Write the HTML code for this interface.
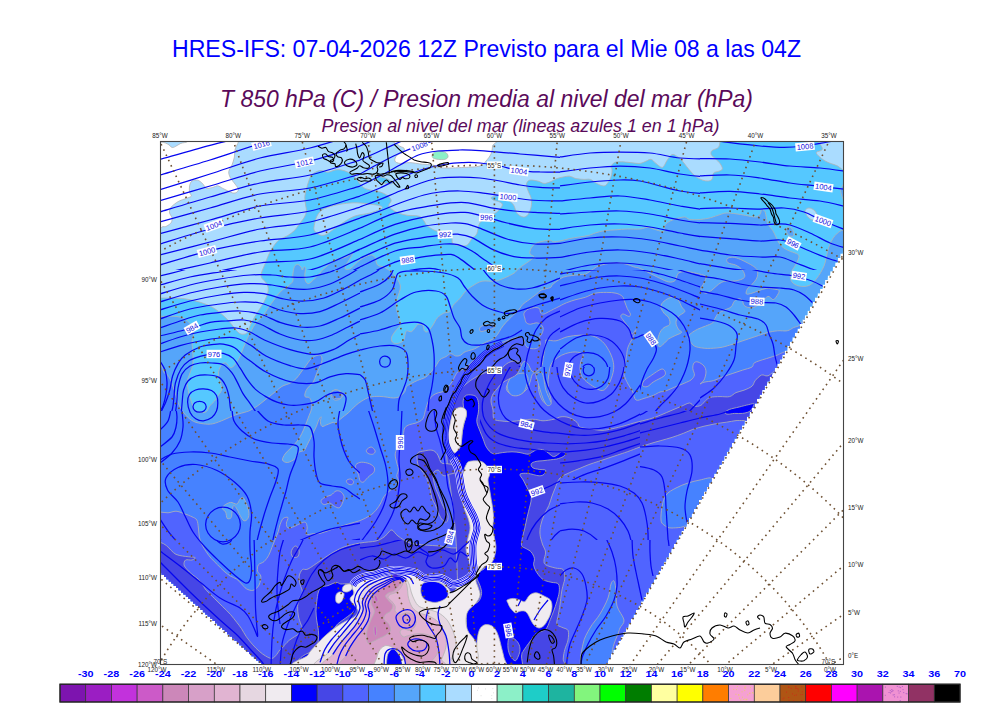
<!DOCTYPE html>
<html><head><meta charset="utf-8"><title>HRES-IFS T850</title>
<style>html,body{margin:0;padding:0;background:#fff;}body{width:1000px;height:707px;overflow:hidden;font-family:"Liberation Sans",sans-serif;}svg{display:block;position:absolute;left:0;top:0;}text{font-family:"Liberation Sans",sans-serif;}.t1{font-size:24.4px;fill:#0000ff;}.t2{font-size:24.6px;fill:#5a0a5a;font-style:italic;}.t3{font-size:18.2px;fill:#5a0a5a;font-style:italic;}.cl{font-size:9.4px;font-weight:bold;fill:#0000ff;text-anchor:middle;}.ax{font-size:6.3px;fill:#222;}.lb{font-size:7.5px;fill:#1010e0;text-anchor:middle;}</style></head><body>
<svg width="1000" height="707" viewBox="0 0 1000 707">
<rect x="0" y="0" width="1000" height="707" fill="#ffffff"/>
<defs><clipPath id="fr"><rect x="160.5" y="141.5" width="683.0" height="523.0"/></clipPath>
<clipPath id="dat"><polygon points="160.0,141.0 844.0,141.0 844.0,247.0 845.2,247.0 845.2,249.2 842.8,249.2 842.8,251.4 842.7,251.4 842.7,253.6 840.3,253.6 840.3,255.8 840.2,255.8 840.2,258.0 837.8,258.0 837.8,260.2 837.6,260.2 837.6,262.4 835.2,262.4 835.2,264.6 835.1,264.6 835.1,266.8 832.7,266.8 832.7,269.0 832.6,269.0 832.6,271.2 830.2,271.2 830.2,273.4 830.1,273.4 830.1,275.6 827.7,275.6 827.7,277.8 827.5,277.8 827.5,280.0 825.1,280.0 825.1,282.2 825.0,282.2 825.0,284.4 822.6,284.4 822.6,286.6 822.5,286.6 822.5,288.8 820.1,288.8 820.1,291.0 820.0,291.0 820.0,293.2 817.6,293.2 817.6,295.4 817.4,295.4 817.4,297.6 815.0,297.6 815.0,299.8 814.9,299.8 814.9,302.0 812.5,302.0 812.5,304.2 812.4,304.2 812.4,306.4 810.0,306.4 810.0,308.6 809.9,308.6 809.9,310.8 807.5,310.8 807.5,313.0 807.4,313.0 807.4,315.2 805.0,315.2 805.0,317.4 804.8,317.4 804.8,319.6 802.4,319.6 802.4,321.8 802.3,321.8 802.3,324.0 799.9,324.0 799.9,326.2 799.8,326.2 799.8,328.4 797.4,328.4 797.4,330.6 797.3,330.6 797.3,332.8 794.9,332.8 794.9,335.0 794.7,335.0 794.7,337.2 792.3,337.2 792.3,339.4 792.2,339.4 792.2,341.6 789.8,341.6 789.8,343.8 789.7,343.8 789.7,346.0 787.3,346.0 787.3,348.2 787.2,348.2 787.2,350.4 784.8,350.4 784.8,352.6 784.6,352.6 784.6,354.8 782.2,354.8 782.2,357.0 782.1,357.0 782.1,359.2 779.7,359.2 779.7,361.4 779.6,361.4 779.6,363.6 777.2,363.6 777.2,365.8 777.1,365.8 777.1,368.0 774.7,368.0 774.7,370.2 774.6,370.2 774.6,372.4 772.2,372.4 772.2,374.6 772.0,374.6 772.0,376.8 769.6,376.8 769.6,379.0 769.5,379.0 769.5,381.2 767.1,381.2 767.1,383.4 767.0,383.4 767.0,385.6 764.6,385.6 764.6,387.8 764.5,387.8 764.5,390.0 762.1,390.0 762.1,392.2 761.9,392.2 761.9,394.4 759.5,394.4 759.5,396.6 759.4,396.6 759.4,398.8 757.0,398.8 757.0,401.0 756.9,401.0 756.9,403.2 754.5,403.2 754.5,405.4 754.4,405.4 754.4,407.6 752.0,407.6 752.0,409.8 751.9,409.8 751.9,412.0 749.5,412.0 749.5,414.2 749.3,414.2 749.3,416.4 746.9,416.4 746.9,418.6 746.8,418.6 746.8,420.8 744.4,420.8 744.4,423.0 744.3,423.0 744.3,425.2 741.9,425.2 741.9,427.4 741.8,427.4 741.8,429.6 739.4,429.6 739.4,431.8 739.2,431.8 739.2,434.0 736.8,434.0 736.8,436.2 736.7,436.2 736.7,438.4 734.3,438.4 734.3,440.6 734.2,440.6 734.2,442.8 731.8,442.8 731.8,445.0 731.7,445.0 731.7,447.2 729.3,447.2 729.3,449.4 729.1,449.4 729.1,451.6 726.7,451.6 726.7,453.8 726.6,453.8 726.6,456.0 724.2,456.0 724.2,458.2 724.1,458.2 724.1,460.4 721.7,460.4 721.7,462.6 721.6,462.6 721.6,464.8 719.2,464.8 719.2,467.0 719.1,467.0 719.1,469.2 716.7,469.2 716.7,471.4 716.5,471.4 716.5,473.6 714.1,473.6 714.1,475.8 714.0,475.8 714.0,478.0 711.6,478.0 711.6,480.2 711.5,480.2 711.5,482.4 709.1,482.4 709.1,484.6 709.0,484.6 709.0,486.8 706.6,486.8 706.6,489.0 706.4,489.0 706.4,491.2 704.0,491.2 704.0,493.4 703.9,493.4 703.9,495.6 701.5,495.6 701.5,497.8 701.4,497.8 701.4,500.0 699.0,500.0 699.0,502.2 698.9,502.2 698.9,504.4 696.5,504.4 696.5,506.6 696.3,506.6 696.3,508.8 693.9,508.8 693.9,511.0 693.8,511.0 693.8,513.2 691.4,513.2 691.4,515.4 691.3,515.4 691.3,517.6 688.9,517.6 688.9,519.8 688.8,519.8 688.8,522.0 686.4,522.0 686.4,524.2 686.3,524.2 686.3,526.4 683.9,526.4 683.9,528.6 683.7,528.6 683.7,530.8 681.3,530.8 681.3,533.0 681.2,533.0 681.2,535.2 678.8,535.2 678.8,537.4 678.7,537.4 678.7,539.6 676.3,539.6 676.3,541.8 676.2,541.8 676.2,544.0 673.8,544.0 673.8,546.2 673.6,546.2 673.6,548.4 671.2,548.4 671.2,550.6 671.1,550.6 671.1,552.8 668.7,552.8 668.7,555.0 668.6,555.0 668.6,557.2 666.2,557.2 666.2,559.4 666.1,559.4 666.1,561.6 663.7,561.6 663.7,563.8 663.5,563.8 663.5,566.0 661.1,566.0 661.1,568.2 661.0,568.2 661.0,570.4 658.6,570.4 658.6,572.6 658.5,572.6 658.5,574.8 656.1,574.8 656.1,577.0 656.0,577.0 656.0,579.2 653.6,579.2 653.6,581.4 653.5,581.4 653.5,583.6 651.1,583.6 651.1,585.8 650.9,585.8 650.9,588.0 648.5,588.0 648.5,590.2 648.4,590.2 648.4,592.4 646.0,592.4 646.0,594.6 645.9,594.6 645.9,596.8 643.5,596.8 643.5,599.0 643.4,599.0 643.4,601.2 641.0,601.2 641.0,603.4 640.8,603.4 640.8,605.6 638.4,605.6 638.4,607.8 638.3,607.8 638.3,610.0 635.9,610.0 635.9,612.2 635.8,612.2 635.8,614.4 633.4,614.4 633.4,616.6 633.3,616.6 633.3,618.8 630.9,618.8 630.9,621.0 630.8,621.0 630.8,623.2 628.4,623.2 628.4,625.4 628.2,625.4 628.2,627.6 625.8,627.6 625.8,629.8 625.7,629.8 625.7,632.0 623.3,632.0 623.3,634.2 623.2,634.2 623.2,636.4 620.8,636.4 620.8,638.6 620.7,638.6 620.7,640.8 618.3,640.8 618.3,643.0 618.1,643.0 618.1,645.2 615.7,645.2 615.7,647.4 615.6,647.4 615.6,649.6 613.2,649.6 613.2,651.8 613.1,651.8 613.1,654.0 610.7,654.0 610.7,656.2 610.6,656.2 610.6,658.4 608.2,658.4 608.2,660.6 608.0,660.6 608.0,662.8 605.6,662.8 605.6,665.0 605.5,665.0 605.5,667.2 603.1,667.2 603.1,669.4 260.0,667.0 261.2,665.0 261.2,662.8 258.8,662.8 258.8,660.6 256.3,660.6 256.3,658.4 253.9,658.4 253.9,656.2 251.5,656.2 251.5,654.0 249.1,654.0 249.1,651.8 246.6,651.8 246.6,649.6 244.2,649.6 244.2,647.4 241.8,647.4 241.8,645.2 239.4,645.2 239.4,643.0 236.9,643.0 236.9,640.8 234.5,640.8 234.5,638.6 232.0,638.6 232.0,636.4 229.6,636.4 229.6,634.2 227.2,634.2 227.2,632.0 224.8,632.0 224.8,629.8 222.3,629.8 222.3,627.6 219.9,627.6 219.9,625.4 217.4,625.4 217.4,623.2 215.0,623.2 215.0,621.0 212.6,621.0 212.6,618.8 210.2,618.8 210.2,616.6 207.7,616.6 207.7,614.4 205.3,614.4 205.3,612.2 202.9,612.2 202.9,610.0 200.5,610.0 200.5,607.8 198.0,607.8 198.0,605.6 195.6,605.6 195.6,603.4 193.1,603.4 193.1,601.2 190.7,601.2 190.7,599.0 188.3,599.0 188.3,596.8 185.9,596.8 185.9,594.6 183.4,594.6 183.4,592.4 181.0,592.4 181.0,590.2 178.5,590.2 178.5,588.0 176.1,588.0 176.1,585.8 173.7,585.8 173.7,583.6 171.3,583.6 171.3,581.4 168.8,581.4 168.8,579.2 166.4,579.2 166.4,577.0 164.0,577.0 164.0,574.8 161.6,574.8 161.6,572.6 160.0,574.5"/></clipPath></defs>
<g clip-path="url(#fr)">
<g clip-path="url(#dat)" stroke-linejoin="round">
<path d="M150.0 130.0 L860.0 130.0 L860.0 680.0 L150.0 680.0Z" fill="#55c8ff"/>
<path d="M150.0 298.0C151.7 325.2 154.0 297.8 160.0 298.0C166.0 298.2 177.7 297.7 186.0 299.0C194.3 300.3 203.3 302.8 210.0 306.0C216.7 309.2 221.7 314.0 226.0 318.0C230.3 322.0 233.5 327.3 236.0 330.0C238.5 332.7 239.2 333.5 241.0 334.0C242.8 334.5 245.5 334.3 247.0 333.0C248.5 331.7 248.8 328.5 250.0 326.0C251.2 323.5 252.5 320.7 254.0 318.0C255.5 315.3 257.3 312.7 259.0 310.0C260.7 307.3 262.5 305.0 264.0 302.0C265.5 299.0 267.5 295.0 268.0 292.0C268.5 289.0 268.2 286.7 267.0 284.0C265.8 281.3 261.3 279.3 261.0 276.0C260.7 272.7 263.5 268.0 265.0 264.0C266.5 260.0 268.2 255.5 270.0 252.0C271.8 248.5 274.3 245.1 276.0 243.0C277.7 240.9 278.0 240.7 280.0 239.4C282.0 238.1 285.6 236.9 288.0 235.4C290.4 233.9 292.5 232.5 294.4 230.6C296.3 228.7 297.6 226.3 299.2 224.2C300.8 222.1 302.8 219.9 304.0 217.8C305.2 215.7 306.1 213.5 306.4 211.4C306.7 209.3 305.9 207.4 305.6 205.0C305.3 202.6 304.7 199.7 304.8 197.0C304.9 194.3 305.7 191.7 306.4 189.0C307.1 186.3 307.9 183.4 308.8 181.0C309.7 178.6 310.1 176.3 312.0 174.6C313.9 172.9 317.3 171.0 320.0 170.6C322.7 170.2 325.3 172.3 328.0 172.2C330.7 172.1 333.3 170.1 336.0 169.8C338.7 169.5 341.3 169.8 344.0 170.6C346.7 171.4 349.9 173.1 352.0 174.6C354.1 176.1 354.9 177.3 356.8 179.4C358.7 181.5 360.5 185.5 363.2 187.4C365.9 189.3 369.9 189.8 372.8 190.6C375.7 191.4 378.4 191.4 380.8 192.2C383.2 193.0 385.5 194.1 387.2 195.4C388.9 196.7 390.9 198.6 391.2 200.2C391.5 201.8 388.9 203.7 388.8 205.0C388.7 206.3 388.8 206.9 390.4 208.2C392.0 209.5 395.5 211.8 398.4 213.0C401.3 214.2 404.5 214.9 408.0 215.4C411.5 215.9 416.5 215.3 419.2 216.2C421.9 217.1 422.7 219.4 424.0 221.0C425.3 222.6 425.3 224.2 427.2 225.8C429.1 227.4 432.8 229.5 435.2 230.6C437.6 231.7 438.9 231.1 441.6 232.2C444.3 233.3 449.3 235.1 451.2 237.0C453.1 238.9 451.2 241.9 452.8 243.4C454.4 244.9 458.4 245.5 460.8 245.8C463.2 246.1 465.3 246.2 467.2 245.0C469.1 243.8 470.4 240.5 472.0 238.6C473.6 236.7 475.5 236.5 476.8 233.8C478.1 231.1 477.9 225.5 480.0 222.6C482.1 219.7 486.7 218.1 489.6 216.2C492.5 214.3 495.5 213.3 497.6 211.4C499.7 209.5 502.1 206.6 502.4 205.0C502.7 203.4 500.7 202.6 499.2 201.8C497.7 201.0 494.9 200.9 493.6 200.2C492.3 199.5 491.1 198.5 491.2 197.8C491.3 197.1 492.8 196.6 494.4 196.2C496.0 195.8 498.7 194.9 500.8 195.4C502.9 195.9 505.1 197.8 507.2 199.4C509.3 201.0 512.0 202.7 513.6 205.0C515.2 207.3 515.2 211.0 516.8 213.0C518.4 215.0 521.3 216.7 523.2 217.0C525.1 217.3 526.7 216.3 528.0 214.6C529.3 212.9 530.7 209.3 531.2 206.6C531.7 203.9 531.7 201.3 531.2 198.6C530.7 195.9 528.8 193.0 528.0 190.6C527.2 188.2 526.1 185.9 526.4 184.2C526.7 182.5 527.7 180.7 529.6 180.2C531.5 179.7 535.2 180.5 537.6 181.0C540.0 181.5 541.9 183.3 544.0 183.4C546.1 183.5 548.3 182.6 550.4 181.8C552.5 181.0 554.7 179.4 556.8 178.6C558.9 177.8 561.1 177.4 563.2 177.0C565.3 176.6 567.5 175.9 569.6 176.2C571.7 176.5 573.6 178.1 576.0 178.6C578.4 179.1 581.6 179.3 584.0 179.4C586.4 179.5 588.5 178.9 590.4 179.4C592.3 179.9 593.6 181.7 595.2 182.6C596.8 183.5 598.4 184.5 600.0 185.0C601.6 185.5 603.5 186.2 604.8 185.8C606.1 185.4 606.9 184.2 608.0 182.6C609.1 181.0 610.5 178.3 611.2 176.2C611.9 174.1 612.0 171.4 612.0 169.8C612.0 168.2 610.8 167.8 611.2 166.6C611.6 165.4 612.8 163.4 614.4 162.6C616.0 161.8 618.1 161.8 620.8 161.8C623.5 161.8 627.2 162.3 630.4 162.6C633.6 162.9 637.3 163.7 640.0 163.4C642.7 163.1 644.5 161.7 646.4 161.0C648.3 160.3 649.6 159.0 651.2 159.4C652.8 159.8 654.1 162.1 656.0 163.4C657.9 164.7 660.5 167.9 662.4 167.4C664.3 166.9 665.6 162.3 667.2 160.2C668.8 158.1 670.4 155.3 672.0 154.6C673.6 153.9 675.2 155.3 676.8 156.2C678.4 157.1 679.7 158.2 681.6 160.2C683.5 162.2 685.9 165.7 688.0 168.2C690.1 170.7 692.3 173.5 694.4 175.4C696.5 177.3 698.7 178.5 700.8 179.4C702.9 180.3 705.3 181.0 707.2 181.0C709.1 181.0 710.9 180.7 712.0 179.4C713.1 178.1 712.5 174.3 713.6 173.0C714.7 171.7 716.9 172.1 718.4 171.4C719.9 170.7 722.1 170.3 722.4 169.0C722.7 167.7 721.2 165.1 720.0 163.4C718.8 161.7 716.7 160.1 715.2 158.6C713.7 157.1 711.7 155.9 711.2 154.6C710.7 153.3 710.8 151.8 712.0 150.6C713.2 149.4 717.1 148.9 718.4 147.4C719.7 145.9 719.6 143.9 720.0 141.8C720.4 139.7 815.8 135.7 720.8 134.6C625.8 133.5 245.1 107.8 150.0 135.0C54.9 162.2 148.3 270.8 150.0 298.0Z" fill="#aadcff" stroke="#b4b4b4" stroke-width="0.8"/>
<path d="M314.0 227.0C314.7 223.0 316.0 214.0 322.0 210.0C328.0 206.0 341.0 203.8 350.0 203.0C359.0 202.2 370.7 204.2 376.0 205.0C381.3 205.8 383.0 206.7 382.0 208.0C381.0 209.3 374.5 211.7 370.0 213.0C365.5 214.3 359.3 214.5 355.0 216.0C350.7 217.5 347.5 219.8 344.0 222.0C340.5 224.2 337.2 226.8 334.0 229.0C330.8 231.2 327.7 234.2 325.0 235.0C322.3 235.8 319.8 235.3 318.0 234.0C316.2 232.7 313.3 231.0 314.0 227.0Z" fill="#aadcff" stroke="#b4b4b4" stroke-width="0.8"/>
<path d="M817.6 135.0C813.0 137.3 822.6 145.9 822.4 148.8C822.2 151.7 816.8 151.0 816.4 152.4C816.0 153.8 818.2 155.6 820.0 157.2C821.8 158.8 824.4 160.6 827.2 162.0C830.0 163.4 833.0 164.1 836.8 165.6C840.6 167.1 847.8 176.1 850.0 171.0C852.2 165.9 855.4 141.0 850.0 135.0C844.6 129.0 822.2 132.7 817.6 135.0Z" fill="#aadcff" stroke="#b4b4b4" stroke-width="0.8"/>
<path d="M805.0 211.0C805.2 209.5 807.3 208.0 809.0 208.0C810.7 208.0 813.7 209.5 815.0 211.0C816.3 212.5 817.3 215.5 817.0 217.0C816.7 218.5 814.5 220.0 813.0 220.0C811.5 220.0 809.3 218.5 808.0 217.0C806.7 215.5 804.8 212.5 805.0 211.0Z" fill="#aadcff" stroke="#b4b4b4" stroke-width="0.8"/>
<path d="M152.0 136.2C166.4 121.5 224.0 135.3 238.4 136.2C252.8 137.1 238.9 139.7 238.4 141.8C237.9 143.9 235.9 146.5 235.2 149.0C234.5 151.5 234.9 154.3 234.4 157.0C233.9 159.7 232.9 162.6 232.0 165.0C231.1 167.4 229.1 169.3 228.8 171.4C228.5 173.5 229.3 175.7 230.4 177.8C231.5 179.9 233.9 182.3 235.2 184.2C236.5 186.1 238.1 187.7 238.4 189.0C238.7 190.3 237.7 191.5 236.8 192.2C235.9 192.9 234.4 193.3 232.8 193.0C231.2 192.7 228.9 191.4 227.2 190.6C225.5 189.8 224.0 189.0 222.4 188.2C220.8 187.4 219.2 185.9 217.6 185.8C216.0 185.7 214.7 187.0 212.8 187.4C210.9 187.8 208.1 188.9 206.4 188.2C204.7 187.5 203.9 184.7 202.4 183.4C200.9 182.1 199.3 180.6 197.6 180.2C195.9 179.8 193.3 180.1 192.0 181.0C190.7 181.9 190.0 183.9 189.6 185.8C189.2 187.7 189.3 190.5 189.6 192.2C189.9 193.9 191.9 195.1 191.2 196.2C190.5 197.3 187.6 197.8 185.6 198.6C183.6 199.4 181.1 200.1 179.2 201.0C177.3 201.9 175.9 203.0 174.4 204.2C172.9 205.4 171.2 206.7 170.4 208.2C169.6 209.7 169.3 211.4 169.6 213.0C169.9 214.6 171.7 216.2 172.0 217.8C172.3 219.4 172.0 221.3 171.2 222.6C170.4 223.9 168.5 225.1 167.2 225.8C165.9 226.5 165.7 226.9 163.2 226.6C160.7 226.3 153.9 239.3 152.0 224.2C150.1 209.1 137.6 150.9 152.0 136.2Z" fill="#ffffff" stroke="#b4b4b4" stroke-width="0.8"/>
<path d="M160.0 137.8C164.5 137.1 182.7 137.1 187.2 137.8C191.7 138.5 188.3 140.9 187.2 141.8C186.1 142.7 182.8 142.6 180.8 143.4C178.8 144.2 176.7 145.9 175.2 146.6C173.7 147.3 173.2 147.8 172.0 147.4C170.8 147.0 169.5 145.1 168.0 144.2C166.5 143.3 164.5 142.7 163.2 142.3C161.9 141.9 160.5 142.5 160.0 141.8C159.5 141.1 155.5 138.5 160.0 137.8Z" fill="#aadcff" stroke="#b4b4b4" stroke-width="0.8"/>
<path d="M395.0 136.0C410.6 134.5 475.8 134.3 492.0 136.0C508.2 137.7 492.7 143.0 492.5 146.0C492.3 149.0 492.1 151.5 491.0 154.0C489.9 156.5 487.8 159.0 486.0 161.0C484.2 163.0 483.7 164.9 480.0 166.0C476.3 167.1 470.4 167.1 464.0 167.4C457.6 167.7 446.8 168.3 441.6 167.9C436.4 167.5 436.0 165.6 432.8 165.0C429.6 164.4 426.3 164.6 422.4 164.2C418.5 163.8 413.3 162.7 409.6 162.6C405.9 162.5 402.5 163.7 400.0 163.4C397.5 163.1 395.4 162.3 394.9 161.0C394.3 159.7 395.4 156.9 396.8 155.4C398.2 153.9 402.0 153.4 403.2 152.2C404.4 151.0 404.8 149.4 404.0 148.2C403.2 147.0 399.9 147.0 398.4 145.0C396.9 143.0 379.4 137.5 395.0 136.0Z" fill="#ffffff" stroke="#b4b4b4" stroke-width="0.8"/>
<path d="M432.0 155.4C432.1 154.4 433.1 152.9 434.4 152.2C435.7 151.5 438.0 150.8 440.0 150.9C442.0 151.1 445.1 152.0 446.4 153.0C447.7 154.0 448.3 155.9 448.0 157.0C447.7 158.1 446.4 159.0 444.8 159.4C443.2 159.8 440.3 159.6 438.4 159.4C436.5 159.2 434.7 158.9 433.6 158.3C432.5 157.6 431.9 156.4 432.0 155.4Z" fill="#8cf0c8" stroke="#b4b4b4" stroke-width="0.8"/>
<path d="M150.0 316.4C151.7 255.8 154.9 316.3 160.0 316.4C165.1 316.5 175.5 315.6 180.8 317.2C186.1 318.8 189.9 323.2 192.0 326.0C194.1 328.8 193.6 331.3 193.6 334.0C193.6 336.7 192.1 339.1 192.0 342.0C191.9 344.9 192.7 347.9 192.8 351.6C192.9 355.3 193.3 360.7 192.8 364.4C192.3 368.1 190.5 371.1 189.6 374.0C188.7 376.9 187.3 378.8 187.2 382.0C187.1 385.2 188.1 390.0 188.8 393.2C189.5 396.4 190.3 398.5 191.2 401.2C192.1 403.9 192.9 407.3 194.4 409.2C195.9 411.1 198.0 412.0 200.0 412.4C202.0 412.8 204.8 412.7 206.4 411.6C208.0 410.5 208.3 407.7 209.6 406.0C210.9 404.3 213.1 402.8 214.4 401.2C215.7 399.6 216.4 398.3 217.6 396.4C218.8 394.5 221.1 392.1 221.6 390.0C222.1 387.9 221.3 386.3 220.8 383.6C220.3 380.9 218.4 376.9 218.4 374.0C218.4 371.1 219.6 367.9 220.8 366.0C222.0 364.1 224.0 362.5 225.6 362.8C227.2 363.1 228.8 367.3 230.4 367.6C232.0 367.9 233.6 366.3 235.2 364.4C236.8 362.5 238.7 359.1 240.0 356.4C241.3 353.7 242.0 351.3 243.2 348.4C244.4 345.5 245.9 341.7 247.2 338.8C248.5 335.9 249.7 333.5 251.2 330.8C252.7 328.1 254.1 325.2 256.0 322.8C257.9 320.4 260.3 319.0 262.4 316.4C264.5 313.8 266.9 309.7 268.8 307.0C270.7 304.3 272.0 302.6 273.6 300.4C275.2 298.2 276.8 295.9 278.4 294.0C280.0 292.1 281.6 290.5 283.2 289.2C284.8 287.9 286.4 287.3 288.0 286.0C289.6 284.7 292.0 283.1 292.8 281.2C293.6 279.3 292.5 277.2 292.8 274.8C293.1 272.4 293.6 268.5 294.4 266.8C295.2 265.1 296.5 264.4 297.6 264.4C298.7 264.4 300.0 265.9 300.8 266.8C301.6 267.7 301.9 270.0 302.4 270.0C302.9 270.0 303.5 267.1 304.0 266.8C304.5 266.5 305.5 267.1 305.6 268.4C305.7 269.7 304.8 272.7 304.8 274.8C304.8 276.9 304.9 279.7 305.6 281.2C306.3 282.7 307.5 283.9 308.8 283.6C310.1 283.3 311.7 281.3 313.6 279.6C315.5 277.9 318.5 274.8 320.0 273.2C321.5 271.6 320.0 272.2 322.5 270.0C325.0 267.8 331.2 262.1 335.0 260.0C338.8 257.9 342.1 258.5 345.0 257.5C347.9 256.5 352.5 252.1 352.5 253.8C352.5 255.4 345.4 265.0 345.0 267.5C344.6 270.0 347.5 270.0 350.0 268.8C352.5 267.5 356.7 262.3 360.0 260.0C363.3 257.7 367.5 255.4 370.0 255.0C372.5 254.6 373.8 255.8 375.0 257.5C376.2 259.2 375.8 263.3 377.5 265.0C379.2 266.7 382.2 265.9 385.0 267.5C387.8 269.1 391.4 271.7 394.0 274.8C396.6 277.9 399.9 282.0 400.4 286.0C400.9 290.0 397.9 295.1 397.2 298.8C396.5 302.5 396.1 305.5 396.4 308.4C396.7 311.3 398.1 313.7 398.8 316.4C399.5 319.1 400.9 322.0 400.4 324.4C399.9 326.8 397.1 328.7 395.6 330.8C394.1 332.9 392.1 335.3 391.6 337.2C391.1 339.1 391.5 340.9 392.4 342.0C393.3 343.1 395.3 343.9 397.2 343.6C399.1 343.3 402.3 342.0 403.6 340.4C404.9 338.8 404.7 335.6 405.2 334.0C405.7 332.4 405.7 331.2 406.8 330.8C407.9 330.4 410.0 332.4 411.6 331.6C413.2 330.8 415.3 327.2 416.4 326.0C417.5 324.8 416.9 324.5 418.0 324.4C419.1 324.3 421.7 324.1 422.8 325.2C423.9 326.3 423.6 329.7 424.4 330.8C425.2 331.9 426.3 332.4 427.6 331.6C428.9 330.8 430.8 328.3 432.4 326.0C434.0 323.7 435.3 320.1 437.2 318.0C439.1 315.9 441.5 314.3 443.6 313.2C445.7 312.1 448.4 312.9 450.0 311.6C451.6 310.3 451.6 307.3 453.2 305.2C454.8 303.1 457.5 301.2 459.6 298.8C461.7 296.4 463.9 292.9 466.0 290.8C468.1 288.7 469.7 287.6 472.4 286.0C475.1 284.4 478.3 282.0 482.0 281.2C485.7 280.4 491.1 281.7 494.8 281.2C498.5 280.7 501.2 279.3 504.4 278.0C507.6 276.7 511.9 274.5 514.0 273.2C516.1 271.9 515.9 271.2 517.2 270.0C518.5 268.8 520.2 267.3 522.0 266.0C523.8 264.7 526.0 263.5 528.0 262.0C530.0 260.5 533.7 258.3 534.0 257.0C534.3 255.7 530.5 255.5 530.0 254.0C529.5 252.5 530.2 250.0 531.2 248.2C532.2 246.4 533.9 244.6 536.0 243.4C538.1 242.2 541.6 241.5 544.0 241.0C546.4 240.5 548.8 240.1 550.4 240.2C552.0 240.3 552.0 241.7 553.6 241.8C555.2 241.9 557.3 241.5 560.0 241.0C562.7 240.5 566.4 239.3 569.6 238.6C572.8 237.9 576.0 237.5 579.2 237.0C582.4 236.5 586.1 236.1 588.8 235.4C591.5 234.7 592.5 233.8 595.2 233.0C597.9 232.2 601.3 231.1 604.8 230.6C608.3 230.1 612.3 230.1 616.0 229.8C619.7 229.5 623.2 229.1 627.2 229.0C631.2 228.9 636.5 229.3 640.0 229.0C643.5 228.7 645.3 227.3 648.0 227.4C650.7 227.5 653.3 229.1 656.0 229.8C658.7 230.5 662.5 232.1 664.0 231.4C665.5 230.7 664.0 227.4 664.8 225.8C665.6 224.2 666.8 223.0 668.8 221.8C670.8 220.6 674.1 219.4 676.8 218.6C679.5 217.8 682.7 216.9 684.8 217.0C686.9 217.1 686.9 219.0 689.6 219.4C692.3 219.8 697.3 219.7 700.8 219.4C704.3 219.1 707.2 218.6 710.4 217.8C713.6 217.0 717.3 215.4 720.0 214.6C722.7 213.8 723.7 213.1 726.4 213.0C729.1 212.9 732.8 213.4 736.0 213.8C739.2 214.2 742.4 214.9 745.6 215.4C748.8 215.9 752.8 217.1 755.2 217.0C757.6 216.9 758.9 215.8 760.0 214.6C761.1 213.4 760.8 210.3 761.6 209.8C762.4 209.3 764.0 210.1 764.8 211.4C765.6 212.7 765.9 215.7 766.4 217.8C766.9 219.9 766.9 222.1 768.0 224.2C769.1 226.3 771.5 228.5 772.8 230.6C774.1 232.7 774.9 234.9 776.0 237.0C777.1 239.1 777.9 241.5 779.2 243.4C780.5 245.3 782.1 246.9 784.0 248.2C785.9 249.5 788.6 250.6 790.4 251.4C792.2 252.2 793.6 252.2 795.0 253.0C796.4 253.8 798.8 254.2 799.0 256.0C799.2 257.8 797.4 261.0 796.0 264.0C794.6 267.0 791.2 271.0 790.5 274.0C789.8 277.0 790.6 280.0 792.0 282.0C793.4 284.0 796.2 285.4 799.0 286.0C801.8 286.6 806.0 286.8 809.0 285.5C812.0 284.2 814.5 281.2 817.0 278.0C819.5 274.8 822.3 270.0 824.0 266.0C825.7 262.0 826.1 257.5 827.0 254.0C827.9 250.5 828.6 247.6 829.6 245.0C830.6 242.4 831.5 240.6 832.8 238.6C834.1 236.6 835.9 234.4 837.6 233.0C839.3 231.6 840.6 230.8 843.0 230.0C845.4 229.2 850.5 153.0 852.0 228.0C853.5 303.0 969.0 604.7 852.0 680.0C735.0 755.3 267.0 740.6 150.0 680.0C33.0 619.4 148.3 377.0 150.0 316.4Z" fill="#55a5fa" stroke="#b4b4b4" stroke-width="0.8"/>
<path d="M786.4 228.2C787.1 227.5 789.2 226.7 790.4 227.4C791.6 228.1 793.2 230.7 793.6 232.2C794.0 233.7 793.6 235.7 792.8 236.2C792.0 236.7 789.9 236.2 788.8 235.4C787.7 234.6 786.8 232.6 786.4 231.4C786.0 230.2 785.7 228.9 786.4 228.2Z" fill="#55a5fa" stroke="#b4b4b4" stroke-width="0.8"/>
<path d="M845.0 184.0C844.3 181.8 841.6 187.2 841.0 189.0C840.4 190.8 840.9 192.8 841.6 195.0C842.3 197.2 844.4 203.8 845.0 202.0C845.6 200.2 845.7 186.2 845.0 184.0Z" fill="#55a5fa" stroke="#b4b4b4" stroke-width="0.8"/>
<path d="M150.0 373.0C152.5 321.9 161.5 372.5 164.8 373.4C168.1 374.3 168.3 376.1 169.6 378.2C170.9 380.3 171.7 383.3 172.8 386.2C173.9 389.1 174.9 392.6 176.0 395.8C177.1 399.0 177.6 402.2 179.2 405.4C180.8 408.6 183.2 412.3 185.6 415.0C188.0 417.7 190.7 419.9 193.6 421.4C196.5 422.9 200.0 423.4 203.2 423.8C206.4 424.2 209.3 424.5 212.8 423.8C216.3 423.1 220.3 421.3 224.0 419.8C227.7 418.3 231.5 416.3 235.2 415.0C238.9 413.7 243.9 412.6 246.4 411.8C248.9 411.0 248.1 411.4 250.0 410.4C251.9 409.4 255.3 407.5 258.0 405.6C260.7 403.7 263.3 401.3 266.0 399.2C268.7 397.1 271.3 394.9 274.0 392.8C276.7 390.7 279.3 388.0 282.0 386.4C284.7 384.8 287.6 384.5 290.0 383.2C292.4 381.9 294.5 380.3 296.4 378.4C298.3 376.5 299.6 374.1 301.2 372.0C302.8 369.9 304.4 367.7 306.0 365.6C307.6 363.5 309.2 360.8 310.8 359.2C312.4 357.6 314.0 356.7 315.6 356.0C317.2 355.3 319.3 354.7 320.4 355.2C321.5 355.7 322.0 357.5 322.0 359.2C322.0 360.9 321.2 363.5 320.4 365.6C319.6 367.7 318.1 369.9 317.2 372.0C316.3 374.1 315.6 376.5 314.8 378.4C314.0 380.3 313.6 381.6 312.4 383.2C311.2 384.8 308.8 386.4 307.6 388.0C306.4 389.6 305.6 391.3 305.2 392.8C304.8 394.3 304.5 396.0 305.2 396.8C305.9 397.6 308.1 396.7 309.2 397.6C310.3 398.5 311.2 400.5 311.6 402.4C312.0 404.3 312.0 406.7 311.6 408.8C311.2 410.9 310.0 413.1 309.2 415.2C308.4 417.3 307.7 419.2 306.8 421.6C305.9 424.0 304.8 426.9 303.6 429.6C302.4 432.3 301.1 435.2 299.6 437.6C298.1 440.0 296.4 442.1 294.8 444.0C293.2 445.9 291.6 447.1 290.0 448.8C288.4 450.5 286.2 452.1 285.0 454.0C283.8 455.9 282.1 458.6 282.5 460.0C282.9 461.4 285.4 462.7 287.5 462.5C289.6 462.3 293.1 460.4 295.0 458.8C296.9 457.1 297.4 453.8 298.8 452.5C300.1 451.2 301.9 451.4 302.8 451.0C303.7 450.6 303.6 451.6 304.4 450.4C305.2 449.2 306.5 446.1 307.6 444.0C308.7 441.9 309.7 439.7 310.8 437.6C311.9 435.5 313.1 433.1 314.0 431.2C314.9 429.3 315.6 428.3 316.4 426.4C317.2 424.5 318.0 421.6 318.8 420.0C319.6 418.4 320.9 416.5 321.2 416.8C321.5 417.1 320.3 420.0 320.4 421.6C320.5 423.2 320.9 425.9 322.0 426.4C323.1 426.9 324.9 425.5 326.8 424.8C328.7 424.1 331.7 422.7 333.2 422.4C334.7 422.1 334.7 423.6 336.0 423.0C337.3 422.4 338.7 420.6 340.8 418.8C342.9 417.0 346.4 414.5 348.8 412.4C351.2 410.3 353.1 407.9 355.2 406.0C357.3 404.1 359.2 402.7 361.6 401.2C364.0 399.7 366.7 398.0 369.6 397.2C372.5 396.4 376.3 396.4 379.2 396.4C382.1 396.4 384.8 396.9 387.2 397.2C389.6 397.5 391.5 398.1 393.6 398.0C395.7 397.9 398.1 397.5 400.0 396.4C401.9 395.3 403.7 393.2 404.8 391.6C405.9 390.0 405.3 388.1 406.4 386.8C407.5 385.5 409.3 384.7 411.2 383.6C413.1 382.5 415.2 381.5 417.6 380.4C420.0 379.3 423.2 378.8 425.6 377.2C428.0 375.6 430.1 372.9 432.0 370.8C433.9 368.7 435.5 366.3 436.8 364.4C438.1 362.5 438.5 360.9 440.0 359.6C441.5 358.3 444.2 357.6 446.0 356.6C447.8 355.6 449.2 353.7 450.8 353.6C452.4 353.5 454.0 355.7 455.6 356.0C457.2 356.3 459.0 356.0 460.4 355.4C461.8 354.8 462.6 353.2 464.0 352.4C465.4 351.6 467.0 351.2 468.8 350.6C470.6 350.0 472.8 349.7 474.8 348.8C476.8 347.9 478.8 346.4 480.8 345.2C482.8 344.0 484.8 342.6 486.8 341.6C488.8 340.6 491.0 340.4 492.8 339.2C494.6 338.0 496.2 336.2 497.6 334.4C499.0 332.6 499.8 330.4 501.2 328.4C502.6 326.4 504.4 324.2 506.0 322.4C507.6 320.6 509.4 319.0 510.8 317.6C512.2 316.2 513.0 315.4 514.4 314.0C515.8 312.6 517.8 310.8 519.2 309.2C520.6 307.6 521.4 305.8 522.8 304.4C524.2 303.0 526.0 302.0 527.6 300.8C529.2 299.6 530.8 298.4 532.4 297.2C534.0 296.0 535.7 294.8 537.2 293.6C538.7 292.4 539.3 291.0 541.5 290.0C543.7 289.0 548.6 288.4 550.4 287.6C552.1 286.8 550.9 286.3 552.0 285.2C553.1 284.1 554.9 282.5 556.8 281.2C558.7 279.9 560.8 278.1 563.2 277.2C565.6 276.3 568.5 276.0 571.2 275.6C573.9 275.2 576.8 275.1 579.2 274.8C581.6 274.5 583.5 274.8 585.6 274.0C587.7 273.2 589.9 271.3 592.0 270.0C594.1 268.7 595.7 267.1 598.4 266.0C601.1 264.9 604.8 264.1 608.0 263.6C611.2 263.1 614.4 262.7 617.6 262.8C620.8 262.9 624.5 263.7 627.2 264.4C629.9 265.1 631.5 266.1 633.6 266.8C635.7 267.5 637.3 267.3 640.0 268.4C642.7 269.5 646.4 271.6 649.6 273.2C652.8 274.8 656.0 276.5 659.2 278.0C662.4 279.5 666.1 281.6 668.8 282.0C671.5 282.4 673.6 281.9 675.2 280.4C676.8 278.9 676.5 274.7 678.4 273.2C680.3 271.7 683.5 271.6 686.4 271.6C689.3 271.6 692.8 272.4 696.0 273.2C699.2 274.0 704.3 274.8 705.6 276.4C706.9 278.0 704.8 280.7 704.0 282.8C703.2 284.9 700.5 287.5 700.8 289.2C701.1 290.9 703.7 293.1 705.6 293.2C707.5 293.3 709.9 291.5 712.0 290.0C714.1 288.5 716.3 285.9 718.4 284.4C720.5 282.9 722.4 281.7 724.8 281.2C727.2 280.7 730.1 281.5 732.8 281.2C735.5 280.9 738.8 280.4 740.8 279.6C742.8 278.8 744.5 278.0 744.8 276.4C745.1 274.8 743.9 271.9 742.4 270.0C740.9 268.1 738.4 266.4 736.0 265.2C733.6 264.0 729.5 263.9 728.0 262.8C726.5 261.7 726.4 259.7 727.2 258.8C728.0 257.9 730.5 257.1 732.8 257.2C735.1 257.3 738.1 258.5 740.8 259.6C743.5 260.7 746.4 262.3 748.8 263.6C751.2 264.9 753.7 266.3 755.2 267.6C756.7 268.9 757.3 269.9 757.6 271.6C757.9 273.3 757.7 275.9 756.8 278.0C755.9 280.1 753.6 282.5 752.0 284.4C750.4 286.3 748.1 287.6 747.2 289.2C746.3 290.8 745.6 293.3 746.4 294.0C747.2 294.7 750.0 293.7 752.0 293.2C754.0 292.7 756.0 291.6 758.4 290.8C760.8 290.0 763.7 288.7 766.4 288.4C769.1 288.1 772.3 288.8 774.4 289.2C776.5 289.6 778.9 289.5 779.2 290.8C779.5 292.1 777.1 295.7 776.0 297.2C774.9 298.7 774.1 299.7 772.8 299.6C771.5 299.5 769.9 296.0 768.0 296.4C766.1 296.8 763.7 300.3 761.6 302.0C759.5 303.7 757.3 305.9 755.2 306.8C753.1 307.7 750.7 307.9 748.8 307.6C746.9 307.3 745.1 306.4 744.0 305.2C742.9 304.0 743.2 301.5 742.4 300.4C741.6 299.3 740.5 298.7 739.2 298.8C737.9 298.9 735.7 299.9 734.4 301.2C733.1 302.5 732.8 305.3 731.2 306.8C729.6 308.3 726.9 308.9 724.8 310.0C722.7 311.1 720.0 311.9 718.4 313.2C716.8 314.5 716.1 316.4 715.2 318.0C714.3 319.6 714.4 321.5 712.8 322.8C711.2 324.1 708.1 324.9 705.6 326.0C703.1 327.1 700.0 328.0 697.6 329.2C695.2 330.4 692.8 331.9 691.2 333.2C689.6 334.5 688.0 335.6 688.0 337.2C688.0 338.8 689.9 341.2 691.2 342.8C692.5 344.4 693.3 345.9 696.0 346.8C698.7 347.7 703.2 348.3 707.2 348.4C711.2 348.5 716.3 348.1 720.0 347.6C723.7 347.1 726.4 346.1 729.6 345.2C732.8 344.3 736.0 343.1 739.2 342.0C742.4 340.9 745.6 339.9 748.8 338.8C752.0 337.7 755.2 336.7 758.4 335.6C761.6 334.5 764.8 333.2 768.0 332.4C771.2 331.6 774.4 331.1 777.6 330.8C780.8 330.5 784.5 331.3 787.2 330.8C789.9 330.3 791.5 328.5 793.6 327.6C795.7 326.7 797.3 326.8 800.0 325.2C802.7 323.6 800.9 317.2 809.6 318.0C818.3 318.8 844.9 269.7 852.0 330.0C859.1 390.3 969.0 621.7 852.0 680.0C735.0 738.3 267.0 731.2 150.0 680.0C33.0 628.8 147.5 424.1 150.0 373.0Z" fill="#4682ff" stroke="#b4b4b4" stroke-width="0.8"/>
<path d="M660.8 306.8C660.8 304.8 662.1 302.8 664.0 301.2C665.9 299.6 669.6 297.3 672.0 297.2C674.4 297.1 676.8 298.8 678.4 300.4C680.0 302.0 680.5 304.9 681.6 306.8C682.7 308.7 685.3 310.0 684.8 311.6C684.3 313.2 679.9 314.5 678.4 316.4C676.9 318.3 676.0 320.7 676.0 322.8C676.0 324.9 677.5 327.6 678.4 329.2C679.3 330.8 682.1 331.3 681.6 332.4C681.1 333.5 677.3 334.5 675.2 335.6C673.1 336.7 670.7 337.5 668.8 338.8C666.9 340.1 665.6 342.3 664.0 343.6C662.4 344.9 660.3 347.2 659.2 346.8C658.1 346.4 657.5 343.6 657.6 341.2C657.7 338.8 658.9 334.7 660.0 332.4C661.1 330.1 662.4 328.9 664.0 327.6C665.6 326.3 668.8 326.0 669.6 324.4C670.4 322.8 669.7 319.9 668.8 318.0C667.9 316.1 665.3 315.1 664.0 313.2C662.7 311.3 660.8 308.8 660.8 306.8Z" fill="#55a5fa" stroke="#b4b4b4" stroke-width="0.8"/>
<path d="M330.8 392.8C331.3 391.7 333.2 390.2 334.8 389.9C336.4 389.7 339.1 390.3 340.4 391.2C341.7 392.1 342.9 393.9 342.8 395.2C342.7 396.5 340.9 398.4 339.6 399.2C338.3 400.0 336.1 400.4 334.8 400.0C333.5 399.6 332.3 398.0 331.6 396.8C330.9 395.6 330.3 393.9 330.8 392.8Z" fill="#4682ff" stroke="#b4b4b4" stroke-width="0.8"/>
<path d="M479.6 328.4C479.8 327.5 480.6 326.6 482.0 326.0C483.4 325.4 486.0 325.1 488.0 324.8C490.0 324.5 492.8 324.0 494.0 324.2C495.2 324.4 495.4 325.3 495.2 326.0C495.0 326.7 494.2 327.7 492.8 328.4C491.4 329.1 488.8 329.7 486.8 330.2C484.8 330.7 482.0 331.7 480.8 331.4C479.6 331.1 479.4 329.3 479.6 328.4Z" fill="#4682ff" stroke="#b4b4b4" stroke-width="0.8"/>
<path d="M331.2 392.4C331.7 391.3 334.4 390.0 336.0 390.0C337.6 390.0 339.9 391.2 340.8 392.4C341.7 393.6 342.3 396.1 341.6 397.2C340.9 398.3 338.3 398.9 336.8 398.8C335.3 398.7 333.7 397.5 332.8 396.4C331.9 395.3 330.7 393.5 331.2 392.4Z" fill="#4682ff" stroke="#b4b4b4" stroke-width="0.8"/>
<path d="M150.0 512.0C151.7 484.0 157.0 511.9 160.0 512.0C163.0 512.1 165.3 512.9 168.0 512.8C170.7 512.7 173.3 511.1 176.0 511.2C178.7 511.3 181.3 512.7 184.0 513.6C186.7 514.5 189.9 515.7 192.0 516.8C194.1 517.9 195.7 518.1 196.8 520.0C197.9 521.9 198.0 525.3 198.4 528.0C198.8 530.7 198.7 533.3 199.2 536.0C199.7 538.7 200.4 541.3 201.6 544.0C202.8 546.7 204.8 549.6 206.4 552.0C208.0 554.4 209.3 556.3 211.2 558.4C213.1 560.5 215.5 562.7 217.6 564.8C219.7 566.9 221.9 569.3 224.0 571.2C226.1 573.1 228.3 574.7 230.4 576.0C232.5 577.3 234.9 577.9 236.8 579.2C238.7 580.5 240.0 582.4 241.6 584.0C243.2 585.6 244.5 587.7 246.4 588.8C248.3 589.9 250.9 590.7 252.8 590.4C254.7 590.1 256.4 588.5 257.6 587.2C258.8 585.9 259.5 584.3 260.0 582.4C260.5 580.5 261.2 577.9 260.8 576.0C260.4 574.1 258.0 573.1 257.6 571.2C257.2 569.3 257.3 566.4 258.4 564.8C259.5 563.2 262.3 563.2 264.0 561.6C265.7 560.0 267.5 557.6 268.8 555.2C270.1 552.8 270.9 549.9 272.0 547.2C273.1 544.5 274.1 541.9 275.2 539.2C276.3 536.5 277.6 533.6 278.4 531.2C279.2 528.8 279.2 526.9 280.0 524.8C280.8 522.7 281.9 519.6 283.2 518.4C284.5 517.2 287.5 516.8 288.0 517.6C288.5 518.4 286.4 521.5 286.4 523.2C286.4 524.9 286.7 527.5 288.0 528.0C289.3 528.5 292.3 527.2 294.4 526.4C296.5 525.6 298.9 523.9 300.8 523.2C302.7 522.5 304.5 521.6 305.6 522.4C306.7 523.2 307.1 526.0 307.2 528.0C307.3 530.0 305.3 533.5 306.4 534.4C307.5 535.3 311.3 533.8 313.6 533.6C315.9 533.4 317.3 534.0 320.0 533.4C322.7 532.8 326.4 531.3 329.6 530.2C332.8 529.1 336.0 528.1 339.2 527.0C342.4 525.9 345.3 524.9 348.8 523.8C352.3 522.7 356.5 521.9 360.0 520.6C363.5 519.3 366.9 517.5 369.6 515.8C372.3 514.1 374.1 512.3 376.0 510.2C377.9 508.1 379.5 505.3 380.8 503.0C382.1 500.7 382.4 498.7 384.0 496.6C385.6 494.5 388.3 491.8 390.4 490.2C392.5 488.6 395.5 488.6 396.8 487.0C398.1 485.4 398.4 482.5 398.4 480.6C398.4 478.7 396.8 477.7 396.8 475.8C396.8 473.9 398.4 471.5 398.4 469.4C398.4 467.3 397.3 465.4 396.8 463.0C396.3 460.6 395.2 457.4 395.2 455.0C395.2 452.6 396.0 450.7 396.8 448.6C397.6 446.5 398.9 444.6 400.0 442.2C401.1 439.8 402.4 436.6 403.2 434.2C404.0 431.8 403.7 429.4 404.8 427.8C405.9 426.2 407.7 425.4 409.6 424.6C411.5 423.8 413.8 423.9 416.0 423.0C418.2 422.1 421.2 421.1 422.8 418.9C424.4 416.7 424.7 412.6 425.6 409.6C426.5 406.7 427.2 403.5 428.4 401.2C429.6 398.9 431.0 397.0 432.6 395.6C434.2 394.2 436.3 393.5 438.2 392.8C440.1 392.1 442.2 392.3 443.8 391.4C445.4 390.5 446.6 388.8 448.0 387.2C449.4 385.6 451.0 383.5 452.2 381.6C453.4 379.7 454.1 377.6 455.0 376.0C455.9 374.4 456.6 372.9 457.8 371.8C459.0 370.8 460.4 370.6 462.0 369.7C463.6 368.8 465.7 367.7 467.6 366.2C469.5 364.7 471.3 362.2 473.2 360.6C475.1 359.0 476.7 357.8 478.8 356.4C480.9 355.0 483.7 353.6 485.8 352.2C487.9 350.8 489.5 349.3 491.4 348.0C493.3 346.7 495.1 345.4 497.0 344.5C498.9 343.6 500.5 343.2 502.6 342.4C504.7 341.6 507.3 340.4 509.6 339.6C511.9 338.8 514.5 338.0 516.6 337.5C518.7 337.0 520.9 336.2 522.2 336.8C523.5 337.4 523.6 339.4 524.3 341.0C525.0 342.6 525.1 345.3 526.4 346.6C527.7 347.9 530.1 348.5 532.0 348.7C533.9 348.9 536.2 348.8 537.6 348.0C539.0 347.2 540.2 345.4 540.4 343.8C540.6 342.2 538.8 339.8 539.0 338.2C539.2 336.6 541.1 335.6 541.8 334.0C542.5 332.4 543.4 330.0 543.2 328.4C543.0 326.8 541.6 325.1 540.4 324.2C539.2 323.3 537.8 322.8 536.2 322.8C534.6 322.8 532.2 324.2 530.6 324.2C529.0 324.2 527.4 323.8 526.4 322.8C525.4 321.8 525.2 319.6 524.8 318.0C524.4 316.4 523.5 314.7 524.0 313.2C524.5 311.7 526.3 310.1 528.0 309.2C529.7 308.3 532.5 307.7 534.4 307.6C536.3 307.5 538.1 307.5 539.2 308.4C540.3 309.3 540.0 312.3 540.8 313.2C541.6 314.1 542.4 314.4 544.0 314.0C545.6 313.6 548.3 311.9 550.4 310.8C552.5 309.7 554.1 308.9 556.8 307.6C559.5 306.3 563.2 304.1 566.4 302.8C569.6 301.5 572.8 300.5 576.0 299.6C579.2 298.7 582.4 298.3 585.6 297.2C588.8 296.1 591.7 294.0 595.2 293.2C598.7 292.4 602.9 292.4 606.4 292.4C609.9 292.4 613.3 292.5 616.0 293.2C618.7 293.9 620.9 294.9 622.4 296.4C623.9 297.9 624.0 300.0 624.8 302.0C625.6 304.0 626.3 306.4 627.2 308.4C628.1 310.4 630.1 312.7 630.4 314.0C630.7 315.3 630.0 316.4 628.8 316.4C627.6 316.4 624.5 314.0 623.2 314.0C621.9 314.0 620.7 315.2 620.8 316.4C620.9 317.6 622.7 319.3 624.0 321.2C625.3 323.1 627.5 325.5 628.8 327.6C630.1 329.7 630.8 333.7 632.0 334.0C633.2 334.3 635.9 329.0 636.0 329.6C636.1 330.2 634.1 334.7 632.8 337.6C631.5 340.5 629.1 344.0 628.0 347.2C626.9 350.4 626.9 353.6 626.4 356.8C625.9 360.0 625.2 363.5 624.8 366.4C624.4 369.3 623.5 371.5 624.0 374.4C624.5 377.3 626.5 381.1 628.0 384.0C629.5 386.9 631.5 389.3 632.8 392.0C634.1 394.7 634.1 398.9 636.0 400.0C637.9 401.1 641.1 399.2 644.0 398.4C646.9 397.6 650.9 396.3 653.6 395.2C656.3 394.1 658.0 392.7 660.0 392.0C662.0 391.3 662.8 392.0 665.6 391.0C668.4 390.0 673.6 387.5 676.8 386.2C680.0 384.9 682.4 384.1 684.8 383.0C687.2 381.9 689.6 381.1 691.2 379.8C692.8 378.5 694.1 376.9 694.4 375.0C694.7 373.1 692.9 370.6 692.8 368.6C692.7 366.6 693.1 364.1 694.0 363.0C694.9 361.9 696.3 361.5 698.0 362.0C699.7 362.5 702.7 364.3 704.0 366.0C705.3 367.7 706.0 369.7 706.0 372.0C706.0 374.3 705.0 378.0 704.0 380.0C703.0 382.0 700.0 383.6 700.0 384.0C700.0 384.4 701.7 382.8 704.0 382.2C706.3 381.6 710.4 381.5 713.6 380.6C716.8 379.7 720.0 377.8 723.2 376.6C726.4 375.4 729.6 374.5 732.8 373.4C736.0 372.3 739.2 371.3 742.4 370.2C745.6 369.1 749.9 368.3 752.0 367.0C754.1 365.7 752.0 364.1 755.0 362.5C758.0 360.9 766.2 358.8 770.0 357.5C773.8 356.2 774.2 356.2 777.5 355.0C780.8 353.8 777.6 354.2 790.0 350.0C802.4 345.8 841.7 275.0 852.0 330.0C862.3 385.0 969.0 621.7 852.0 680.0C735.0 738.3 267.0 708.0 150.0 680.0C33.0 652.0 148.3 540.0 150.0 512.0Z" fill="#5064ff" stroke="#b4b4b4" stroke-width="0.8"/>
<path d="M546.4 340.0C548.1 339.7 552.5 341.3 556.0 340.8C559.5 340.3 563.2 337.7 567.2 336.8C571.2 335.9 575.7 335.3 580.0 335.2C584.3 335.1 589.1 334.9 592.8 336.0C596.5 337.1 599.7 339.2 602.4 341.6C605.1 344.0 607.1 347.3 608.8 350.4C610.5 353.5 612.0 356.8 612.8 360.0C613.6 363.2 614.0 366.1 613.6 369.6C613.2 373.1 611.7 377.6 610.4 380.8C609.1 384.0 607.2 387.2 605.6 388.8C604.0 390.4 602.7 390.7 600.8 390.4C598.9 390.1 596.8 388.7 594.4 387.2C592.0 385.7 588.5 383.5 586.4 381.6C584.3 379.7 582.7 378.3 581.6 376.0C580.5 373.7 580.1 370.4 580.0 368.0C579.9 365.6 580.3 363.9 580.8 361.6C581.3 359.3 584.1 356.0 583.2 354.4C582.3 352.8 578.1 352.1 575.2 352.0C572.3 351.9 568.5 352.7 565.6 353.6C562.7 354.5 560.0 355.9 557.6 357.6C555.2 359.3 552.7 361.2 551.2 364.0C549.7 366.8 549.3 371.1 548.8 374.4C548.3 377.7 547.9 380.8 548.0 384.0C548.1 387.2 549.1 390.7 549.6 393.6C550.1 396.5 551.5 399.7 551.2 401.6C550.9 403.5 549.3 404.8 548.0 404.8C546.7 404.8 544.5 403.2 543.2 401.6C541.9 400.0 540.8 397.6 540.0 395.2C539.2 392.8 538.4 389.9 538.4 387.2C538.4 384.5 540.1 381.5 540.0 379.2C539.9 376.9 538.8 374.5 537.6 373.6C536.4 372.7 534.0 372.4 532.8 373.6C531.6 374.8 531.3 378.3 530.4 380.8C529.5 383.3 528.8 386.7 527.2 388.8C525.6 390.9 522.9 392.5 520.8 393.6C518.7 394.7 516.5 395.5 514.4 395.2C512.3 394.9 509.3 393.3 508.0 392.0C506.7 390.7 506.1 389.1 506.4 387.2C506.7 385.3 508.3 382.9 509.6 380.8C510.9 378.7 512.5 376.8 514.4 374.4C516.3 372.0 519.2 368.5 520.8 366.4C522.4 364.3 522.8 362.0 524.0 361.6C525.2 361.2 526.7 362.4 528.0 364.0C529.3 365.6 530.5 370.0 532.0 371.2C533.5 372.4 535.2 372.0 536.8 371.2C538.4 370.4 540.5 368.5 541.6 366.4C542.7 364.3 542.7 361.3 543.2 358.4C543.7 355.5 544.4 351.5 544.8 348.8C545.2 346.1 545.3 343.9 545.6 342.4C545.9 340.9 544.7 340.3 546.4 340.0Z" fill="#4682ff" stroke="#b4b4b4" stroke-width="0.8"/>
<path d="M642.4 385.6C641.9 384.6 642.7 382.4 644.0 380.8C645.3 379.2 647.4 378.0 650.4 376.0C653.4 374.0 659.6 369.2 662.0 369.0C664.4 368.8 666.4 372.9 665.0 375.0C663.6 377.1 656.6 379.9 653.6 381.8C650.6 383.7 649.1 386.0 647.2 386.6C645.3 387.2 642.9 386.6 642.4 385.6Z" fill="#5064ff" stroke="#b4b4b4" stroke-width="0.8"/>
<path d="M507.2 386.2C507.2 383.5 508.8 380.2 510.4 378.2C512.0 376.2 514.4 375.0 516.8 374.2C519.2 373.4 522.9 372.7 524.8 373.4C526.7 374.1 527.7 376.1 528.0 378.2C528.3 380.3 527.2 383.8 526.4 386.2C525.6 388.6 524.8 391.0 523.2 392.6C521.6 394.2 518.9 395.5 516.8 395.8C514.7 396.1 512.0 395.8 510.4 394.2C508.8 392.6 507.2 388.9 507.2 386.2Z" fill="#4682ff" stroke="#b4b4b4" stroke-width="0.8"/>
<path d="M536.0 374.2C536.7 372.7 540.3 371.7 541.6 372.6C542.9 373.5 543.3 377.0 544.0 379.8C544.7 382.6 544.8 386.5 545.6 389.4C546.4 392.3 547.9 395.0 548.8 397.4C549.7 399.8 551.5 402.5 551.2 403.8C550.9 405.1 548.5 406.2 547.2 405.4C545.9 404.6 544.4 401.7 543.2 399.0C542.0 396.3 540.9 392.3 540.0 389.4C539.1 386.5 538.3 383.9 537.6 381.4C536.9 378.9 535.3 375.7 536.0 374.2Z" fill="#4682ff" stroke="#b4b4b4" stroke-width="0.8"/>
<path d="M356.0 464.6C356.9 463.4 359.3 462.3 361.6 462.2C363.9 462.1 367.5 462.9 369.6 463.8C371.7 464.7 373.7 466.3 374.4 467.8C375.1 469.3 374.4 471.3 373.6 472.6C372.8 473.9 370.8 474.7 369.6 475.8C368.4 476.9 367.5 477.9 366.4 479.0C365.3 480.1 364.3 481.9 363.2 482.2C362.1 482.5 360.8 481.9 360.0 480.6C359.2 479.3 359.1 476.1 358.4 474.2C357.7 472.3 356.4 471.0 356.0 469.4C355.6 467.8 355.1 465.8 356.0 464.6Z" fill="#5064ff" stroke="#b4b4b4" stroke-width="0.8"/>
<path d="M366.4 450.2C366.9 449.1 369.7 446.9 371.2 447.0C372.7 447.1 374.9 449.8 375.2 451.0C375.5 452.2 374.0 453.8 372.8 454.2C371.6 454.6 369.1 454.1 368.0 453.4C366.9 452.7 365.9 451.3 366.4 450.2Z" fill="#5064ff" stroke="#b4b4b4" stroke-width="0.8"/>
<path d="M321.6 499.8C322.4 498.7 324.8 497.4 326.4 496.6C328.0 495.8 329.6 495.9 331.2 495.0C332.8 494.1 334.4 491.5 336.0 491.0C337.6 490.5 339.5 490.9 340.8 491.8C342.1 492.7 343.7 494.7 344.0 496.6C344.3 498.5 343.2 501.1 342.4 503.0C341.6 504.9 340.5 507.3 339.2 507.8C337.9 508.3 336.0 507.0 334.4 506.2C332.8 505.4 331.2 503.3 329.6 503.0C328.0 502.7 326.1 504.6 324.8 504.6C323.5 504.6 322.1 503.8 321.6 503.0C321.1 502.2 320.8 500.9 321.6 499.8Z" fill="#5064ff" stroke="#b4b4b4" stroke-width="0.8"/>
<path d="M346.4 480.6C346.8 479.8 349.2 478.9 350.4 479.0C351.6 479.1 353.3 480.5 353.6 481.4C353.9 482.3 352.9 484.2 352.0 484.6C351.1 485.0 348.9 484.5 348.0 483.8C347.1 483.1 346.0 481.4 346.4 480.6Z" fill="#5064ff" stroke="#b4b4b4" stroke-width="0.8"/>
<path d="M224.0 505.6C225.3 504.5 228.3 502.7 230.4 502.4C232.5 502.1 235.2 504.5 236.8 504.0C238.4 503.5 238.9 500.3 240.0 499.2C241.1 498.1 242.1 496.8 243.2 497.6C244.3 498.4 245.5 501.6 246.4 504.0C247.3 506.4 248.5 509.6 248.8 512.0C249.1 514.4 248.8 516.9 248.0 518.4C247.2 519.9 245.3 521.3 244.0 520.8C242.7 520.3 241.2 517.2 240.0 515.2C238.8 513.2 237.9 510.4 236.8 508.8C235.7 507.2 234.4 505.1 233.6 505.6C232.8 506.1 232.4 510.0 232.0 512.0C231.6 514.0 232.0 516.5 231.2 517.6C230.4 518.7 228.1 519.3 227.2 518.4C226.3 517.5 226.4 513.6 225.6 512.0C224.8 510.4 222.7 509.9 222.4 508.8C222.1 507.7 222.7 506.7 224.0 505.6Z" fill="#55a5fa" stroke="#b4b4b4" stroke-width="0.8"/>
<path d="M582.0 668.0C578.2 664.0 581.7 650.7 583.0 644.0C584.3 637.3 587.2 633.0 590.0 628.0C592.8 623.0 597.0 619.0 600.0 614.0C603.0 609.0 606.2 603.0 608.0 598.0C609.8 593.0 610.0 586.8 611.0 584.0C612.0 581.2 613.2 580.0 614.0 581.0C614.8 582.0 615.5 585.8 616.0 590.0C616.5 594.2 615.7 601.0 617.0 606.0C618.3 611.0 623.5 616.3 624.0 620.0C624.5 623.7 621.0 625.7 620.0 628.0C619.0 630.3 619.0 631.3 618.0 634.0C617.0 636.7 616.0 638.3 614.0 644.0C612.0 649.7 611.3 664.0 606.0 668.0C600.7 672.0 585.8 672.0 582.0 668.0Z" fill="#4682ff" stroke="#b4b4b4" stroke-width="0.8"/>
<path d="M150.0 542.4C151.7 519.5 157.3 541.9 160.0 542.4C162.7 542.9 164.5 544.3 166.4 545.6C168.3 546.9 169.6 548.9 171.2 550.4C172.8 551.9 174.1 553.5 176.0 554.4C177.9 555.3 180.3 555.6 182.4 556.0C184.5 556.4 186.7 556.5 188.8 556.8C190.9 557.1 194.7 557.1 195.2 557.6C195.7 558.1 193.6 559.6 192.0 560.0C190.4 560.4 186.9 559.2 185.6 560.0C184.3 560.8 183.7 563.2 184.0 564.8C184.3 566.4 185.9 568.0 187.2 569.6C188.5 571.2 190.1 572.8 192.0 574.4C193.9 576.0 196.5 577.3 198.4 579.2C200.3 581.1 201.9 583.7 203.2 585.6C204.5 587.5 204.5 588.3 206.4 590.4C208.3 592.5 211.7 595.7 214.4 598.4C217.1 601.1 219.7 603.7 222.4 606.4C225.1 609.1 228.0 611.7 230.4 614.4C232.8 617.1 234.9 620.0 236.8 622.4C238.7 624.8 240.0 626.4 241.6 628.8C243.2 631.2 244.5 634.1 246.4 636.8C248.3 639.5 250.7 642.4 252.8 644.8C254.9 647.2 257.1 649.3 259.2 651.2C261.3 653.1 263.5 654.8 265.6 656.0C267.7 657.2 270.1 658.7 272.0 658.4C273.9 658.1 275.5 655.9 276.8 654.4C278.1 652.9 278.9 650.8 280.0 649.6C281.1 648.4 282.4 648.0 283.2 647.2C284.0 646.4 283.7 646.0 284.8 644.8C285.9 643.6 288.0 641.3 289.6 640.0C291.2 638.7 292.8 637.9 294.4 636.8C296.0 635.7 297.9 634.9 299.2 633.6C300.5 632.3 302.1 630.4 302.4 628.8C302.7 627.2 301.5 626.1 300.8 624.0C300.1 621.9 298.9 618.9 298.4 616.0C297.9 613.1 297.5 609.3 297.6 606.4C297.7 603.5 298.4 600.8 299.2 598.4C300.0 596.0 302.3 594.4 302.4 592.0C302.5 589.6 300.5 586.7 300.0 584.0C299.5 581.3 298.8 578.4 299.2 576.0C299.6 573.6 300.9 570.8 302.4 569.6C303.9 568.4 305.1 570.4 308.0 569.0C310.9 567.6 316.0 563.7 320.0 561.0C324.0 558.3 328.0 555.3 332.0 553.0C336.0 550.7 339.3 548.7 344.0 547.0C348.7 545.3 354.7 544.0 360.0 543.0C365.3 542.0 372.0 542.0 376.0 541.0C380.0 540.0 382.0 538.3 384.0 537.0C386.0 535.7 386.7 534.2 388.0 533.0C389.3 531.8 390.3 529.5 392.0 530.0C393.7 530.5 395.0 533.8 398.0 536.0C401.0 538.2 405.5 541.5 410.0 543.0C414.5 544.5 420.0 544.5 425.0 545.0C430.0 545.5 435.0 545.5 440.0 546.0C445.0 546.5 450.8 548.2 455.0 548.0C459.2 547.8 462.5 546.3 465.0 545.0C467.5 543.7 469.2 517.5 470.0 540.0C470.8 562.5 523.3 656.7 470.0 680.0C416.7 703.3 203.3 702.9 150.0 680.0C96.7 657.1 148.3 565.3 150.0 542.4Z" fill="#4646e6" stroke="#b4b4b4" stroke-width="0.8"/>
<path d="M291.2 552.0C291.4 550.2 293.3 547.2 294.4 546.4C295.5 545.6 296.8 546.3 297.6 547.2C298.4 548.1 299.2 550.4 299.2 552.0C299.2 553.6 298.6 556.0 297.6 556.8C296.6 557.6 294.1 557.8 293.0 557.0C291.9 556.2 291.0 553.8 291.2 552.0Z" fill="#4646e6" stroke="#b4b4b4" stroke-width="0.8"/>
<path d="M452.0 400.0C453.7 395.3 455.7 394.7 458.0 392.0C460.3 389.3 463.0 386.5 466.0 384.0C469.0 381.5 472.3 379.0 476.0 377.0C479.7 375.0 484.3 372.7 488.0 372.0C491.7 371.3 495.3 374.0 498.0 373.0C500.7 372.0 502.0 367.8 504.0 366.0C506.0 364.2 507.8 362.8 510.0 362.0C512.2 361.2 515.2 360.7 517.0 361.0C518.8 361.3 520.5 362.7 521.0 364.0C521.5 365.3 520.8 367.2 520.0 369.0C519.2 370.8 517.8 373.3 516.0 375.0C514.2 376.7 511.3 377.7 509.0 379.0C506.7 380.3 504.0 381.3 502.0 383.0C500.0 384.7 498.5 387.2 497.0 389.0C495.5 390.8 494.0 392.0 493.0 394.0C492.0 396.0 491.0 398.3 491.0 401.0C491.0 403.7 492.5 407.0 493.0 410.0C493.5 413.0 492.5 417.2 494.0 419.0C495.5 420.8 499.0 420.6 502.0 421.0C505.0 421.4 507.0 421.7 512.0 421.4C517.0 421.1 526.8 419.3 532.0 419.2C537.2 419.1 539.3 420.8 543.0 420.8C546.7 420.8 551.0 419.9 554.0 419.2C557.0 418.5 558.5 417.1 561.0 416.8C563.5 416.5 566.3 416.7 569.0 417.6C571.7 418.5 575.2 420.8 577.0 422.4C578.8 424.0 577.8 426.1 580.0 427.2C582.2 428.3 586.3 428.3 590.0 428.8C593.7 429.3 598.3 430.4 602.0 430.4C605.7 430.4 608.2 429.6 612.0 428.8C615.8 428.0 621.0 426.7 625.0 425.6C629.0 424.5 631.9 423.5 636.0 422.4C640.1 421.3 645.5 420.2 649.6 419.0C653.7 417.8 657.1 416.5 660.8 415.0C664.5 413.5 668.5 411.7 672.0 410.2C675.5 408.7 678.7 407.4 681.6 406.2C684.5 405.0 687.5 403.0 689.6 403.0C691.7 403.0 692.5 405.8 694.4 406.2C696.3 406.6 698.9 406.3 700.8 405.4C702.7 404.5 704.0 401.9 705.6 400.6C707.2 399.3 708.0 398.1 710.4 397.4C712.8 396.7 716.8 396.7 720.0 396.6C723.2 396.5 726.9 397.3 729.6 396.6C732.3 395.9 733.6 393.7 736.0 392.6C738.4 391.5 741.3 391.3 744.0 390.2C746.7 389.1 750.1 387.8 752.0 386.2C753.9 384.6 753.6 382.5 755.2 380.6C756.8 378.7 759.5 375.8 761.6 375.0C763.7 374.2 764.9 376.6 768.0 375.8C771.1 375.0 781.3 362.5 780.0 370.0C778.7 377.5 766.0 412.2 760.0 420.6C754.0 429.0 748.0 420.6 744.0 420.6C740.0 420.6 738.9 420.3 736.0 420.6C733.1 420.9 729.9 421.7 726.4 422.2C722.9 422.7 718.9 423.1 715.2 423.8C711.5 424.5 707.7 425.3 704.0 426.2C700.3 427.1 696.3 428.2 692.8 429.4C689.3 430.6 686.7 432.1 683.2 433.4C679.7 434.7 675.7 436.2 672.0 437.4C668.3 438.6 664.5 439.5 660.8 440.6C657.1 441.7 653.1 442.7 649.6 443.8C646.1 444.9 643.7 445.7 640.0 447.0C636.3 448.3 630.9 450.5 627.2 451.8C623.5 453.1 620.8 453.9 617.6 455.0C614.4 456.1 611.2 457.1 608.0 458.2C604.8 459.3 601.6 460.3 598.4 461.4C595.2 462.5 592.0 463.4 588.8 464.6C585.6 465.8 582.4 467.3 579.2 468.6C576.0 469.9 572.8 471.0 569.6 472.6C566.4 474.2 562.4 475.4 560.0 478.0C557.6 480.6 556.5 485.0 555.2 488.0C553.9 491.0 553.1 493.1 552.0 496.0C550.9 498.9 550.1 502.4 548.8 505.6C547.5 508.8 545.3 512.0 544.0 515.2C542.7 518.4 541.5 521.6 540.8 524.8C540.1 528.0 539.7 531.2 540.0 534.4C540.3 537.6 541.5 541.1 542.4 544.0C543.3 546.9 545.3 549.3 545.6 552.0C545.9 554.7 544.0 557.9 544.0 560.0C544.0 562.1 543.7 563.5 545.6 564.8C547.5 566.1 552.3 567.2 555.2 568.0C558.1 568.8 561.6 567.9 563.2 569.6C564.8 571.3 564.8 575.4 564.8 578.0C564.8 580.6 563.7 582.7 563.2 585.0C562.7 587.3 562.1 588.7 561.6 592.0C561.1 595.3 560.5 601.1 560.0 604.8C559.5 608.5 558.9 611.2 558.4 614.4C557.9 617.6 556.3 621.9 556.8 624.0C557.3 626.1 559.7 626.1 561.6 627.2C563.5 628.3 566.9 628.3 568.0 630.4C569.1 632.5 568.5 636.8 568.0 640.0C567.5 643.2 565.6 646.4 564.8 649.6C564.0 652.8 563.6 654.1 563.2 659.2C562.8 664.3 579.6 676.5 562.4 680.0C545.2 683.5 477.4 693.3 460.0 680.0C442.6 666.7 458.7 623.3 458.0 600.0C457.3 576.7 457.0 556.7 456.0 540.0C455.0 523.3 453.3 511.7 452.0 500.0C450.7 488.3 449.0 480.0 448.0 470.0C447.0 460.0 446.0 448.3 446.0 440.0C446.0 431.7 447.0 426.7 448.0 420.0C449.0 413.3 450.3 404.7 452.0 400.0Z" fill="#4646e6" stroke="#b4b4b4" stroke-width="0.8"/>
<path d="M417.6 453.4C418.7 451.4 421.6 451.5 424.0 451.0C426.4 450.5 429.9 449.8 432.0 450.2C434.1 450.6 435.6 452.1 436.8 453.4C438.0 454.7 438.4 456.6 439.2 458.2C440.0 459.8 440.1 462.1 441.6 463.0C443.1 463.9 445.6 463.4 448.0 463.8C450.4 464.2 454.1 464.5 456.0 465.4C457.9 466.3 459.2 468.2 459.2 469.4C459.2 470.6 457.6 471.8 456.0 472.6C454.4 473.4 451.5 473.7 449.6 474.2C447.7 474.7 446.1 475.8 444.8 475.8C443.5 475.8 442.7 475.2 441.6 474.2C440.5 473.2 439.4 470.0 438.0 470.0C436.6 470.0 433.5 471.2 433.0 474.0C432.5 476.8 434.3 483.5 435.2 487.0C436.1 490.5 437.3 492.3 438.4 495.0C439.5 497.7 440.5 500.6 441.6 503.0C442.7 505.4 443.7 507.3 444.8 509.4C445.9 511.5 447.7 513.7 448.0 515.8C448.3 517.9 447.5 521.7 446.4 522.2C445.3 522.7 442.9 520.6 441.6 519.0C440.3 517.4 439.5 515.0 438.4 512.6C437.3 510.2 436.3 507.0 435.2 504.6C434.1 502.2 432.8 500.6 432.0 498.2C431.2 495.8 430.9 492.6 430.4 490.2C429.9 487.8 429.6 486.2 428.8 483.8C428.0 481.4 426.9 478.2 425.6 475.8C424.3 473.4 422.1 471.5 420.8 469.4C419.5 467.3 418.1 465.7 417.6 463.0C417.1 460.3 416.5 455.4 417.6 453.4Z" fill="#4646e6" stroke="#b4b4b4" stroke-width="0.8"/>
<path d="M466.4 395.2C468.4 394.4 473.2 394.8 475.2 396.0C477.2 397.2 477.9 399.7 478.4 402.4C478.9 405.1 478.7 408.8 478.4 412.0C478.1 415.2 476.5 418.4 476.8 421.6C477.1 424.8 478.9 428.3 480.0 431.2C481.1 434.1 482.1 436.5 483.2 439.2C484.3 441.9 484.8 444.8 486.4 447.2C488.0 449.6 490.1 452.7 492.8 453.6C495.5 454.5 499.2 452.9 502.4 452.6C505.6 452.3 509.1 451.8 512.0 451.8C514.9 451.8 517.3 452.2 520.0 452.6C522.7 453.0 525.9 454.3 528.0 454.2C530.1 454.1 531.2 452.6 532.8 451.8C534.4 451.0 535.7 449.7 537.6 449.4C539.5 449.1 542.1 449.5 544.0 450.2C545.9 450.9 547.2 452.3 548.8 453.4C550.4 454.5 552.0 456.5 553.6 456.6C555.2 456.7 557.1 455.0 558.4 454.2C559.7 453.4 560.4 451.9 561.6 451.8C562.8 451.7 565.3 452.6 565.6 453.4C565.9 454.2 564.7 455.7 563.2 456.6C561.7 457.5 558.9 458.5 556.8 459.0C554.7 459.5 552.5 459.5 550.4 459.8C548.3 460.1 546.4 460.3 544.0 460.6C541.6 460.9 538.1 460.9 536.0 461.4C533.9 461.9 531.7 462.7 531.2 463.8C530.7 464.9 531.5 466.9 532.8 467.8C534.1 468.7 537.1 469.0 539.2 469.4C541.3 469.8 544.8 469.4 545.6 470.2C546.4 471.0 545.1 473.3 544.0 474.2C542.9 475.1 541.9 475.9 539.2 475.8C536.5 475.7 531.2 473.7 528.0 473.4C524.8 473.1 520.8 473.1 520.0 474.2C519.2 475.3 522.1 478.0 523.2 480.0C524.3 482.0 525.3 484.3 526.4 486.4C527.5 488.5 528.8 490.7 529.6 492.8C530.4 494.9 531.2 496.8 531.2 499.2C531.2 501.6 530.3 504.3 529.6 507.2C528.9 510.1 528.0 513.3 527.2 516.8C526.4 520.3 525.6 524.5 524.8 528.0C524.0 531.5 522.9 534.7 522.4 537.6C521.9 540.5 520.9 543.7 521.6 545.6C522.3 547.5 524.8 547.7 526.4 548.8C528.0 549.9 529.9 550.4 531.2 552.0C532.5 553.6 534.0 556.3 534.4 558.4C534.8 560.5 533.3 562.7 533.6 564.8C533.9 566.9 534.8 569.1 536.0 571.2C537.2 573.3 539.2 576.0 540.8 577.6C542.4 579.2 543.7 580.0 545.6 580.8C547.5 581.6 549.9 581.9 552.0 582.4C554.1 582.9 557.2 582.4 558.4 584.0C559.6 585.6 559.5 589.1 559.2 592.0C558.9 594.9 557.7 598.4 556.8 601.6C555.9 604.8 554.7 608.3 553.6 611.2C552.5 614.1 551.5 616.5 550.4 619.2C549.3 621.9 548.3 625.3 547.2 627.2C546.1 629.1 545.9 629.3 544.0 630.4C542.1 631.5 538.1 632.0 536.0 633.6C533.9 635.2 532.8 637.9 531.2 640.0C529.6 642.1 527.7 644.5 526.4 646.4C525.1 648.3 524.0 649.6 523.2 651.2C522.4 652.8 522.1 651.2 521.6 656.0C521.1 660.8 526.8 676.0 520.0 680.0C513.2 684.0 487.9 684.0 481.0 680.0C474.1 676.0 479.6 661.6 478.4 656.0C477.2 650.4 475.3 649.1 473.6 646.4C471.9 643.7 469.3 642.4 468.0 640.0C466.7 637.6 465.9 634.7 465.6 632.0C465.3 629.3 466.3 627.2 466.4 624.0C466.5 620.8 465.7 615.7 466.4 612.8C467.1 609.9 468.4 608.3 470.4 606.4C472.4 604.5 476.5 603.7 478.4 601.6C480.3 599.5 481.3 596.3 481.6 593.6C481.9 590.9 480.8 588.3 480.0 585.6C479.2 582.9 477.1 580.0 476.8 577.6C476.5 575.2 477.1 573.1 478.4 571.2C479.7 569.3 484.5 571.6 484.8 566.4C485.1 561.2 481.5 549.4 480.0 540.0C478.5 530.6 477.7 518.3 476.0 510.0C474.3 501.7 472.0 495.7 470.0 490.0C468.0 484.3 465.5 479.4 464.0 476.0C462.5 472.6 462.1 471.7 460.8 469.6C459.5 467.5 457.3 465.3 456.0 463.2C454.7 461.1 453.1 458.5 452.8 456.8C452.5 455.1 453.6 453.9 454.4 452.8C455.2 451.7 456.5 451.6 457.6 450.4C458.7 449.2 460.1 447.5 460.8 445.6C461.5 443.7 461.3 441.6 461.6 439.2C461.9 436.8 462.0 433.9 462.4 431.2C462.8 428.5 463.3 425.9 464.0 423.2C464.7 420.5 466.1 417.5 466.4 415.2C466.7 412.9 466.0 410.7 465.6 409.6C465.2 408.5 464.4 410.3 464.0 408.8C463.6 407.3 462.8 403.1 463.2 400.8C463.6 398.5 464.4 396.0 466.4 395.2Z" fill="#0000ff" stroke="#b4b4b4" stroke-width="0.8"/>
<path d="M318.4 592.0C319.2 589.6 320.0 588.3 321.6 587.2C323.2 586.1 325.6 586.4 328.0 585.6C330.4 584.8 333.9 582.7 336.0 582.4C338.1 582.1 338.7 583.7 340.8 584.0C342.9 584.3 346.7 583.2 348.8 584.0C350.9 584.8 352.8 586.1 353.6 588.8C354.4 591.5 353.1 597.1 353.6 600.0C354.1 602.9 356.8 604.5 356.8 606.4C356.8 608.3 354.7 609.9 353.6 611.2C352.5 612.5 352.0 613.1 350.4 614.4C348.8 615.7 346.1 617.6 344.0 619.2C341.9 620.8 339.5 622.1 337.6 624.0C335.7 625.9 334.4 628.3 332.8 630.4C331.2 632.5 329.6 634.4 328.0 636.8C326.4 639.2 324.8 642.4 323.2 644.8C321.6 647.2 320.3 649.3 318.4 651.2C316.5 653.1 314.1 654.4 312.0 656.0C309.9 657.6 307.2 658.8 305.6 660.8C304.0 662.8 304.3 666.8 302.4 668.0C300.5 669.2 294.5 669.5 294.0 668.0C293.5 666.5 297.3 661.5 299.2 659.2C301.1 656.9 303.5 655.7 305.6 654.4C307.7 653.1 310.1 652.5 312.0 651.2C313.9 649.9 315.7 648.3 316.8 646.4C317.9 644.5 318.1 642.7 318.4 640.0C318.7 637.3 318.7 633.6 318.4 630.4C318.1 627.2 317.2 624.0 316.8 620.8C316.4 617.6 316.0 614.4 316.0 611.2C316.0 608.0 316.4 604.8 316.8 601.6C317.2 598.4 317.6 594.4 318.4 592.0Z" fill="#0000ff" stroke="#b4b4b4" stroke-width="0.8"/>
<path d="M724.8 412.6C725.1 411.8 727.2 410.3 729.6 409.4C732.0 408.5 736.0 407.8 739.2 407.0C742.4 406.2 746.3 405.1 748.8 404.6C751.3 404.1 753.5 403.1 754.0 403.8C754.5 404.5 752.9 407.3 752.0 408.6C751.1 409.9 750.4 411.0 748.8 411.8C747.2 412.6 744.8 413.1 742.4 413.4C740.0 413.7 736.8 413.3 734.4 413.4C732.0 413.5 729.6 414.3 728.0 414.2C726.4 414.1 724.5 413.4 724.8 412.6Z" fill="#0000ff" stroke="#b4b4b4" stroke-width="0.8"/>
<path d="M304.0 668.0C275.2 665.8 306.0 658.8 308.0 655.0C310.0 651.2 313.0 648.3 316.0 645.0C319.0 641.7 322.7 638.0 326.0 635.0C329.3 632.0 332.7 629.3 336.0 627.0C339.3 624.7 343.0 622.7 346.0 621.0C349.0 619.3 352.0 618.7 354.0 617.0C356.0 615.3 358.0 613.0 358.0 611.0C358.0 609.0 355.3 607.0 354.0 605.0C352.7 603.0 350.0 601.0 350.0 599.0C350.0 597.0 353.7 595.0 354.0 593.0C354.3 591.0 351.7 589.0 352.0 587.0C352.3 585.0 354.0 582.7 356.0 581.0C358.0 579.3 361.0 578.0 364.0 577.0C367.0 576.0 370.7 575.8 374.0 575.0C377.3 574.2 380.7 572.8 384.0 572.0C387.3 571.2 390.3 570.2 394.0 570.0C397.7 569.8 402.3 570.5 406.0 571.0C409.7 571.5 413.0 571.7 416.0 573.0C419.0 574.3 421.7 577.5 424.0 579.0C426.3 580.5 427.3 581.5 430.0 582.0C432.7 582.5 437.0 581.0 440.0 582.0C443.0 583.0 446.0 586.2 448.0 588.0C450.0 589.8 450.3 593.2 452.0 593.0C453.7 592.8 455.7 588.7 458.0 587.0C460.3 585.3 463.7 584.7 466.0 583.0C468.3 581.3 470.3 579.0 472.0 577.0C473.7 575.0 475.7 573.3 476.0 571.0C476.3 568.7 474.0 566.0 474.0 563.0C474.0 560.0 475.3 556.3 476.0 553.0C476.7 549.7 477.0 545.2 478.0 543.0C479.0 540.8 480.0 539.3 482.0 540.0C484.0 540.7 489.0 543.8 490.0 547.0C491.0 550.2 489.3 555.3 488.0 559.0C486.7 562.7 484.0 565.7 482.0 569.0C480.0 572.3 476.7 576.0 476.0 579.0C475.3 582.0 477.3 584.3 478.0 587.0C478.7 589.7 480.3 592.3 480.0 595.0C479.7 597.7 478.0 600.3 476.0 603.0C474.0 605.7 469.7 608.0 468.0 611.0C466.3 614.0 466.0 617.7 466.0 621.0C466.0 624.3 466.7 628.0 468.0 631.0C469.3 634.0 472.3 636.3 474.0 639.0C475.7 641.7 477.0 644.3 478.0 647.0C479.0 649.7 479.5 651.5 480.0 655.0C480.5 658.5 510.3 665.8 481.0 668.0C451.7 670.2 332.8 670.2 304.0 668.0Z" fill="#f0ebf0" stroke="#b4b4b4" stroke-width="0.8"/>
<path d="M454.4 409.6C455.7 408.8 458.9 407.2 460.8 407.2C462.7 407.2 464.7 408.3 465.6 409.6C466.5 410.9 466.7 412.9 466.4 415.2C466.1 417.5 464.7 420.5 464.0 423.2C463.3 425.9 462.8 428.5 462.4 431.2C462.0 433.9 461.9 436.8 461.6 439.2C461.3 441.6 461.5 443.7 460.8 445.6C460.1 447.5 458.7 449.2 457.6 450.4C456.5 451.6 455.5 453.1 454.4 452.8C453.3 452.5 452.1 450.5 451.2 448.8C450.3 447.1 449.3 444.8 448.8 442.4C448.3 440.0 447.9 437.1 448.0 434.4C448.1 431.7 449.1 429.1 449.6 426.4C450.1 423.7 450.7 420.8 451.2 418.4C451.7 416.0 452.3 413.5 452.8 412.0C453.3 410.5 453.1 410.4 454.4 409.6Z" fill="#f0ebf0" stroke="#b4b4b4" stroke-width="0.8"/>
<path d="M468.8 461.6C470.6 460.9 474.4 460.7 476.8 460.8C479.2 460.9 481.3 461.2 483.2 462.4C485.1 463.6 486.9 466.0 488.0 468.0C489.1 470.0 489.6 472.4 489.6 474.4C489.6 476.4 488.0 477.5 488.0 480.0C488.0 482.5 489.1 486.4 489.6 489.6C490.1 492.8 490.7 496.0 491.2 499.2C491.7 502.4 492.4 505.6 492.8 508.8C493.2 512.0 493.6 515.2 493.6 518.4C493.6 521.6 492.7 524.8 492.8 528.0C492.9 531.2 493.9 534.4 494.4 537.6C494.9 540.8 496.0 544.0 496.0 547.2C496.0 550.4 495.2 554.1 494.4 556.8C493.6 559.5 492.8 561.6 491.2 563.2C489.6 564.8 486.9 565.1 484.8 566.4C482.7 567.7 480.5 571.3 478.4 571.2C476.3 571.1 473.7 568.2 472.0 566.0C470.3 563.8 469.0 561.0 468.0 558.0C467.0 555.0 466.0 551.3 466.0 548.0C466.0 544.7 467.3 541.3 468.0 538.0C468.7 534.7 470.0 531.3 470.0 528.0C470.0 524.7 469.0 521.3 468.0 518.0C467.0 514.7 465.0 511.3 464.0 508.0C463.0 504.7 462.5 501.3 462.0 498.0C461.5 494.7 461.0 491.0 461.0 488.0C461.0 485.0 461.5 483.0 462.0 480.0C462.5 477.0 463.3 472.5 464.0 470.0C464.7 467.5 465.2 466.4 466.0 465.0C466.8 463.6 467.0 462.3 468.8 461.6Z" fill="#f0ebf0" stroke="#b4b4b4" stroke-width="0.8"/>
<path d="M507.2 600.0C508.1 599.2 511.5 598.4 513.6 598.4C515.7 598.4 518.1 599.5 520.0 600.0C521.9 600.5 523.2 602.4 524.8 601.6C526.4 600.8 527.7 596.7 529.6 595.2C531.5 593.7 533.6 592.7 536.0 592.8C538.4 592.9 541.6 594.8 544.0 596.0C546.4 597.2 549.1 598.3 550.4 600.0C551.7 601.7 552.0 604.0 552.0 606.4C552.0 608.8 551.2 612.0 550.4 614.4C549.6 616.8 548.3 618.9 547.2 620.8C546.1 622.7 545.3 624.4 544.0 625.6C542.7 626.8 540.8 628.0 539.2 628.0C537.6 628.0 535.7 626.8 534.4 625.6C533.1 624.4 532.3 622.7 531.2 620.8C530.1 618.9 529.1 616.0 528.0 614.4C526.9 612.8 526.1 611.7 524.8 611.2C523.5 610.7 521.6 610.9 520.0 611.2C518.4 611.5 516.8 613.3 515.2 612.8C513.6 612.3 511.6 609.6 510.4 608.0C509.2 606.4 508.5 604.5 508.0 603.2C507.5 601.9 506.3 600.8 507.2 600.0Z" fill="#f0ebf0" stroke="#b4b4b4" stroke-width="0.8"/>
<path d="M480.0 668.8C475.5 666.7 478.9 659.7 478.4 656.0C477.9 652.3 476.9 649.6 476.8 646.4C476.7 643.2 477.1 639.7 477.6 636.8C478.1 633.9 478.8 630.8 480.0 628.8C481.2 626.8 482.9 625.3 484.8 624.8C486.7 624.3 489.3 624.7 491.2 625.6C493.1 626.5 494.7 628.3 496.0 630.4C497.3 632.5 498.3 635.5 499.2 638.4C500.1 641.3 500.8 644.8 501.6 648.0C502.4 651.2 503.3 654.1 504.0 657.6C504.7 661.1 509.6 666.9 505.6 668.8C501.6 670.7 484.5 670.9 480.0 668.8Z" fill="#f0ebf0" stroke="#b4b4b4" stroke-width="0.8"/>
<path d="M508.8 638.4C509.7 636.8 512.0 637.6 513.6 638.4C515.2 639.2 517.3 641.3 518.4 643.2C519.5 645.1 520.0 647.5 520.0 649.6C520.0 651.7 519.2 654.1 518.4 656.0C517.6 657.9 516.5 660.8 515.2 660.8C513.9 660.8 511.6 658.1 510.4 656.0C509.2 653.9 508.3 650.9 508.0 648.0C507.7 645.1 507.9 640.0 508.8 638.4Z" fill="#4646e6" stroke="#b4b4b4" stroke-width="0.8"/>
<path d="M336.0 595.2C336.5 593.6 337.9 592.3 339.2 592.0C340.5 591.7 343.5 592.3 344.0 593.6C344.5 594.9 343.2 598.4 342.4 600.0C341.6 601.6 340.3 602.9 339.2 603.2C338.1 603.5 336.5 602.9 336.0 601.6C335.5 600.3 335.5 596.8 336.0 595.2Z" fill="#f0ebf0" stroke="#b4b4b4" stroke-width="0.8"/>
<path d="M344.0 585.6C345.3 584.5 349.1 583.5 350.4 584.0C351.7 584.5 352.5 587.5 352.0 588.8C351.5 590.1 348.8 591.7 347.2 592.0C345.6 592.3 342.9 591.5 342.4 590.4C341.9 589.3 342.7 586.7 344.0 585.6Z" fill="#f0ebf0" stroke="#b4b4b4" stroke-width="0.8"/>
<path d="M321.6 668.8C301.7 666.1 325.9 657.1 328.0 652.8C330.1 648.5 332.0 646.4 334.4 643.2C336.8 640.0 339.7 636.8 342.4 633.6C345.1 630.4 348.0 626.9 350.4 624.0C352.8 621.1 355.2 618.7 356.8 616.0C358.4 613.3 359.7 610.7 360.0 608.0C360.3 605.3 358.1 602.7 358.4 600.0C358.7 597.3 360.0 594.4 361.6 592.0C363.2 589.6 365.3 587.5 368.0 585.6C370.7 583.7 374.1 582.3 377.6 580.8C381.1 579.3 385.1 577.6 388.8 576.8C392.5 576.0 397.1 575.6 400.0 576.0C402.9 576.4 404.8 577.6 406.4 579.2C408.0 580.8 408.8 583.5 409.6 585.6C410.4 587.7 410.4 589.6 411.2 592.0C412.0 594.4 413.1 597.6 414.4 600.0C415.7 602.4 416.8 604.8 419.2 606.4C421.6 608.0 425.6 608.5 428.8 609.6C432.0 610.7 435.5 611.2 438.4 612.8C441.3 614.4 444.3 616.8 446.4 619.2C448.5 621.6 449.9 624.5 451.2 627.2C452.5 629.9 453.6 632.5 454.4 635.2C455.2 637.9 456.0 640.5 456.0 643.2C456.0 645.9 455.2 648.5 454.4 651.2C453.6 653.9 452.4 656.3 451.2 659.2C450.0 662.1 468.8 667.2 447.2 668.8C425.6 670.4 341.5 671.5 321.6 668.8Z" fill="#e6d7e1" stroke="#b4b4b4" stroke-width="0.8"/>
<path d="M328.0 668.8C310.5 666.4 330.9 658.4 332.8 654.4C334.7 650.4 336.8 648.0 339.2 644.8C341.6 641.6 344.5 638.4 347.2 635.2C349.9 632.0 353.1 628.5 355.2 625.6C357.3 622.7 358.7 620.3 360.0 617.6C361.3 614.9 362.8 612.3 363.2 609.6C363.6 606.9 361.9 604.3 362.4 601.6C362.9 598.9 364.7 596.0 366.4 593.6C368.1 591.2 370.1 589.1 372.8 587.2C375.5 585.3 379.2 583.9 382.4 582.4C385.6 580.9 389.1 579.2 392.0 578.4C394.9 577.6 397.9 577.2 400.0 577.6C402.1 578.0 403.6 579.2 404.8 580.8C406.0 582.4 406.7 584.8 407.2 587.2C407.7 589.6 407.6 592.8 408.0 595.2C408.4 597.6 408.8 599.5 409.6 601.6C410.4 603.7 411.2 606.1 412.8 608.0C414.4 609.9 416.5 611.5 419.2 612.8C421.9 614.1 425.9 614.7 428.8 616.0C431.7 617.3 434.7 618.9 436.8 620.8C438.9 622.7 440.3 624.8 441.6 627.2C442.9 629.6 444.0 632.5 444.8 635.2C445.6 637.9 446.4 640.5 446.4 643.2C446.4 645.9 445.6 648.5 444.8 651.2C444.0 653.9 442.8 656.3 441.6 659.2C440.4 662.1 456.5 667.2 437.6 668.8C418.7 670.4 345.5 671.2 328.0 668.8Z" fill="#e1b4d2" stroke="#b4b4b4" stroke-width="0.8"/>
<path d="M344.0 668.8C330.4 666.7 344.5 659.7 345.6 656.0C346.7 652.3 348.5 649.6 350.4 646.4C352.3 643.2 354.7 639.7 356.8 636.8C358.9 633.9 361.3 631.5 363.2 628.8C365.1 626.1 366.9 623.5 368.0 620.8C369.1 618.1 369.6 615.5 369.6 612.8C369.6 610.1 367.7 607.5 368.0 604.8C368.3 602.1 369.6 599.2 371.2 596.8C372.8 594.4 375.2 592.3 377.6 590.4C380.0 588.5 382.9 587.2 385.6 585.6C388.3 584.0 391.2 581.9 393.6 580.8C396.0 579.7 398.4 578.9 400.0 579.2C401.6 579.5 403.2 580.8 403.2 582.4C403.2 584.0 401.3 587.1 400.0 588.8C398.7 590.5 396.8 591.9 395.2 592.8C393.6 593.7 391.6 593.6 390.4 594.4C389.2 595.2 387.7 596.4 388.0 597.6C388.3 598.8 390.8 600.1 392.0 601.6C393.2 603.1 394.7 604.8 395.2 606.4C395.7 608.0 394.4 609.9 395.2 611.2C396.0 612.5 398.1 614.1 400.0 614.4C401.9 614.7 404.3 612.8 406.4 612.8C408.5 612.8 411.2 613.1 412.8 614.4C414.4 615.7 415.7 618.7 416.0 620.8C416.3 622.9 415.5 625.6 414.4 627.2C413.3 628.8 411.5 630.1 409.6 630.4C407.7 630.7 404.8 628.5 403.2 628.8C401.6 629.1 400.0 630.7 400.0 632.0C400.0 633.3 401.6 636.3 403.2 636.8C404.8 637.3 406.9 635.7 409.6 635.2C412.3 634.7 416.0 633.6 419.2 633.6C422.4 633.6 426.1 634.1 428.8 635.2C431.5 636.3 433.6 638.1 435.2 640.0C436.8 641.9 438.1 644.0 438.4 646.4C438.7 648.8 437.9 652.0 436.8 654.4C435.7 656.8 433.6 658.4 432.0 660.8C430.4 663.2 441.9 667.5 427.2 668.8C412.5 670.1 357.6 670.9 344.0 668.8Z" fill="#d7a0c8" stroke="#b4b4b4" stroke-width="0.8"/>
<path d="M368.0 643.2C366.9 642.1 366.4 637.9 366.4 635.2C366.4 632.5 367.2 629.9 368.0 627.2C368.8 624.5 370.1 621.9 371.2 619.2C372.3 616.5 374.4 613.9 374.4 611.2C374.4 608.5 371.5 605.9 371.2 603.2C370.9 600.5 371.5 597.6 372.8 595.2C374.1 592.8 376.8 590.7 379.2 588.8C381.6 586.9 384.8 585.5 387.2 584.0C389.6 582.5 391.6 580.9 393.6 580.0C395.6 579.1 397.9 578.1 399.2 578.4C400.5 578.7 401.7 580.3 401.6 581.6C401.5 582.9 399.7 584.8 398.4 586.4C397.1 588.0 395.2 590.1 393.6 591.2C392.0 592.3 390.1 592.0 388.8 592.8C387.5 593.6 385.6 594.7 385.6 596.0C385.6 597.3 387.6 599.2 388.8 600.8C390.0 602.4 392.5 603.9 392.8 605.6C393.1 607.3 391.6 609.7 390.4 611.2C389.2 612.7 386.7 613.1 385.6 614.4C384.5 615.7 383.5 617.6 384.0 619.2C384.5 620.8 387.7 622.1 388.8 624.0C389.9 625.9 390.9 628.5 390.4 630.4C389.9 632.3 387.5 633.9 385.6 635.2C383.7 636.5 381.3 637.3 379.2 638.4C377.1 639.5 374.7 640.8 372.8 641.6C370.9 642.4 369.1 644.3 368.0 643.2Z" fill="#cc87b9" stroke="#b4b4b4" stroke-width="0.8"/>
<path d="M374.1 596.0C374.2 595.1 375.4 595.0 376.0 595.5C376.6 596.1 377.7 598.1 377.9 599.2C378.1 600.3 377.7 601.7 377.3 601.9C376.9 602.2 375.9 601.8 375.4 600.8C374.8 599.8 374.0 596.9 374.1 596.0Z" fill="#cc5ac8" stroke="#b4b4b4" stroke-width="0.8"/>
<path d="M374.1 627.2C374.3 625.9 375.3 625.7 375.7 626.4C376.1 627.1 376.6 629.7 376.6 631.2C376.7 632.7 376.4 635.0 376.0 635.5C375.6 636.1 374.7 635.8 374.4 634.4C374.1 633.0 373.9 628.5 374.1 627.2Z" fill="#cc5ac8" stroke="#b4b4b4" stroke-width="0.8"/>
<path d="M392.8 575.2C393.3 574.7 395.2 573.9 396.0 574.1C396.8 574.2 397.7 575.4 397.6 576.0C397.5 576.6 395.9 577.7 395.2 577.9C394.5 578.1 393.7 577.7 393.3 577.3C392.9 576.8 392.3 575.7 392.8 575.2Z" fill="#cc5ac8" stroke="#b4b4b4" stroke-width="0.8"/>
<path d="M376.0 668.8C371.2 666.9 376.1 660.8 376.8 657.6C377.5 654.4 378.5 651.6 380.0 649.6C381.5 647.6 383.6 646.0 385.6 645.6C387.6 645.2 389.9 646.1 392.0 647.2C394.1 648.3 396.5 650.1 398.4 652.0C400.3 653.9 402.0 655.6 403.2 658.4C404.4 661.2 410.1 667.1 405.6 668.8C401.1 670.5 380.8 670.7 376.0 668.8Z" fill="#f0ebf0" stroke="#b4b4b4" stroke-width="0.8"/>
<path d="M661.0 520.0C660.7 517.0 661.2 511.2 662.0 507.0C662.8 502.8 663.7 498.2 666.0 495.0C668.3 491.8 672.3 490.0 676.0 488.0C679.7 486.0 684.0 484.3 688.0 483.0C692.0 481.7 696.0 480.7 700.0 480.0C704.0 479.3 711.2 476.2 712.0 479.0C712.8 481.8 708.7 489.7 705.0 497.0C701.3 504.3 695.5 517.8 690.0 523.0C684.5 528.2 676.3 527.7 672.0 528.0C667.7 528.3 665.8 526.3 664.0 525.0C662.2 523.7 661.3 523.0 661.0 520.0Z" fill="#4682ff" stroke="#b4b4b4" stroke-width="0.8"/>
<path d="M375.9 176.8C376.8 176.3 381.0 177.0 383.0 177.4C385.1 177.8 386.6 178.5 388.2 179.4C389.8 180.2 392.3 181.9 392.8 182.6C393.2 183.4 392.0 183.8 390.8 183.9C389.6 184.0 387.4 183.5 385.6 183.3C383.9 183.0 381.8 183.2 380.4 182.6C379.0 182.1 377.9 181.0 377.2 180.0C376.4 179.0 374.9 177.2 375.9 176.8Z" fill="#55c8ff" stroke="#b4b4b4" stroke-width="0.8"/>
<path d="M422.4 584.0C421.1 585.5 420.8 588.3 420.8 590.4C420.8 592.5 421.3 595.1 422.4 596.8C423.5 598.5 425.1 599.9 427.2 600.8C429.3 601.7 432.5 602.5 435.2 602.4C437.9 602.3 441.1 601.2 443.2 600.0C445.3 598.8 447.5 597.1 448.0 595.2C448.5 593.3 447.5 590.7 446.4 588.8C445.3 586.9 443.5 585.2 441.6 584.0C439.7 582.8 437.3 582.0 435.2 581.6C433.1 581.2 430.9 581.2 428.8 581.6C426.7 582.0 423.7 582.5 422.4 584.0Z" fill="#0000ff" stroke="#b4b4b4" stroke-width="0.8"/>
<path d="M388.0 668.0C385.7 666.3 386.8 660.7 387.0 658.0C387.2 655.3 388.0 653.5 389.0 652.0C390.0 650.5 391.7 649.0 393.0 649.0C394.3 649.0 395.8 650.5 397.0 652.0C398.2 653.5 399.3 655.3 400.0 658.0C400.7 660.7 403.0 666.3 401.0 668.0C399.0 669.7 390.3 669.7 388.0 668.0Z" fill="#0000ff" stroke="#b4b4b4" stroke-width="0.8"/>
</g>
<g clip-path="url(#dat)" fill="none" stroke="#0505f0" stroke-width="1.25">
<path d="M193.0 406.8C193.0 405.5 193.9 403.7 195.0 402.8C196.1 401.9 198.1 401.4 199.6 401.4C201.1 401.4 203.1 401.9 204.2 402.8C205.3 403.7 206.2 405.5 206.2 406.8C206.2 408.1 205.3 409.9 204.2 410.8C203.1 411.7 201.1 412.2 199.6 412.2C198.1 412.2 196.1 411.7 195.0 410.8C193.9 409.9 193.0 408.1 193.0 406.8Z"/>
<path d="M187.6 402.0C187.5 399.0 188.2 396.5 189.5 394.5C190.8 392.5 193.2 390.9 195.5 390.0C197.8 389.1 200.8 388.7 203.5 388.8C206.2 388.9 209.3 389.4 211.5 390.5C213.7 391.6 215.4 393.4 216.5 395.5C217.6 397.6 217.8 400.4 217.8 403.0C217.8 405.6 217.5 408.6 216.5 411.0C215.5 413.4 214.0 415.9 211.8 417.5C209.6 419.1 206.1 420.6 203.4 420.8C200.7 421.0 197.9 420.1 195.7 418.7C193.5 417.3 191.4 415.2 190.1 412.4C188.8 409.6 187.7 405.0 187.6 402.0Z"/>
<path d="M328.0 652.8C329.1 651.2 332.0 646.4 334.4 643.2C336.8 640.0 339.7 636.8 342.4 633.6C345.1 630.4 348.0 626.9 350.4 624.0C352.8 621.1 355.2 618.7 356.8 616.0C358.4 613.3 359.7 610.7 360.0 608.0C360.3 605.3 358.1 602.7 358.4 600.0C358.7 597.3 360.0 594.4 361.6 592.0C363.2 589.6 365.3 587.5 368.0 585.6C370.7 583.7 374.1 582.3 377.6 580.8C381.1 579.3 385.1 577.6 388.8 576.8C392.5 576.0 397.1 575.6 400.0 576.0C402.9 576.4 405.3 578.7 406.4 579.2"/>
<path d="M332.8 654.4C333.9 652.8 336.8 648.0 339.2 644.8C341.6 641.6 344.5 638.4 347.2 635.2C349.9 632.0 353.1 628.5 355.2 625.6C357.3 622.7 358.7 620.3 360.0 617.6C361.3 614.9 362.8 612.3 363.2 609.6C363.6 606.9 361.9 604.3 362.4 601.6C362.9 598.9 364.7 596.0 366.4 593.6C368.1 591.2 370.1 589.1 372.8 587.2C375.5 585.3 379.2 583.9 382.4 582.4C385.6 580.9 389.1 579.2 392.0 578.4C394.9 577.6 397.9 577.2 400.0 577.6C402.1 578.0 404.0 580.3 404.8 580.8"/>
<path d="M345.6 656.0C346.4 654.4 348.5 649.6 350.4 646.4C352.3 643.2 354.7 639.7 356.8 636.8C358.9 633.9 361.3 631.5 363.2 628.8C365.1 626.1 366.9 623.5 368.0 620.8C369.1 618.1 369.6 615.5 369.6 612.8C369.6 610.1 367.7 607.5 368.0 604.8C368.3 602.1 369.6 599.2 371.2 596.8C372.8 594.4 375.2 592.3 377.6 590.4C380.0 588.5 382.9 587.2 385.6 585.6C388.3 584.0 391.2 581.9 393.6 580.8C396.0 579.7 398.4 578.9 400.0 579.2C401.6 579.5 402.7 581.9 403.2 582.4"/>
<path d="M320.0 662.4C320.8 660.3 322.9 653.3 324.8 649.6C326.7 645.9 328.8 643.1 331.2 640.0C333.6 636.9 336.5 634.1 339.2 631.2C341.9 628.3 344.9 625.2 347.2 622.4C349.5 619.6 351.3 616.9 352.8 614.4C354.3 611.9 355.7 609.6 356.0 607.2C356.3 604.8 354.1 602.7 354.4 600.0C354.7 597.3 355.9 593.9 357.6 591.2C359.3 588.5 362.0 586.0 364.8 584.0C367.6 582.0 370.7 580.7 374.4 579.2C378.1 577.7 382.9 576.1 387.2 575.2C391.5 574.3 396.3 573.7 400.0 574.1C403.7 574.5 407.3 575.9 409.6 577.6C411.9 579.3 412.9 582.9 413.6 584.0"/>
<path d="M336.0 668.8C336.5 666.7 337.9 659.7 339.2 656.0C340.5 652.3 342.0 649.6 344.0 646.4C346.0 643.2 348.8 639.9 351.2 636.8C353.6 633.7 356.3 630.9 358.4 628.0C360.5 625.1 362.7 622.0 364.0 619.2C365.3 616.4 366.2 613.9 366.4 611.2C366.6 608.5 364.7 605.9 365.1 603.2C365.5 600.5 367.1 597.6 368.8 595.2C370.5 592.8 372.7 590.7 375.2 588.8C377.7 586.9 381.1 585.5 384.0 584.0C386.9 582.5 390.1 580.5 392.8 579.5C395.5 578.6 398.1 578.1 400.0 578.4C401.9 578.7 403.3 581.1 404.0 581.6"/>
<path d="M166.0 478.0C167.8 474.2 173.0 469.8 178.0 467.5C183.0 465.2 189.5 464.0 196.0 464.5C202.5 465.0 210.5 467.5 217.0 470.5C223.5 473.5 230.0 478.2 235.0 482.5C240.0 486.8 244.2 490.8 247.0 496.0C249.8 501.2 251.0 508.0 251.5 514.0C252.0 520.0 250.2 526.0 250.0 532.0C249.8 538.0 249.8 544.0 250.0 550.0C250.2 556.0 251.5 563.0 251.5 568.0C251.5 573.0 251.0 577.5 250.0 580.0C249.0 582.5 248.0 583.8 245.5 583.0C243.0 582.2 239.2 579.0 235.0 575.5C230.8 572.0 225.0 566.8 220.0 562.0C215.0 557.2 209.5 552.0 205.0 547.0C200.5 542.0 196.2 537.0 193.0 532.0C189.8 527.0 188.0 522.0 185.5 517.0C183.0 512.0 181.0 506.5 178.0 502.0C175.0 497.5 169.5 494.0 167.5 490.0C165.5 486.0 164.2 481.8 166.0 478.0Z"/>
<path d="M205.6 524.5C205.6 521.7 206.5 518.5 208.0 516.0C209.5 513.5 212.0 511.0 214.5 509.5C217.0 508.0 220.2 507.1 223.0 507.1C225.8 507.1 229.0 508.0 231.5 509.5C234.0 511.0 236.5 513.5 238.0 516.0C239.5 518.5 240.4 521.7 240.4 524.5C240.4 527.3 239.5 530.5 238.0 533.0C236.5 535.5 234.0 538.0 231.5 539.5C229.0 541.0 225.8 541.9 223.0 541.9C220.2 541.9 217.0 541.0 214.5 539.5C212.0 538.0 209.5 535.5 208.0 533.0C206.5 530.5 205.6 527.3 205.6 524.5Z"/>
<clipPath id="ct0"><rect x="160.0" y="141.0" width="200.0" height="129.0"/></clipPath>
<g clip-path="url(#ct0)">
<path d="M160.0 159.4C168.3 157.1 193.3 149.8 210.0 145.4C226.7 141.0 251.7 135.1 260.0 133.0"/>
<path d="M160.0 175.0C168.3 172.5 193.3 165.2 210.0 160.0C226.7 154.8 243.3 148.7 260.0 144.0C276.7 139.3 301.7 134.0 310.0 132.0"/>
<path d="M160.0 189.6C168.3 187.0 193.3 179.3 210.0 174.0C226.7 168.7 243.3 162.3 260.0 158.0C276.7 153.7 293.3 152.2 310.0 148.0C326.7 143.8 351.7 135.5 360.0 133.0"/>
<path d="M160.0 200.6C168.3 198.2 193.3 190.9 210.0 186.0C226.7 181.1 243.3 175.2 260.0 171.0C276.7 166.8 293.3 165.2 310.0 161.0C326.7 156.8 351.7 148.5 360.0 146.0"/>
<path d="M160.0 212.0C168.3 209.5 193.3 201.8 210.0 197.0C226.7 192.2 243.3 186.7 260.0 183.0C276.7 179.3 293.3 178.8 310.0 175.0C326.7 171.2 351.7 162.5 360.0 160.0"/>
<path d="M160.0 222.0C168.3 219.7 193.3 212.7 210.0 208.0C226.7 203.3 243.3 197.3 260.0 194.0C276.7 190.7 293.3 191.3 310.0 188.0C326.7 184.7 351.7 176.3 360.0 174.0"/>
<path d="M160.0 233.6C168.3 231.3 193.3 224.6 210.0 220.0C226.7 215.4 243.3 209.3 260.0 206.0C276.7 202.7 293.3 203.3 310.0 200.0C326.7 196.7 351.7 188.3 360.0 186.0"/>
<path d="M160.0 244.0C168.3 241.5 193.3 233.3 210.0 229.0C226.7 224.7 243.3 221.0 260.0 218.0C276.7 215.0 293.3 214.7 310.0 211.0C326.7 207.3 351.7 198.5 360.0 196.0"/>
<path d="M160.0 255.0C168.3 252.8 193.3 246.3 210.0 242.0C226.7 237.7 243.3 232.3 260.0 229.0C276.7 225.7 293.3 225.7 310.0 222.0C326.7 218.3 351.7 209.5 360.0 207.0"/>
<path d="M160.0 265.0C168.3 262.6 193.3 254.6 210.0 250.6C226.7 246.6 243.3 243.6 260.0 241.0C276.7 238.4 293.3 238.8 310.0 235.0C326.7 231.2 351.7 220.8 360.0 218.0"/>
<path d="M160.0 274.0C168.3 272.2 193.3 266.7 210.0 263.0C226.7 259.3 243.3 254.7 260.0 252.0C276.7 249.3 293.3 251.0 310.0 247.0C326.7 243.0 351.7 231.3 360.0 228.2"/>
<path d="M160.0 282.0C168.3 280.5 193.3 276.2 210.0 273.0C226.7 269.8 243.3 265.3 260.0 263.0C276.7 260.7 293.3 262.9 310.0 259.0C326.7 255.1 351.7 242.7 360.0 239.4"/>
<path d="M160.0 291.0C168.3 289.5 193.3 285.2 210.0 282.0C226.7 278.8 243.3 274.0 260.0 272.0C276.7 270.0 293.3 273.8 310.0 270.0C326.7 266.2 351.7 252.7 360.0 249.2"/>
<path d="M160.0 299.0C168.3 297.7 193.3 294.0 210.0 291.0C226.7 288.0 243.3 282.8 260.0 281.0C276.7 279.2 293.3 283.8 310.0 280.0C326.7 276.2 351.7 261.8 360.0 258.2"/>
<path d="M210.0 301.0C218.3 299.3 243.3 292.8 260.0 291.0C276.7 289.2 293.3 294.0 310.0 290.0C326.7 286.0 351.7 270.8 360.0 267.0"/>
<path d="M260.0 301.0C268.3 300.8 293.3 303.8 310.0 300.0C326.7 296.2 351.7 281.7 360.0 278.0"/>
</g>
<clipPath id="ct1"><rect x="160.0" y="270.0" width="200.0" height="141.0"/></clipPath>
<g clip-path="url(#ct1)">
<path d="M160.0 276.0C163.3 275.2 175.0 272.3 180.0 271.0C185.0 269.7 188.3 268.5 190.0 268.0"/>
<path d="M160.0 285.0C165.0 283.7 180.0 279.2 190.0 277.0C200.0 274.8 211.7 273.3 220.0 272.0C228.3 270.7 236.7 269.5 240.0 269.0"/>
<path d="M160.0 294.0C165.0 292.5 180.0 287.5 190.0 285.0C200.0 282.5 210.0 280.7 220.0 279.0C230.0 277.3 241.3 275.7 250.0 275.0C258.7 274.3 265.3 274.7 272.0 275.0C278.7 275.3 283.7 276.7 290.0 277.0C296.3 277.3 303.3 277.8 310.0 277.0C316.7 276.2 325.7 273.3 330.0 272.0C334.3 270.7 335.0 269.5 336.0 269.0"/>
<path d="M160.0 302.0C165.0 300.5 180.0 295.5 190.0 293.0C200.0 290.5 210.0 288.6 220.0 287.0C230.0 285.4 241.3 283.9 250.0 283.6C258.7 283.3 265.3 284.2 272.0 285.0C278.7 285.8 283.7 287.7 290.0 288.4C296.3 289.1 303.3 289.7 310.0 289.0C316.7 288.3 323.3 286.5 330.0 284.0C336.7 281.5 345.3 276.5 350.0 274.0C354.7 271.5 356.7 269.8 358.0 269.0"/>
<path d="M160.0 310.0C165.0 308.5 180.0 303.5 190.0 301.0C200.0 298.5 211.0 296.4 220.0 295.0C229.0 293.6 236.7 292.6 244.0 292.4C251.3 292.2 257.3 292.5 264.0 293.6C270.7 294.7 277.3 297.8 284.0 299.0C290.7 300.2 297.3 301.2 304.0 301.0C310.7 300.8 317.3 300.0 324.0 298.0C330.7 296.0 338.0 292.0 344.0 289.0C350.0 286.0 357.3 281.5 360.0 280.0"/>
<path d="M160.0 319.0C165.0 317.3 180.0 311.5 190.0 309.0C200.0 306.5 211.7 305.2 220.0 304.0C228.3 302.8 233.3 302.2 240.0 302.0C246.7 301.8 253.3 301.7 260.0 303.0C266.7 304.3 273.3 308.2 280.0 310.0C286.7 311.8 293.3 313.3 300.0 313.6C306.7 313.9 313.3 313.4 320.0 311.6C326.7 309.8 333.3 306.1 340.0 303.0C346.7 299.9 356.7 294.7 360.0 293.0"/>
<path d="M160.0 328.0C163.3 326.8 173.3 323.2 180.0 321.0C186.7 318.8 193.3 316.4 200.0 315.0C206.7 313.6 213.3 313.1 220.0 312.4C226.7 311.7 233.3 310.7 240.0 311.0C246.7 311.3 253.3 312.1 260.0 314.0C266.7 315.9 273.3 320.2 280.0 322.4C286.7 324.6 293.3 326.4 300.0 327.0C306.7 327.6 313.3 327.5 320.0 326.0C326.7 324.5 333.3 321.0 340.0 318.0C346.7 315.0 356.7 309.7 360.0 308.0"/>
<path d="M160.0 336.0C165.3 334.7 183.7 330.3 192.0 328.0C200.3 325.7 204.3 323.6 210.0 322.4C215.7 321.2 220.3 321.4 226.0 321.0C231.7 320.6 238.3 319.5 244.0 320.0C249.7 320.5 254.0 321.7 260.0 324.0C266.0 326.3 273.3 331.3 280.0 334.0C286.7 336.7 294.0 339.0 300.0 340.0C306.0 341.0 310.7 340.8 316.0 340.0C321.3 339.2 326.7 337.2 332.0 335.0C337.3 332.8 343.3 329.3 348.0 327.0C352.7 324.7 358.0 322.0 360.0 321.0"/>
<path d="M160.0 344.0C163.3 342.8 173.3 339.0 180.0 337.0C186.7 335.0 193.3 333.3 200.0 332.0C206.7 330.7 214.0 329.7 220.0 329.0C226.0 328.3 231.0 327.5 236.0 328.0C241.0 328.5 245.3 330.0 250.0 332.0C254.7 334.0 257.7 337.1 264.4 340.0C271.1 342.9 281.7 347.2 290.0 349.6C298.3 352.0 306.8 354.4 314.0 354.4C321.2 354.4 327.3 352.0 333.2 349.6C339.1 347.2 344.7 342.5 349.2 340.0C353.7 337.5 358.2 335.3 360.0 334.4"/>
<path d="M160.0 352.0C163.3 350.9 173.3 347.4 180.0 345.6C186.7 343.8 193.3 342.3 200.0 341.0C206.7 339.7 214.0 338.5 220.0 338.0C226.0 337.5 231.0 336.9 236.0 338.0C241.0 339.1 245.0 341.8 250.0 344.8C255.0 347.8 259.3 352.5 266.0 356.0C272.7 359.5 283.3 363.5 290.0 365.6C296.7 367.7 300.7 369.1 306.0 368.8C311.3 368.5 315.3 366.4 322.0 364.0C328.7 361.6 339.3 356.8 346.0 354.4C352.7 352.0 359.3 350.4 362.0 349.6"/>
<path d="M160.0 413.8C160.9 411.9 164.0 406.6 165.6 402.6C167.2 398.6 168.6 394.4 169.8 390.0C171.0 385.6 171.2 380.4 172.6 376.0C174.0 371.6 176.1 366.9 178.2 363.4C180.3 359.9 181.6 357.7 185.2 355.0C188.8 352.3 195.2 348.8 200.0 347.0C204.8 345.2 210.1 344.9 214.0 344.4C217.9 343.9 219.8 343.6 223.2 344.2C226.6 344.8 231.3 345.9 234.6 347.8C237.9 349.7 240.4 353.4 243.0 355.6C245.6 357.8 246.2 358.1 250.0 360.8C253.8 363.5 259.3 368.5 266.0 372.0C272.7 375.5 282.0 379.7 290.0 381.6C298.0 383.5 307.3 384.0 314.0 383.2C320.7 382.4 324.7 378.4 330.0 376.8C335.3 375.2 341.0 374.0 346.0 373.6C351.0 373.2 357.7 374.4 360.0 374.6"/>
<path d="M170.0 416.0C170.4 414.7 171.9 411.4 172.6 408.2C173.3 405.0 173.5 401.2 174.0 397.0C174.5 392.8 174.2 387.7 175.4 383.0C176.6 378.3 178.7 372.7 181.0 369.0C183.3 365.3 186.2 362.7 189.4 360.6C192.6 358.5 195.9 357.6 200.0 356.4C204.1 355.2 210.1 354.1 214.0 353.6C217.9 353.1 220.0 352.6 223.2 353.4C226.4 354.2 230.4 355.9 233.2 358.4C236.0 360.9 237.8 364.7 240.2 368.2C242.6 371.7 244.8 376.0 247.4 379.6C250.0 383.2 252.7 386.8 255.8 389.6C258.9 392.4 262.3 394.5 265.8 396.6C269.3 398.7 273.2 400.8 277.0 402.2C280.8 403.6 284.6 404.5 288.4 405.0C292.2 405.5 295.2 405.5 299.6 405.0C304.0 404.5 310.7 403.7 315.0 402.2C319.3 400.7 322.2 397.6 325.2 396.0C328.2 394.4 330.5 393.3 333.2 392.8C335.9 392.3 339.1 392.0 341.2 392.8C343.3 393.6 345.5 395.2 346.0 397.6C346.5 400.0 345.5 403.5 344.4 407.2C343.3 410.9 340.4 417.9 339.6 420.0"/>
<path d="M175.0 416.0C175.3 413.7 176.3 406.7 176.8 402.0C177.3 397.3 177.1 392.7 178.0 388.0C178.9 383.3 180.0 377.7 182.0 374.0C184.0 370.3 187.0 367.8 190.0 366.0C193.0 364.2 196.3 363.5 200.0 363.0C203.7 362.5 208.1 362.7 212.0 363.0C215.9 363.3 219.9 363.2 223.2 364.8C226.5 366.4 229.4 369.7 231.8 372.6C234.2 375.5 235.5 378.9 237.4 382.4C239.3 385.9 240.9 390.1 243.0 393.6C245.1 397.1 247.8 400.2 250.2 403.6C252.6 407.0 256.0 412.3 257.2 414.0"/>
<path d="M181.0 416.0C181.2 413.7 181.8 406.3 182.2 402.0C182.6 397.7 182.6 393.5 183.6 390.0C184.6 386.5 185.9 383.3 188.0 381.0C190.1 378.7 192.7 377.0 196.0 376.0C199.3 375.0 204.2 374.8 208.0 375.0C211.8 375.2 216.1 375.7 219.0 377.4C221.9 379.1 223.7 382.0 225.4 385.2C227.1 388.4 228.2 392.8 229.0 396.6C229.8 400.4 229.8 404.5 230.4 408.0C231.0 411.5 232.1 416.2 232.4 417.8"/>
<path d="M160.0 361.0C160.8 362.5 163.8 366.5 165.0 370.0C166.2 373.5 166.8 378.0 167.0 382.0C167.2 386.0 166.7 390.0 166.0 394.0C165.3 398.0 164.0 403.2 163.0 406.0C162.0 408.8 160.5 410.2 160.0 411.0"/>
</g>
<clipPath id="ct2"><rect x="360.0" y="141.0" width="200.0" height="129.0"/></clipPath>
<g clip-path="url(#ct2)">
<path d="M360.0 146.0 L376.0 139.0"/>
<path d="M360.0 160.0C363.3 158.5 372.3 154.5 380.0 151.0C387.7 147.5 401.7 141.0 406.0 139.0"/>
<path d="M360.0 174.0C363.3 172.2 373.3 166.5 380.0 163.0C386.7 159.5 393.3 155.9 400.0 153.0C406.7 150.1 414.0 147.6 420.0 145.4C426.0 143.2 433.3 140.9 436.0 140.0"/>
<path d="M360.0 186.0C363.3 184.3 373.3 179.5 380.0 176.0C386.7 172.5 393.6 168.5 400.0 165.0C406.4 161.5 412.1 157.3 418.4 155.0C424.7 152.7 431.2 151.8 438.0 151.0C444.8 150.2 452.0 150.1 459.0 150.0C466.0 149.9 469.8 149.9 480.0 150.6C490.2 151.3 506.7 152.9 520.0 154.0C533.3 155.1 553.3 156.8 560.0 157.4"/>
<path d="M360.0 196.0C363.3 194.7 373.3 191.0 380.0 188.0C386.7 185.0 392.7 181.2 400.0 178.0C407.3 174.8 416.3 171.3 424.0 169.0C431.7 166.7 439.9 165.1 446.4 164.0C452.9 162.9 457.6 162.8 463.2 162.6C468.8 162.4 473.9 162.4 480.0 163.0C486.1 163.6 493.5 164.7 500.0 166.0C506.5 167.3 512.3 169.6 519.0 170.6C525.7 171.6 533.2 171.8 540.0 172.0C546.8 172.2 556.7 172.0 560.0 172.0"/>
<path d="M360.0 207.0C363.3 205.7 373.3 202.1 380.0 199.4C386.7 196.7 392.7 193.9 400.0 191.0C407.3 188.1 417.3 184.2 424.0 182.0C430.7 179.8 434.0 178.8 440.0 178.0C446.0 177.2 453.3 177.0 460.0 177.0C466.7 177.0 473.3 177.3 480.0 178.0C486.7 178.7 493.3 179.8 500.0 181.0C506.7 182.2 513.3 183.9 520.0 185.0C526.7 186.1 533.3 186.9 540.0 187.4C546.7 187.9 556.7 187.9 560.0 188.0"/>
<path d="M360.0 218.0C363.3 216.8 373.3 213.5 380.0 211.0C386.7 208.5 392.7 205.7 400.0 203.0C407.3 200.3 417.3 196.8 424.0 195.0C430.7 193.2 434.0 192.7 440.0 192.0C446.0 191.3 453.3 190.9 460.0 191.0C466.7 191.1 472.1 191.7 480.0 192.6C487.9 193.5 499.3 195.4 507.6 196.6C515.9 197.8 521.3 199.3 530.0 200.0C538.7 200.7 555.0 200.8 560.0 201.0"/>
<path d="M360.0 228.2C365.8 225.7 382.2 217.1 395.0 213.2C407.8 209.3 425.3 206.6 437.0 204.8C448.7 203.0 455.7 202.0 465.0 202.6C474.3 203.2 484.8 206.8 493.0 208.2C501.2 209.6 507.0 210.3 514.0 211.0C521.0 211.7 527.3 212.0 535.0 212.4C542.7 212.8 555.8 213.2 560.0 213.4"/>
<path d="M360.0 239.4C365.8 236.9 382.2 228.5 395.0 224.4C407.8 220.3 425.3 216.6 437.0 214.6C448.7 212.6 456.7 211.9 465.0 212.4C473.3 212.9 479.6 215.6 486.6 217.4C493.6 219.2 498.9 221.1 507.0 223.0C515.1 224.9 526.2 227.5 535.0 228.6C543.8 229.7 555.8 229.3 560.0 229.4"/>
<path d="M360.0 249.2C365.8 246.7 384.5 238.0 395.0 234.2C405.5 230.4 413.7 228.3 423.0 226.4C432.3 224.5 444.0 223.5 451.0 223.0C458.0 222.5 460.3 222.8 465.0 223.6C469.7 224.4 472.0 225.2 479.0 227.8C486.0 230.4 497.7 236.3 507.0 239.0C516.3 241.7 526.2 243.3 535.0 244.0C543.8 244.7 555.8 243.5 560.0 243.4"/>
<path d="M360.0 258.2C365.8 255.7 384.5 246.6 395.0 243.2C405.5 239.8 414.7 239.0 423.0 237.6C431.3 236.2 439.2 235.4 445.0 234.8C450.8 234.2 453.5 233.7 458.0 234.2C462.5 234.7 466.2 235.0 472.0 237.6C477.8 240.2 486.0 246.4 493.0 249.6C500.0 252.8 507.0 255.2 514.0 256.6C521.0 258.0 527.3 257.9 535.0 258.0C542.7 258.1 555.8 257.5 560.0 257.4"/>
<path d="M360.0 267.0C365.8 264.3 384.5 254.4 395.0 251.0C405.5 247.6 414.8 248.0 423.0 246.8C431.2 245.6 438.2 244.4 444.0 244.0C449.8 243.6 453.3 243.4 458.0 244.6C462.7 245.8 467.3 248.3 472.0 251.0C476.7 253.7 481.3 257.8 486.0 260.8C490.7 263.8 495.3 267.3 500.0 269.2C504.7 271.1 508.2 271.4 514.0 272.0C519.8 272.6 527.3 272.6 535.0 272.6C542.7 272.6 555.8 272.1 560.0 272.0"/>
<path d="M360.0 278.0C365.8 275.4 387.1 265.3 395.0 262.2C402.9 259.1 401.8 260.7 407.6 259.6C413.4 258.5 422.8 256.7 430.0 255.8C437.2 254.9 445.9 253.8 451.0 254.4C456.1 255.0 457.3 257.2 460.8 259.4C464.3 261.6 467.8 264.5 472.0 267.8C476.2 271.1 481.3 276.0 486.0 279.0C490.7 282.0 497.7 284.8 500.0 286.0"/>
<path d="M372.0 285.0C375.8 283.3 388.8 277.2 395.0 274.8C401.2 272.4 403.2 271.7 409.0 270.6C414.8 269.5 424.2 268.3 430.0 268.4C435.8 268.5 440.0 270.1 444.0 271.2C448.0 272.3 451.0 272.8 453.8 274.8C456.6 276.8 459.6 281.6 460.8 283.0"/>
</g>
<clipPath id="ct3"><rect x="360.0" y="270.0" width="120.0" height="141.0"/></clipPath>
<g clip-path="url(#ct3)">
<path d="M360.0 280.0C362.7 278.7 372.7 274.0 376.0 272.0C379.3 270.0 379.3 268.7 380.0 268.0"/>
<path d="M360.0 292.0C363.3 290.7 375.0 286.7 380.0 284.0C385.0 281.3 387.7 278.7 390.0 276.0C392.3 273.3 393.3 269.3 394.0 268.0"/>
<path d="M360.0 307.0C363.3 305.8 374.7 302.8 380.0 300.0C385.3 297.2 389.3 293.7 392.0 290.0C394.7 286.3 394.7 280.9 396.0 278.0C397.3 275.1 396.0 273.6 400.0 272.4C404.0 271.2 412.7 270.9 420.0 271.0C427.3 271.1 437.7 271.8 444.0 273.0C450.3 274.2 454.7 275.8 458.0 278.0C461.3 280.2 461.7 283.0 464.0 286.0C466.3 289.0 468.7 292.7 472.0 296.0C475.3 299.3 479.3 303.3 484.0 306.0C488.7 308.7 495.3 310.8 500.0 312.0C504.7 313.2 505.3 314.3 512.0 313.0C518.7 311.7 532.0 306.5 540.0 304.0C548.0 301.5 556.7 299.0 560.0 298.0"/>
<path d="M360.0 320.0C363.3 318.8 373.3 316.3 380.0 313.0C386.7 309.7 394.0 303.5 400.0 300.0C406.0 296.5 410.0 293.5 416.0 292.0C422.0 290.5 431.0 290.3 436.0 291.0C441.0 291.7 443.7 293.5 446.0 296.0C448.3 298.5 448.7 302.3 450.0 306.0C451.3 309.7 452.3 314.3 454.0 318.0C455.7 321.7 458.7 324.7 460.0 328.0C461.3 331.3 460.7 335.3 462.0 338.0C463.3 340.7 465.0 342.8 468.0 344.0C471.0 345.2 475.3 345.5 480.0 345.0C484.7 344.5 490.7 342.5 496.0 341.0C501.3 339.5 507.7 337.8 512.0 336.0C516.3 334.2 520.3 331.0 522.0 330.0"/>
<path d="M360.0 334.0C363.3 333.3 373.3 331.7 380.0 330.0C386.7 328.3 393.7 325.3 400.0 324.0C406.3 322.7 413.3 321.7 418.0 322.4C422.7 323.1 425.7 325.1 428.0 328.0C430.3 330.9 431.0 335.7 432.0 340.0C433.0 344.3 433.7 349.0 434.0 354.0C434.3 359.0 434.3 364.7 434.0 370.0C433.7 375.3 432.8 381.0 432.0 386.0C431.2 391.0 429.7 395.5 429.0 400.0C428.3 404.5 428.2 410.8 428.0 413.0"/>
<path d="M360.0 350.0C363.3 349.3 374.0 346.7 380.0 346.0C386.0 345.3 391.7 345.0 396.0 346.0C400.3 347.0 404.0 349.0 406.0 352.0C408.0 355.0 407.8 359.7 408.0 364.0C408.2 368.3 407.8 373.7 407.0 378.0C406.2 382.3 404.3 386.3 403.0 390.0C401.7 393.7 399.8 396.2 399.0 400.0C398.2 403.8 398.2 410.8 398.0 413.0"/>
<path d="M379.6 361.6C379.6 360.3 380.3 358.5 381.2 357.6C382.1 356.7 383.7 356.1 385.0 356.2C386.3 356.3 388.3 357.1 389.2 358.0C390.1 358.9 390.5 360.3 390.4 361.6C390.3 362.9 389.7 364.7 388.8 365.6C387.9 366.5 386.3 367.0 385.0 367.0C383.7 367.0 381.9 366.5 381.0 365.6C380.1 364.7 379.6 362.9 379.6 361.6Z"/>
<path d="M360.0 374.6C360.9 375.5 363.8 377.0 365.2 380.0C366.6 383.0 367.3 388.3 368.4 392.8C369.5 397.3 370.7 403.3 371.6 407.2C372.5 411.1 373.6 414.5 374.0 416.0"/>
<path d="M560.0 311.0C557.7 312.2 550.0 314.8 546.0 318.0C542.0 321.2 538.7 325.3 536.0 330.0C533.3 334.7 531.7 340.7 530.0 346.0C528.3 351.3 526.8 356.7 526.0 362.0C525.2 367.3 524.7 372.7 525.0 378.0C525.3 383.3 526.2 389.0 528.0 394.0C529.8 399.0 534.0 404.8 536.0 408.0C538.0 411.2 539.3 412.2 540.0 413.0"/>
<path d="M560.0 328.0C558.3 329.3 552.7 332.3 550.0 336.0C547.3 339.7 545.5 345.0 544.0 350.0C542.5 355.0 541.3 360.7 541.0 366.0C540.7 371.3 541.2 377.0 542.0 382.0C542.8 387.0 544.0 391.7 546.0 396.0C548.0 400.3 551.7 405.2 554.0 408.0C556.3 410.8 559.0 412.2 560.0 413.0"/>
<path d="M560.0 350.0C559.0 351.7 555.3 356.0 554.0 360.0C552.7 364.0 552.0 369.3 552.0 374.0C552.0 378.7 552.7 384.0 554.0 388.0C555.3 392.0 559.0 396.3 560.0 398.0"/>
<path d="M500.0 413.0C500.3 410.5 501.0 402.5 502.0 398.0C503.0 393.5 504.3 389.7 506.0 386.0C507.7 382.3 509.7 379.3 512.0 376.0C514.3 372.7 518.7 367.7 520.0 366.0"/>
<path d="M482.0 268.0C483.3 269.7 487.0 275.2 490.0 278.0C493.0 280.8 495.7 283.2 500.0 285.0C504.3 286.8 510.7 288.5 516.0 289.0C521.3 289.5 526.7 289.0 532.0 288.0C537.3 287.0 543.3 284.7 548.0 283.0C552.7 281.3 558.0 278.8 560.0 278.0"/>
</g>
<clipPath id="ct4"><rect x="480.0" y="270.0" width="80.0" height="97.0"/></clipPath>
<g clip-path="url(#ct4)">
<path d="M360.0 280.0C362.7 278.7 372.7 274.0 376.0 272.0C379.3 270.0 379.3 268.7 380.0 268.0"/>
<path d="M360.0 292.0C363.3 290.7 375.0 286.7 380.0 284.0C385.0 281.3 387.7 278.7 390.0 276.0C392.3 273.3 393.3 269.3 394.0 268.0"/>
<path d="M360.0 307.0C363.3 305.8 374.7 302.8 380.0 300.0C385.3 297.2 389.3 293.7 392.0 290.0C394.7 286.3 394.7 280.9 396.0 278.0C397.3 275.1 396.0 273.6 400.0 272.4C404.0 271.2 412.7 270.9 420.0 271.0C427.3 271.1 437.7 271.8 444.0 273.0C450.3 274.2 454.7 275.8 458.0 278.0C461.3 280.2 461.7 283.0 464.0 286.0C466.3 289.0 468.7 292.7 472.0 296.0C475.3 299.3 479.3 303.3 484.0 306.0C488.7 308.7 495.3 310.8 500.0 312.0C504.7 313.2 505.3 314.3 512.0 313.0C518.7 311.7 532.0 306.5 540.0 304.0C548.0 301.5 556.7 299.0 560.0 298.0"/>
<path d="M360.0 320.0C363.3 318.8 373.3 316.3 380.0 313.0C386.7 309.7 394.0 303.5 400.0 300.0C406.0 296.5 410.0 293.5 416.0 292.0C422.0 290.5 431.0 290.3 436.0 291.0C441.0 291.7 443.7 293.5 446.0 296.0C448.3 298.5 448.7 302.3 450.0 306.0C451.3 309.7 452.3 314.3 454.0 318.0C455.7 321.7 458.7 324.7 460.0 328.0C461.3 331.3 460.7 335.3 462.0 338.0C463.3 340.7 465.0 342.8 468.0 344.0C471.0 345.2 475.3 345.5 480.0 345.0C484.7 344.5 490.7 342.5 496.0 341.0C501.3 339.5 507.7 337.8 512.0 336.0C516.3 334.2 520.3 331.0 522.0 330.0"/>
<path d="M360.0 334.0C363.3 333.3 373.3 331.7 380.0 330.0C386.7 328.3 393.7 325.3 400.0 324.0C406.3 322.7 413.3 321.7 418.0 322.4C422.7 323.1 425.7 325.1 428.0 328.0C430.3 330.9 431.0 335.7 432.0 340.0C433.0 344.3 433.7 349.0 434.0 354.0C434.3 359.0 434.3 364.7 434.0 370.0C433.7 375.3 432.8 381.0 432.0 386.0C431.2 391.0 429.7 395.5 429.0 400.0C428.3 404.5 428.2 410.8 428.0 413.0"/>
<path d="M360.0 350.0C363.3 349.3 374.0 346.7 380.0 346.0C386.0 345.3 391.7 345.0 396.0 346.0C400.3 347.0 404.0 349.0 406.0 352.0C408.0 355.0 407.8 359.7 408.0 364.0C408.2 368.3 407.8 373.7 407.0 378.0C406.2 382.3 404.3 386.3 403.0 390.0C401.7 393.7 399.8 396.2 399.0 400.0C398.2 403.8 398.2 410.8 398.0 413.0"/>
<path d="M379.6 361.6C379.6 360.3 380.3 358.5 381.2 357.6C382.1 356.7 383.7 356.1 385.0 356.2C386.3 356.3 388.3 357.1 389.2 358.0C390.1 358.9 390.5 360.3 390.4 361.6C390.3 362.9 389.7 364.7 388.8 365.6C387.9 366.5 386.3 367.0 385.0 367.0C383.7 367.0 381.9 366.5 381.0 365.6C380.1 364.7 379.6 362.9 379.6 361.6Z"/>
<path d="M360.0 374.6C360.9 375.5 363.8 377.0 365.2 380.0C366.6 383.0 367.3 388.3 368.4 392.8C369.5 397.3 370.7 403.3 371.6 407.2C372.5 411.1 373.6 414.5 374.0 416.0"/>
<path d="M560.0 311.0C557.7 312.2 550.0 314.8 546.0 318.0C542.0 321.2 538.7 325.3 536.0 330.0C533.3 334.7 531.7 340.7 530.0 346.0C528.3 351.3 526.8 356.7 526.0 362.0C525.2 367.3 524.7 372.7 525.0 378.0C525.3 383.3 526.2 389.0 528.0 394.0C529.8 399.0 534.0 404.8 536.0 408.0C538.0 411.2 539.3 412.2 540.0 413.0"/>
<path d="M560.0 328.0C558.3 329.3 552.7 332.3 550.0 336.0C547.3 339.7 545.5 345.0 544.0 350.0C542.5 355.0 541.3 360.7 541.0 366.0C540.7 371.3 541.2 377.0 542.0 382.0C542.8 387.0 544.0 391.7 546.0 396.0C548.0 400.3 551.7 405.2 554.0 408.0C556.3 410.8 559.0 412.2 560.0 413.0"/>
<path d="M560.0 350.0C559.0 351.7 555.3 356.0 554.0 360.0C552.7 364.0 552.0 369.3 552.0 374.0C552.0 378.7 552.7 384.0 554.0 388.0C555.3 392.0 559.0 396.3 560.0 398.0"/>
<path d="M500.0 413.0C500.3 410.5 501.0 402.5 502.0 398.0C503.0 393.5 504.3 389.7 506.0 386.0C507.7 382.3 509.7 379.3 512.0 376.0C514.3 372.7 518.7 367.7 520.0 366.0"/>
<path d="M482.0 268.0C483.3 269.7 487.0 275.2 490.0 278.0C493.0 280.8 495.7 283.2 500.0 285.0C504.3 286.8 510.7 288.5 516.0 289.0C521.3 289.5 526.7 289.0 532.0 288.0C537.3 287.0 543.3 284.7 548.0 283.0C552.7 281.3 558.0 278.8 560.0 278.0"/>
</g>
<clipPath id="ct5"><rect x="560.0" y="141.0" width="140.0" height="129.0"/></clipPath>
<g clip-path="url(#ct5)">
<path d="M560.0 157.0C565.0 156.3 580.0 153.8 590.0 153.0C600.0 152.2 610.0 152.0 620.0 152.0C630.0 152.0 640.0 152.0 650.0 153.0C660.0 154.0 670.0 157.0 680.0 158.0C690.0 159.0 700.0 159.0 710.0 159.0C720.0 159.0 731.7 157.8 740.0 158.0C748.3 158.2 756.7 159.7 760.0 160.0"/>
<path d="M716.0 141.0C720.0 141.5 732.7 143.2 740.0 144.0C747.3 144.8 756.7 145.7 760.0 146.0"/>
<path d="M560.0 172.0C565.0 171.3 580.0 169.0 590.0 168.0C600.0 167.0 610.0 166.0 620.0 166.0C630.0 166.0 640.0 166.7 650.0 168.0C660.0 169.3 670.0 172.5 680.0 174.0C690.0 175.5 700.0 176.8 710.0 177.0C720.0 177.2 731.7 175.2 740.0 175.0C748.3 174.8 756.7 175.8 760.0 176.0"/>
<path d="M560.0 186.0C565.0 185.3 580.0 183.0 590.0 182.0C600.0 181.0 611.7 180.2 620.0 180.0C628.3 179.8 633.3 180.0 640.0 181.0C646.7 182.0 653.3 184.3 660.0 186.0C666.7 187.7 671.7 189.7 680.0 191.0C688.3 192.3 700.0 193.8 710.0 194.0C720.0 194.2 731.7 192.3 740.0 192.0C748.3 191.7 756.7 192.0 760.0 192.0"/>
<path d="M560.0 201.0C565.0 200.5 580.0 198.8 590.0 198.0C600.0 197.2 610.0 195.7 620.0 196.0C630.0 196.3 640.0 198.3 650.0 200.0C660.0 201.7 670.0 204.3 680.0 206.0C690.0 207.7 700.0 209.5 710.0 210.0C720.0 210.5 731.7 209.0 740.0 209.0C748.3 209.0 756.7 209.8 760.0 210.0"/>
<path d="M560.0 214.0C565.0 213.7 580.0 212.5 590.0 212.0C600.0 211.5 610.0 210.7 620.0 211.0C630.0 211.3 640.0 212.5 650.0 214.0C660.0 215.5 670.0 218.3 680.0 220.0C690.0 221.7 700.0 223.2 710.0 224.0C720.0 224.8 731.7 224.7 740.0 225.0C748.3 225.3 756.7 225.8 760.0 226.0"/>
<path d="M560.0 229.0C565.0 228.3 580.0 225.8 590.0 225.0C600.0 224.2 610.0 223.7 620.0 224.0C630.0 224.3 640.0 225.5 650.0 227.0C660.0 228.5 670.0 231.2 680.0 233.0C690.0 234.8 700.0 236.7 710.0 238.0C720.0 239.3 731.7 240.3 740.0 241.0C748.3 241.7 756.7 241.8 760.0 242.0"/>
<path d="M560.0 243.4C565.0 242.5 580.0 239.1 590.0 238.0C600.0 236.9 610.0 236.7 620.0 237.0C630.0 237.3 640.0 238.5 650.0 240.0C660.0 241.5 670.0 244.0 680.0 246.0C690.0 248.0 700.0 250.2 710.0 252.0C720.0 253.8 731.7 256.0 740.0 257.0C748.3 258.0 756.7 257.8 760.0 258.0"/>
<path d="M560.0 257.4C565.0 256.5 580.0 253.2 590.0 252.0C600.0 250.8 610.0 249.8 620.0 250.0C630.0 250.2 640.0 251.5 650.0 253.0C660.0 254.5 670.0 256.8 680.0 259.0C690.0 261.2 700.0 264.0 710.0 266.0C720.0 268.0 731.7 269.7 740.0 271.0C748.3 272.3 756.7 273.5 760.0 274.0"/>
<path d="M560.0 272.0C565.0 270.8 580.0 266.5 590.0 265.0C600.0 263.5 610.0 262.8 620.0 263.0C630.0 263.2 640.0 264.5 650.0 266.0C660.0 267.5 670.0 269.8 680.0 272.0C690.0 274.2 701.7 277.0 710.0 279.0C718.3 281.0 726.7 283.2 730.0 284.0"/>
<path d="M560.0 282.0C563.3 281.3 570.0 279.2 580.0 278.0C590.0 276.8 608.3 275.0 620.0 275.0C631.7 275.0 641.3 276.5 650.0 278.0C658.7 279.5 668.3 283.0 672.0 284.0"/>
</g>
<clipPath id="ct6"><rect x="700.0" y="141.0" width="145.0" height="129.0"/></clipPath>
<g clip-path="url(#ct6)">
<path d="M712.0 140.0C715.0 140.4 722.0 141.6 730.0 142.6C738.0 143.6 751.0 145.2 760.0 146.0C769.0 146.8 776.7 147.4 784.0 147.4C791.3 147.4 796.7 146.9 804.0 146.0C811.3 145.1 822.0 143.0 828.0 142.0C834.0 141.0 838.0 140.3 840.0 140.0"/>
<path d="M700.0 158.6C705.0 158.7 720.0 158.4 730.0 159.0C740.0 159.6 750.0 160.8 760.0 162.0C770.0 163.2 780.0 165.0 790.0 166.0C800.0 167.0 810.7 167.1 820.0 168.0C829.3 168.9 841.7 170.8 846.0 171.4"/>
<path d="M700.0 176.0C705.0 175.8 720.0 174.7 730.0 175.0C740.0 175.3 750.0 176.7 760.0 178.0C770.0 179.3 780.7 181.7 790.0 183.0C799.3 184.3 806.7 184.9 816.0 186.0C825.3 187.1 841.0 188.8 846.0 189.4"/>
<path d="M700.0 193.0C705.0 192.7 720.0 191.2 730.0 191.4C740.0 191.6 750.0 192.9 760.0 194.0C770.0 195.1 780.0 196.8 790.0 198.0C800.0 199.2 810.7 199.6 820.0 201.0C829.3 202.4 841.7 205.7 846.0 206.6"/>
<path d="M700.0 208.6C705.0 208.5 720.0 207.9 730.0 208.0C740.0 208.1 751.0 209.0 760.0 209.0C769.0 209.0 776.7 207.5 784.0 208.0C791.3 208.5 797.5 209.8 804.0 212.0C810.5 214.2 816.0 218.0 823.0 221.0C830.0 224.0 842.2 228.5 846.0 230.0"/>
<path d="M700.0 222.6C705.0 222.7 720.0 223.0 730.0 223.4C740.0 223.8 752.3 224.9 760.0 225.0C767.7 225.1 771.0 224.0 776.0 224.0C781.0 224.0 784.3 223.5 790.0 225.0C795.7 226.5 803.3 230.0 810.0 233.0C816.7 236.0 824.0 240.5 830.0 243.0C836.0 245.5 843.3 247.2 846.0 248.0"/>
<path d="M700.0 236.4C705.0 236.8 720.0 237.8 730.0 238.6C740.0 239.4 751.7 240.8 760.0 241.0C768.3 241.2 774.5 239.5 780.0 240.0C785.5 240.5 787.7 242.0 793.0 244.0C798.3 246.0 805.8 249.5 812.0 252.0C818.2 254.5 824.7 257.2 830.0 259.0C835.3 260.8 841.7 262.3 844.0 263.0"/>
<path d="M700.0 250.0C705.0 250.8 720.0 253.8 730.0 255.0C740.0 256.2 751.7 256.7 760.0 257.0C768.3 257.3 774.0 256.0 780.0 257.0C786.0 258.0 790.7 261.0 796.0 263.0C801.3 265.0 806.7 267.2 812.0 269.0C817.3 270.8 823.3 272.3 828.0 274.0C832.7 275.7 838.0 278.2 840.0 279.0"/>
<path d="M700.0 263.6C705.0 264.4 720.0 267.2 730.0 268.6C740.0 270.0 751.7 271.3 760.0 272.0C768.3 272.7 773.3 272.2 780.0 273.0C786.7 273.8 794.7 275.7 800.0 277.0C805.3 278.3 808.7 279.7 812.0 281.0C815.3 282.3 818.7 284.3 820.0 285.0"/>
<path d="M700.0 276.6C703.3 277.3 713.3 279.6 720.0 281.0C726.7 282.4 736.7 284.3 740.0 285.0"/>
</g>
<clipPath id="ct7"><rect x="560.0" y="270.0" width="140.0" height="97.0"/></clipPath>
<g clip-path="url(#ct7)">
<path d="M582.4 369.6C582.4 368.3 583.1 366.5 584.0 365.6C584.9 364.7 586.7 364.0 588.0 364.0C589.3 364.0 591.1 364.7 592.0 365.6C592.9 366.5 593.6 368.3 593.6 369.6C593.6 370.9 592.9 372.7 592.0 373.6C591.1 374.5 589.3 375.2 588.0 375.2C586.7 375.2 584.9 374.5 584.0 373.6C583.1 372.7 582.4 370.9 582.4 369.6Z"/>
<path d="M568.0 370.0C568.1 366.8 569.2 362.7 571.0 360.0C572.8 357.3 576.2 355.2 579.0 354.0C581.8 352.8 584.8 352.4 588.0 352.6C591.2 352.8 595.1 353.4 598.0 355.0C600.9 356.6 603.9 359.5 605.6 362.0C607.3 364.5 608.0 367.2 608.0 370.0C608.0 372.8 607.3 376.4 605.6 379.0C603.9 381.6 600.9 384.2 598.0 385.6C595.1 387.0 591.3 387.6 588.0 387.6C584.7 387.6 580.9 387.0 578.0 385.6C575.1 384.2 572.1 381.6 570.4 379.0C568.7 376.4 567.9 373.2 568.0 370.0Z"/>
<path d="M560.0 349.0C562.7 347.2 570.7 340.3 576.0 338.0C581.3 335.7 586.7 334.8 592.0 335.0C597.3 335.2 603.3 336.5 608.0 339.0C612.7 341.5 617.2 345.8 620.0 350.0C622.8 354.2 624.7 359.0 625.0 364.0C625.3 369.0 624.2 375.0 622.0 380.0C619.8 385.0 616.3 390.3 612.0 394.0C607.7 397.7 601.3 400.3 596.0 402.0C590.7 403.7 585.0 404.3 580.0 404.0C575.0 403.7 569.3 401.3 566.0 400.0C562.7 398.7 561.0 396.7 560.0 396.0"/>
<path d="M560.0 332.0C563.3 330.4 573.3 324.7 580.0 322.4C586.7 320.1 593.3 318.6 600.0 318.4C606.7 318.2 615.2 319.2 620.0 321.0C624.8 322.8 626.9 326.2 629.0 329.0C631.1 331.8 630.9 336.7 632.4 338.0C633.9 339.3 636.1 337.5 638.0 337.0C639.9 336.5 641.7 334.5 644.0 335.0C646.3 335.5 649.9 337.7 652.0 340.0C654.1 342.3 656.2 345.8 656.4 349.0C656.6 352.2 654.6 355.7 653.0 359.0C651.4 362.3 648.8 365.3 647.0 369.0C645.2 372.7 643.3 377.2 642.0 381.0C640.7 384.8 640.3 388.7 639.0 392.0C637.7 395.3 636.5 398.3 634.0 401.0C631.5 403.7 626.8 406.0 624.0 408.0C621.2 410.0 618.2 412.2 617.0 413.0"/>
<path d="M560.0 317.0C563.3 315.5 573.3 310.3 580.0 308.0C586.7 305.7 593.3 304.3 600.0 303.0C606.7 301.7 614.0 300.6 620.0 300.0C626.0 299.4 631.0 299.3 636.0 299.6C641.0 299.9 645.3 300.6 650.0 302.0C654.7 303.4 659.7 305.7 664.0 308.0C668.3 310.3 672.7 313.0 676.0 316.0C679.3 319.0 681.8 322.3 684.0 326.0C686.2 329.7 688.0 334.0 689.0 338.0C690.0 342.0 690.2 346.0 690.0 350.0C689.8 354.0 689.0 358.0 688.0 362.0C687.0 366.0 685.7 370.0 684.0 374.0C682.3 378.0 680.3 382.3 678.0 386.0C675.7 389.7 673.0 392.7 670.0 396.0C667.0 399.3 662.7 403.2 660.0 406.0C657.3 408.8 655.0 411.8 654.0 413.0"/>
<path d="M560.0 300.0C563.3 298.8 573.3 295.0 580.0 293.0C586.7 291.0 593.3 289.2 600.0 288.0C606.7 286.8 613.3 286.2 620.0 286.0C626.7 285.8 633.3 286.0 640.0 287.0C646.7 288.0 653.3 289.8 660.0 292.0C666.7 294.2 673.3 297.0 680.0 300.0C686.7 303.0 693.3 306.7 700.0 310.0C706.7 313.3 714.7 317.0 720.0 320.0C725.3 323.0 729.2 325.0 732.0 328.0C734.8 331.0 736.7 333.7 737.0 338.0C737.3 342.3 735.8 348.7 734.0 354.0C732.2 359.3 729.3 364.7 726.0 370.0C722.7 375.3 718.3 381.0 714.0 386.0C709.7 391.0 704.3 395.5 700.0 400.0C695.7 404.5 690.0 410.8 688.0 413.0"/>
<path d="M560.0 286.0C563.3 285.2 573.3 282.5 580.0 281.0C586.7 279.5 593.3 277.8 600.0 277.0C606.7 276.2 613.3 275.8 620.0 276.0C626.7 276.2 633.3 276.8 640.0 278.0C646.7 279.2 653.3 281.0 660.0 283.0C666.7 285.0 673.3 287.5 680.0 290.0C686.7 292.5 693.3 295.3 700.0 298.0C706.7 300.7 713.3 303.3 720.0 306.0C726.7 308.7 733.3 311.7 740.0 314.0C746.7 316.3 756.7 319.0 760.0 320.0"/>
<path d="M560.0 274.0C563.3 273.5 571.7 271.8 580.0 271.0C588.3 270.2 600.0 269.2 610.0 269.0C620.0 268.8 631.7 269.2 640.0 270.0C648.3 270.8 653.3 272.3 660.0 274.0C666.7 275.7 673.3 277.8 680.0 280.0C686.7 282.2 693.3 284.8 700.0 287.0C706.7 289.2 713.3 291.2 720.0 293.0C726.7 294.8 733.3 296.3 740.0 298.0C746.7 299.7 756.7 302.2 760.0 303.0"/>
<path d="M676.0 269.0C680.0 270.2 692.7 274.0 700.0 276.0C707.3 278.0 713.3 279.3 720.0 281.0C726.7 282.7 733.3 284.5 740.0 286.0C746.7 287.5 756.7 289.3 760.0 290.0"/>
<path d="M726.0 269.0C728.3 269.7 734.3 271.5 740.0 273.0C745.7 274.5 756.7 277.2 760.0 278.0"/>
</g>
<clipPath id="ct8"><rect x="640.0" y="367.0" width="60.0" height="44.0"/></clipPath>
<g clip-path="url(#ct8)">
<path d="M582.4 369.6C582.4 368.3 583.1 366.5 584.0 365.6C584.9 364.7 586.7 364.0 588.0 364.0C589.3 364.0 591.1 364.7 592.0 365.6C592.9 366.5 593.6 368.3 593.6 369.6C593.6 370.9 592.9 372.7 592.0 373.6C591.1 374.5 589.3 375.2 588.0 375.2C586.7 375.2 584.9 374.5 584.0 373.6C583.1 372.7 582.4 370.9 582.4 369.6Z"/>
<path d="M568.0 370.0C568.1 366.8 569.2 362.7 571.0 360.0C572.8 357.3 576.2 355.2 579.0 354.0C581.8 352.8 584.8 352.4 588.0 352.6C591.2 352.8 595.1 353.4 598.0 355.0C600.9 356.6 603.9 359.5 605.6 362.0C607.3 364.5 608.0 367.2 608.0 370.0C608.0 372.8 607.3 376.4 605.6 379.0C603.9 381.6 600.9 384.2 598.0 385.6C595.1 387.0 591.3 387.6 588.0 387.6C584.7 387.6 580.9 387.0 578.0 385.6C575.1 384.2 572.1 381.6 570.4 379.0C568.7 376.4 567.9 373.2 568.0 370.0Z"/>
<path d="M560.0 349.0C562.7 347.2 570.7 340.3 576.0 338.0C581.3 335.7 586.7 334.8 592.0 335.0C597.3 335.2 603.3 336.5 608.0 339.0C612.7 341.5 617.2 345.8 620.0 350.0C622.8 354.2 624.7 359.0 625.0 364.0C625.3 369.0 624.2 375.0 622.0 380.0C619.8 385.0 616.3 390.3 612.0 394.0C607.7 397.7 601.3 400.3 596.0 402.0C590.7 403.7 585.0 404.3 580.0 404.0C575.0 403.7 569.3 401.3 566.0 400.0C562.7 398.7 561.0 396.7 560.0 396.0"/>
<path d="M560.0 332.0C563.3 330.4 573.3 324.7 580.0 322.4C586.7 320.1 593.3 318.6 600.0 318.4C606.7 318.2 615.2 319.2 620.0 321.0C624.8 322.8 626.9 326.2 629.0 329.0C631.1 331.8 630.9 336.7 632.4 338.0C633.9 339.3 636.1 337.5 638.0 337.0C639.9 336.5 641.7 334.5 644.0 335.0C646.3 335.5 649.9 337.7 652.0 340.0C654.1 342.3 656.2 345.8 656.4 349.0C656.6 352.2 654.6 355.7 653.0 359.0C651.4 362.3 648.8 365.3 647.0 369.0C645.2 372.7 643.3 377.2 642.0 381.0C640.7 384.8 640.3 388.7 639.0 392.0C637.7 395.3 636.5 398.3 634.0 401.0C631.5 403.7 626.8 406.0 624.0 408.0C621.2 410.0 618.2 412.2 617.0 413.0"/>
<path d="M560.0 317.0C563.3 315.5 573.3 310.3 580.0 308.0C586.7 305.7 593.3 304.3 600.0 303.0C606.7 301.7 614.0 300.6 620.0 300.0C626.0 299.4 631.0 299.3 636.0 299.6C641.0 299.9 645.3 300.6 650.0 302.0C654.7 303.4 659.7 305.7 664.0 308.0C668.3 310.3 672.7 313.0 676.0 316.0C679.3 319.0 681.8 322.3 684.0 326.0C686.2 329.7 688.0 334.0 689.0 338.0C690.0 342.0 690.2 346.0 690.0 350.0C689.8 354.0 689.0 358.0 688.0 362.0C687.0 366.0 685.7 370.0 684.0 374.0C682.3 378.0 680.3 382.3 678.0 386.0C675.7 389.7 673.0 392.7 670.0 396.0C667.0 399.3 662.7 403.2 660.0 406.0C657.3 408.8 655.0 411.8 654.0 413.0"/>
<path d="M560.0 300.0C563.3 298.8 573.3 295.0 580.0 293.0C586.7 291.0 593.3 289.2 600.0 288.0C606.7 286.8 613.3 286.2 620.0 286.0C626.7 285.8 633.3 286.0 640.0 287.0C646.7 288.0 653.3 289.8 660.0 292.0C666.7 294.2 673.3 297.0 680.0 300.0C686.7 303.0 693.3 306.7 700.0 310.0C706.7 313.3 714.7 317.0 720.0 320.0C725.3 323.0 729.2 325.0 732.0 328.0C734.8 331.0 736.7 333.7 737.0 338.0C737.3 342.3 735.8 348.7 734.0 354.0C732.2 359.3 729.3 364.7 726.0 370.0C722.7 375.3 718.3 381.0 714.0 386.0C709.7 391.0 704.3 395.5 700.0 400.0C695.7 404.5 690.0 410.8 688.0 413.0"/>
<path d="M560.0 286.0C563.3 285.2 573.3 282.5 580.0 281.0C586.7 279.5 593.3 277.8 600.0 277.0C606.7 276.2 613.3 275.8 620.0 276.0C626.7 276.2 633.3 276.8 640.0 278.0C646.7 279.2 653.3 281.0 660.0 283.0C666.7 285.0 673.3 287.5 680.0 290.0C686.7 292.5 693.3 295.3 700.0 298.0C706.7 300.7 713.3 303.3 720.0 306.0C726.7 308.7 733.3 311.7 740.0 314.0C746.7 316.3 756.7 319.0 760.0 320.0"/>
<path d="M560.0 274.0C563.3 273.5 571.7 271.8 580.0 271.0C588.3 270.2 600.0 269.2 610.0 269.0C620.0 268.8 631.7 269.2 640.0 270.0C648.3 270.8 653.3 272.3 660.0 274.0C666.7 275.7 673.3 277.8 680.0 280.0C686.7 282.2 693.3 284.8 700.0 287.0C706.7 289.2 713.3 291.2 720.0 293.0C726.7 294.8 733.3 296.3 740.0 298.0C746.7 299.7 756.7 302.2 760.0 303.0"/>
<path d="M676.0 269.0C680.0 270.2 692.7 274.0 700.0 276.0C707.3 278.0 713.3 279.3 720.0 281.0C726.7 282.7 733.3 284.5 740.0 286.0C746.7 287.5 756.7 289.3 760.0 290.0"/>
<path d="M726.0 269.0C728.3 269.7 734.3 271.5 740.0 273.0C745.7 274.5 756.7 277.2 760.0 278.0"/>
</g>
<clipPath id="ct9"><rect x="700.0" y="270.0" width="145.0" height="141.0"/></clipPath>
<g clip-path="url(#ct9)">
<path d="M700.0 276.0C703.3 276.5 713.3 277.7 720.0 279.0C726.7 280.3 733.3 282.7 740.0 284.0C746.7 285.3 753.3 286.3 760.0 287.0C766.7 287.7 774.3 287.5 780.0 288.0C785.7 288.5 790.0 288.8 794.0 290.0C798.0 291.2 800.7 292.7 804.0 295.0C807.3 297.3 812.3 302.5 814.0 304.0"/>
<path d="M750.0 269.0C753.3 269.7 762.7 271.8 770.0 273.0C777.3 274.2 787.0 274.7 794.0 276.0C801.0 277.3 807.0 279.2 812.0 281.0C817.0 282.8 822.0 286.0 824.0 287.0"/>
<path d="M700.0 291.0C703.3 291.7 713.3 293.5 720.0 295.0C726.7 296.5 733.8 298.8 740.0 300.0C746.2 301.2 751.0 301.9 757.0 302.4C763.0 302.9 771.2 302.2 776.0 303.0C780.8 303.8 783.0 305.0 786.0 307.0C789.0 309.0 791.3 311.8 794.0 315.0C796.7 318.2 800.7 324.2 802.0 326.0"/>
<path d="M700.0 304.0C703.3 304.8 713.3 307.2 720.0 309.0C726.7 310.8 733.7 313.3 740.0 315.0C746.3 316.7 753.7 317.3 758.0 319.0C762.3 320.7 764.2 322.5 766.0 325.0C767.8 327.5 767.8 330.8 769.0 334.0C770.2 337.2 772.0 340.3 773.0 344.0C774.0 347.7 774.2 352.0 775.0 356.0C775.8 360.0 777.5 366.0 778.0 368.0"/>
<path d="M700.0 318.0C702.7 318.5 711.0 319.7 716.0 321.0C721.0 322.3 726.5 323.8 730.0 326.0C733.5 328.2 736.0 330.7 737.0 334.0C738.0 337.3 736.5 341.7 736.0 346.0C735.5 350.3 735.7 355.3 734.0 360.0C732.3 364.7 729.3 369.3 726.0 374.0C722.7 378.7 718.3 384.0 714.0 388.0C709.7 392.0 703.7 395.3 700.0 398.0C696.3 400.7 693.3 403.0 692.0 404.0"/>
</g>
<clipPath id="ct10"><rect x="160.0" y="411.0" width="200.0" height="129.0"/></clipPath>
<g clip-path="url(#ct10)">
<path d="M160.0 430.0C161.3 428.5 166.2 424.5 168.0 421.0C169.8 417.5 170.5 411.0 171.0 409.0"/>
<path d="M160.0 447.0C162.0 445.3 169.3 440.3 172.0 437.0C174.7 433.7 175.2 430.3 176.0 427.0C176.8 423.7 177.0 420.0 177.0 417.0C177.0 414.0 176.2 410.3 176.0 409.0"/>
<path d="M160.0 463.0C162.0 461.3 168.7 456.7 172.0 453.0C175.3 449.3 178.2 445.3 180.0 441.0C181.8 436.7 182.6 431.3 183.0 427.0C183.4 422.7 182.6 418.0 182.4 415.0C182.2 412.0 181.7 410.0 181.6 409.0"/>
<path d="M232.0 409.0C232.3 411.0 232.3 417.3 234.0 421.0C235.7 424.7 238.7 428.0 242.0 431.0C245.3 434.0 249.0 437.0 254.0 439.0C259.0 441.0 266.3 442.2 272.0 443.0C277.7 443.8 283.7 443.3 288.0 444.0C292.3 444.7 296.7 444.5 298.0 447.0C299.3 449.5 297.3 454.3 296.0 459.0C294.7 463.7 291.7 469.7 290.0 475.0C288.3 480.3 287.3 486.0 286.0 491.0C284.7 496.0 283.3 500.3 282.0 505.0C280.7 509.7 279.3 514.0 278.0 519.0C276.7 524.0 275.3 529.2 274.0 535.0C272.7 540.8 270.7 550.8 270.0 554.0"/>
<path d="M256.0 409.0C258.0 411.0 263.3 418.3 268.0 421.0C272.7 423.7 278.7 424.3 284.0 425.0C289.3 425.7 295.7 424.7 300.0 425.0C304.3 425.3 307.7 424.3 310.0 427.0C312.3 429.7 313.3 436.0 314.0 441.0C314.7 446.0 313.7 451.7 314.0 457.0C314.3 462.3 315.0 468.7 316.0 473.0C317.0 477.3 317.3 480.8 320.0 483.0C322.7 485.2 328.0 485.2 332.0 486.0C336.0 486.8 340.3 486.5 344.0 488.0C347.7 489.5 351.3 493.2 354.0 495.0C356.7 496.8 359.0 498.3 360.0 499.0"/>
<path d="M340.0 409.0C339.7 411.3 338.0 418.3 338.0 423.0C338.0 427.7 339.0 432.3 340.0 437.0C341.0 441.7 342.3 446.7 344.0 451.0C345.7 455.3 347.3 459.3 350.0 463.0C352.7 466.7 358.3 471.3 360.0 473.0"/>
<path d="M160.0 460.0C162.0 459.0 167.0 455.3 172.0 454.0C177.0 452.7 183.7 452.2 190.0 452.0C196.3 451.8 203.3 452.2 210.0 453.0C216.7 453.8 223.3 455.7 230.0 457.0C236.7 458.3 243.7 459.8 250.0 461.0C256.3 462.2 263.3 462.7 268.0 464.0C272.7 465.3 276.7 466.2 278.0 469.0C279.3 471.8 277.3 476.3 276.0 481.0C274.7 485.7 272.0 491.3 270.0 497.0C268.0 502.7 265.8 509.0 264.0 515.0C262.2 521.0 260.7 526.5 259.0 533.0C257.3 539.5 254.8 550.5 254.0 554.0"/>
<path d="M160.0 519.0C161.3 521.0 165.0 527.0 168.0 531.0C171.0 535.0 175.0 539.2 178.0 543.0C181.0 546.8 184.7 552.2 186.0 554.0"/>
<path d="M160.0 539.0 L170.0 554.0"/>
<path d="M288.0 554.0C289.3 552.2 292.7 545.8 296.0 543.0C299.3 540.2 303.3 539.0 308.0 537.0C312.7 535.0 318.7 532.7 324.0 531.0C329.3 529.3 334.0 528.3 340.0 527.0C346.0 525.7 356.7 523.7 360.0 523.0"/>
<path d="M360.0 539.0C356.7 539.7 346.7 541.3 340.0 543.0C333.3 544.7 324.7 547.2 320.0 549.0C315.3 550.8 313.3 553.2 312.0 554.0"/>
</g>
<clipPath id="ct11"><rect x="360.0" y="411.0" width="120.0" height="129.0"/></clipPath>
<g clip-path="url(#ct11)">
<path d="M368.0 409.0C369.0 412.0 372.0 420.7 374.0 427.0C376.0 433.3 378.0 440.3 380.0 447.0C382.0 453.7 384.7 460.3 386.0 467.0C387.3 473.7 388.3 480.7 388.0 487.0C387.7 493.3 386.0 499.3 384.0 505.0C382.0 510.7 379.0 516.0 376.0 521.0C373.0 526.0 368.7 531.3 366.0 535.0C363.3 538.7 361.0 541.7 360.0 543.0"/>
<path d="M402.0 409.0C401.8 412.7 401.3 425.5 401.0 431.0C400.7 436.5 400.3 437.0 400.0 442.0C399.7 447.0 399.0 455.2 399.0 461.0C399.0 466.8 400.2 471.3 400.0 477.0C399.8 482.7 399.3 488.7 398.0 495.0C396.7 501.3 394.7 508.7 392.0 515.0C389.3 521.3 385.3 527.7 382.0 533.0C378.7 538.3 374.3 543.5 372.0 547.0C369.7 550.5 368.7 552.8 368.0 554.0"/>
<path d="M444.0 554.0C445.0 551.2 448.3 542.8 450.0 537.0C451.7 531.2 453.7 525.0 454.0 519.0C454.3 513.0 453.0 506.3 452.0 501.0C451.0 495.7 449.0 492.0 448.0 487.0C447.0 482.0 446.7 476.0 446.0 471.0C445.3 466.0 445.0 462.0 444.0 457.0C443.0 452.0 441.3 446.0 440.0 441.0C438.7 436.0 437.0 432.3 436.0 427.0C435.0 421.7 434.3 412.0 434.0 409.0"/>
<path d="M498.0 409.0C499.7 410.7 503.2 416.5 508.0 419.0C512.8 421.5 521.0 422.8 527.0 424.0C533.0 425.2 538.5 425.8 544.0 426.0C549.5 426.2 557.3 425.2 560.0 425.0"/>
<path d="M480.0 409.0C480.7 411.3 482.0 419.0 484.0 423.0C486.0 427.0 488.7 430.3 492.0 433.0C495.3 435.7 499.3 437.5 504.0 439.0C508.7 440.5 514.0 441.7 520.0 442.0C526.0 442.3 533.3 441.8 540.0 441.0C546.7 440.2 556.7 437.7 560.0 437.0"/>
<path d="M472.0 423.0C473.3 425.3 476.0 433.0 480.0 437.0C484.0 441.0 489.3 444.8 496.0 447.0C502.7 449.2 512.7 449.7 520.0 450.0C527.3 450.3 533.3 449.8 540.0 449.0C546.7 448.2 556.7 445.7 560.0 445.0"/>
<path d="M560.0 481.0C558.0 482.0 551.8 485.2 548.0 487.0C544.2 488.8 540.0 490.3 537.0 492.0C534.0 493.7 531.8 494.8 530.0 497.0C528.2 499.2 527.0 503.7 526.4 505.0"/>
<path d="M560.0 505.0C558.0 506.0 552.0 508.0 548.0 511.0C544.0 514.0 539.3 518.7 536.0 523.0C532.7 527.3 530.0 531.8 528.0 537.0C526.0 542.2 524.7 551.2 524.0 554.0"/>
<path d="M560.0 531.0C558.7 532.3 554.3 535.2 552.0 539.0C549.7 542.8 547.0 551.5 546.0 554.0"/>
</g>
<clipPath id="ct12"><rect x="480.0" y="480.0" width="80.0" height="60.0"/></clipPath>
<g clip-path="url(#ct12)">
<path d="M368.0 409.0C369.0 412.0 372.0 420.7 374.0 427.0C376.0 433.3 378.0 440.3 380.0 447.0C382.0 453.7 384.7 460.3 386.0 467.0C387.3 473.7 388.3 480.7 388.0 487.0C387.7 493.3 386.0 499.3 384.0 505.0C382.0 510.7 379.0 516.0 376.0 521.0C373.0 526.0 368.7 531.3 366.0 535.0C363.3 538.7 361.0 541.7 360.0 543.0"/>
<path d="M402.0 409.0C401.8 412.7 401.3 425.5 401.0 431.0C400.7 436.5 400.3 437.0 400.0 442.0C399.7 447.0 399.0 455.2 399.0 461.0C399.0 466.8 400.2 471.3 400.0 477.0C399.8 482.7 399.3 488.7 398.0 495.0C396.7 501.3 394.7 508.7 392.0 515.0C389.3 521.3 385.3 527.7 382.0 533.0C378.7 538.3 374.3 543.5 372.0 547.0C369.7 550.5 368.7 552.8 368.0 554.0"/>
<path d="M444.0 554.0C445.0 551.2 448.3 542.8 450.0 537.0C451.7 531.2 453.7 525.0 454.0 519.0C454.3 513.0 453.0 506.3 452.0 501.0C451.0 495.7 449.0 492.0 448.0 487.0C447.0 482.0 446.7 476.0 446.0 471.0C445.3 466.0 445.0 462.0 444.0 457.0C443.0 452.0 441.3 446.0 440.0 441.0C438.7 436.0 437.0 432.3 436.0 427.0C435.0 421.7 434.3 412.0 434.0 409.0"/>
<path d="M498.0 409.0C499.7 410.7 503.2 416.5 508.0 419.0C512.8 421.5 521.0 422.8 527.0 424.0C533.0 425.2 538.5 425.8 544.0 426.0C549.5 426.2 557.3 425.2 560.0 425.0"/>
<path d="M480.0 409.0C480.7 411.3 482.0 419.0 484.0 423.0C486.0 427.0 488.7 430.3 492.0 433.0C495.3 435.7 499.3 437.5 504.0 439.0C508.7 440.5 514.0 441.7 520.0 442.0C526.0 442.3 533.3 441.8 540.0 441.0C546.7 440.2 556.7 437.7 560.0 437.0"/>
<path d="M472.0 423.0C473.3 425.3 476.0 433.0 480.0 437.0C484.0 441.0 489.3 444.8 496.0 447.0C502.7 449.2 512.7 449.7 520.0 450.0C527.3 450.3 533.3 449.8 540.0 449.0C546.7 448.2 556.7 445.7 560.0 445.0"/>
<path d="M560.0 481.0C558.0 482.0 551.8 485.2 548.0 487.0C544.2 488.8 540.0 490.3 537.0 492.0C534.0 493.7 531.8 494.8 530.0 497.0C528.2 499.2 527.0 503.7 526.4 505.0"/>
<path d="M560.0 505.0C558.0 506.0 552.0 508.0 548.0 511.0C544.0 514.0 539.3 518.7 536.0 523.0C532.7 527.3 530.0 531.8 528.0 537.0C526.0 542.2 524.7 551.2 524.0 554.0"/>
<path d="M560.0 531.0C558.7 532.3 554.3 535.2 552.0 539.0C549.7 542.8 547.0 551.5 546.0 554.0"/>
</g>
<clipPath id="ct13"><rect x="560.0" y="480.0" width="200.0" height="60.0"/></clipPath>
<g clip-path="url(#ct13)">
<path d="M566.0 409.0C568.3 410.2 574.3 414.7 580.0 416.0C585.7 417.3 593.3 417.1 600.0 416.6C606.7 416.1 615.3 414.3 620.0 413.0C624.7 411.7 626.7 409.7 628.0 409.0"/>
<path d="M560.0 422.0C563.3 422.7 573.3 425.5 580.0 426.0C586.7 426.5 593.3 425.8 600.0 425.0C606.7 424.2 613.3 422.7 620.0 421.0C626.7 419.3 635.0 417.0 640.0 415.0C645.0 413.0 648.3 410.0 650.0 409.0"/>
<path d="M560.0 433.0C563.3 433.5 573.3 435.8 580.0 436.0C586.7 436.2 593.3 435.0 600.0 434.0C606.7 433.0 613.3 431.7 620.0 430.0C626.7 428.3 633.3 426.0 640.0 424.0C646.7 422.0 653.3 419.8 660.0 418.0C666.7 416.2 675.0 414.5 680.0 413.0C685.0 411.5 688.3 409.7 690.0 409.0"/>
<path d="M560.0 444.0C563.3 444.0 573.3 444.3 580.0 444.0C586.7 443.7 593.3 443.0 600.0 442.0C606.7 441.0 613.3 439.5 620.0 438.0C626.7 436.5 633.3 434.7 640.0 433.0C646.7 431.3 653.3 429.7 660.0 428.0C666.7 426.3 673.3 424.7 680.0 423.0C686.7 421.3 693.3 419.5 700.0 418.0C706.7 416.5 715.0 415.3 720.0 414.0C725.0 412.7 728.3 410.7 730.0 410.0"/>
<path d="M560.0 454.0C563.3 453.8 573.3 453.5 580.0 453.0C586.7 452.5 593.3 451.8 600.0 451.0C606.7 450.2 613.3 448.7 620.0 448.0C626.7 447.3 633.3 447.3 640.0 447.0C646.7 446.7 653.3 445.8 660.0 446.0C666.7 446.2 675.0 446.5 680.0 448.0C685.0 449.5 688.0 451.2 690.0 455.0C692.0 458.8 692.5 465.0 692.0 471.0C691.5 477.0 688.2 485.0 687.0 491.0C685.8 497.0 685.0 501.7 685.0 507.0C685.0 512.3 686.7 520.3 687.0 523.0"/>
<path d="M560.0 466.0C563.3 465.8 573.3 464.9 580.0 464.6C586.7 464.3 593.3 464.0 600.0 464.0C606.7 464.0 613.3 464.2 620.0 464.6C626.7 465.0 634.3 465.7 640.0 466.6C645.7 467.5 650.3 468.3 654.0 470.0C657.7 471.7 660.2 473.5 662.0 477.0C663.8 480.5 664.3 486.0 665.0 491.0C665.7 496.0 665.7 501.7 666.0 507.0C666.3 512.3 666.7 517.7 667.0 523.0C667.3 528.3 667.7 533.8 668.0 539.0C668.3 544.2 668.8 551.5 669.0 554.0"/>
<path d="M560.0 483.0C563.3 482.8 573.3 482.1 580.0 482.0C586.7 481.9 593.3 481.9 600.0 482.6C606.7 483.3 614.3 484.3 620.0 486.0C625.7 487.7 630.3 490.2 634.0 493.0C637.7 495.8 640.0 499.0 642.0 503.0C644.0 507.0 645.0 512.0 646.0 517.0C647.0 522.0 647.7 526.8 648.0 533.0C648.3 539.2 648.0 550.5 648.0 554.0"/>
<path d="M560.0 504.0C562.7 503.7 570.7 502.2 576.0 502.0C581.3 501.8 586.7 501.8 592.0 503.0C597.3 504.2 603.3 506.3 608.0 509.0C612.7 511.7 616.7 515.3 620.0 519.0C623.3 522.7 626.0 526.7 628.0 531.0C630.0 535.3 631.2 541.2 632.0 545.0C632.8 548.8 632.8 552.5 633.0 554.0"/>
<path d="M560.0 531.0C562.0 530.7 568.0 529.0 572.0 529.0C576.0 529.0 580.0 529.3 584.0 531.0C588.0 532.7 592.7 536.0 596.0 539.0C599.3 542.0 602.3 546.5 604.0 549.0C605.7 551.5 605.7 553.2 606.0 554.0"/>
</g>
<clipPath id="ct14"><rect x="640.0" y="411.0" width="120.0" height="69.0"/></clipPath>
<g clip-path="url(#ct14)">
<path d="M566.0 409.0C568.3 410.2 574.3 414.7 580.0 416.0C585.7 417.3 593.3 417.1 600.0 416.6C606.7 416.1 615.3 414.3 620.0 413.0C624.7 411.7 626.7 409.7 628.0 409.0"/>
<path d="M560.0 422.0C563.3 422.7 573.3 425.5 580.0 426.0C586.7 426.5 593.3 425.8 600.0 425.0C606.7 424.2 613.3 422.7 620.0 421.0C626.7 419.3 635.0 417.0 640.0 415.0C645.0 413.0 648.3 410.0 650.0 409.0"/>
<path d="M560.0 433.0C563.3 433.5 573.3 435.8 580.0 436.0C586.7 436.2 593.3 435.0 600.0 434.0C606.7 433.0 613.3 431.7 620.0 430.0C626.7 428.3 633.3 426.0 640.0 424.0C646.7 422.0 653.3 419.8 660.0 418.0C666.7 416.2 675.0 414.5 680.0 413.0C685.0 411.5 688.3 409.7 690.0 409.0"/>
<path d="M560.0 444.0C563.3 444.0 573.3 444.3 580.0 444.0C586.7 443.7 593.3 443.0 600.0 442.0C606.7 441.0 613.3 439.5 620.0 438.0C626.7 436.5 633.3 434.7 640.0 433.0C646.7 431.3 653.3 429.7 660.0 428.0C666.7 426.3 673.3 424.7 680.0 423.0C686.7 421.3 693.3 419.5 700.0 418.0C706.7 416.5 715.0 415.3 720.0 414.0C725.0 412.7 728.3 410.7 730.0 410.0"/>
<path d="M560.0 454.0C563.3 453.8 573.3 453.5 580.0 453.0C586.7 452.5 593.3 451.8 600.0 451.0C606.7 450.2 613.3 448.7 620.0 448.0C626.7 447.3 633.3 447.3 640.0 447.0C646.7 446.7 653.3 445.8 660.0 446.0C666.7 446.2 675.0 446.5 680.0 448.0C685.0 449.5 688.0 451.2 690.0 455.0C692.0 458.8 692.5 465.0 692.0 471.0C691.5 477.0 688.2 485.0 687.0 491.0C685.8 497.0 685.0 501.7 685.0 507.0C685.0 512.3 686.7 520.3 687.0 523.0"/>
<path d="M560.0 466.0C563.3 465.8 573.3 464.9 580.0 464.6C586.7 464.3 593.3 464.0 600.0 464.0C606.7 464.0 613.3 464.2 620.0 464.6C626.7 465.0 634.3 465.7 640.0 466.6C645.7 467.5 650.3 468.3 654.0 470.0C657.7 471.7 660.2 473.5 662.0 477.0C663.8 480.5 664.3 486.0 665.0 491.0C665.7 496.0 665.7 501.7 666.0 507.0C666.3 512.3 666.7 517.7 667.0 523.0C667.3 528.3 667.7 533.8 668.0 539.0C668.3 544.2 668.8 551.5 669.0 554.0"/>
<path d="M560.0 483.0C563.3 482.8 573.3 482.1 580.0 482.0C586.7 481.9 593.3 481.9 600.0 482.6C606.7 483.3 614.3 484.3 620.0 486.0C625.7 487.7 630.3 490.2 634.0 493.0C637.7 495.8 640.0 499.0 642.0 503.0C644.0 507.0 645.0 512.0 646.0 517.0C647.0 522.0 647.7 526.8 648.0 533.0C648.3 539.2 648.0 550.5 648.0 554.0"/>
<path d="M560.0 504.0C562.7 503.7 570.7 502.2 576.0 502.0C581.3 501.8 586.7 501.8 592.0 503.0C597.3 504.2 603.3 506.3 608.0 509.0C612.7 511.7 616.7 515.3 620.0 519.0C623.3 522.7 626.0 526.7 628.0 531.0C630.0 535.3 631.2 541.2 632.0 545.0C632.8 548.8 632.8 552.5 633.0 554.0"/>
<path d="M560.0 531.0C562.0 530.7 568.0 529.0 572.0 529.0C576.0 529.0 580.0 529.3 584.0 531.0C588.0 532.7 592.7 536.0 596.0 539.0C599.3 542.0 602.3 546.5 604.0 549.0C605.7 551.5 605.7 553.2 606.0 554.0"/>
</g>
<clipPath id="ct15"><rect x="160.0" y="540.0" width="200.0" height="125.0"/></clipPath>
<g clip-path="url(#ct15)">
<path d="M160.0 551.0C163.3 553.5 173.3 560.8 180.0 566.0C186.7 571.2 193.3 576.7 200.0 582.0C206.7 587.3 213.3 593.7 220.0 598.0C226.7 602.3 235.3 605.0 240.0 608.0C244.7 611.0 245.7 612.7 248.0 616.0C250.3 619.3 252.4 624.6 254.0 628.0C255.6 631.4 257.1 636.7 257.6 636.4C258.1 636.1 257.1 630.4 256.8 626.0C256.5 621.6 255.9 616.0 255.6 610.0C255.3 604.0 255.3 596.7 255.2 590.0C255.1 583.3 254.9 576.7 254.8 570.0C254.7 563.3 254.5 555.3 254.4 550.0C254.3 544.7 254.1 540.0 254.0 538.0"/>
<path d="M284.0 538.0C283.3 540.3 281.0 546.7 280.0 552.0C279.0 557.3 278.5 563.7 278.0 570.0C277.5 576.3 277.0 583.7 277.0 590.0C277.0 596.3 277.5 602.3 278.0 608.0C278.5 613.7 279.7 621.3 280.0 624.0"/>
<path d="M214.0 538.0C215.3 539.0 219.3 543.3 222.0 544.0C224.7 544.7 228.3 543.0 230.0 542.0C231.7 541.0 231.7 538.7 232.0 538.0"/>
<path d="M160.0 562.0C165.0 567.0 180.0 582.3 190.0 592.0C200.0 601.7 212.3 613.0 220.0 620.0C227.7 627.0 231.0 629.2 236.0 634.0C241.0 638.8 245.7 644.3 250.0 649.0C254.3 653.7 259.3 658.8 262.0 662.0C264.7 665.2 265.3 667.0 266.0 668.0"/>
<path d="M271.0 668.0C271.2 663.3 271.5 648.0 272.0 640.0C272.5 632.0 273.0 626.7 274.0 620.0C275.0 613.3 276.3 606.7 278.0 600.0C279.7 593.3 281.7 586.7 284.0 580.0C286.3 573.3 289.3 565.7 292.0 560.0C294.7 554.3 298.0 549.7 300.0 546.0C302.0 542.3 303.3 539.3 304.0 538.0"/>
<path d="M280.0 668.0C280.3 664.0 280.7 651.3 282.0 644.0C283.3 636.7 285.7 630.3 288.0 624.0C290.3 617.7 293.3 611.7 296.0 606.0C298.7 600.3 301.3 595.3 304.0 590.0C306.7 584.7 308.7 579.0 312.0 574.0C315.3 569.0 319.3 564.0 324.0 560.0C328.7 556.0 334.0 552.7 340.0 550.0C346.0 547.3 356.7 545.0 360.0 544.0"/>
<path d="M290.0 668.0C290.7 664.7 292.3 654.0 294.0 648.0C295.7 642.0 297.7 636.7 300.0 632.0C302.3 627.3 305.7 624.0 308.0 620.0C310.3 616.0 313.0 610.0 314.0 608.0"/>
</g>
<clipPath id="ct16"><rect x="560.0" y="540.0" width="200.0" height="125.0"/></clipPath>
<g clip-path="url(#ct16)">
<path d="M606.0 538.0C607.0 540.3 610.3 547.0 612.0 552.0C613.7 557.0 615.2 562.3 616.0 568.0C616.8 573.7 617.3 580.7 617.0 586.0C616.7 591.3 615.8 595.0 614.0 600.0C612.2 605.0 609.0 611.0 606.0 616.0C603.0 621.0 599.0 625.3 596.0 630.0C593.0 634.7 590.3 639.3 588.0 644.0C585.7 648.7 583.2 654.0 582.0 658.0C580.8 662.0 581.2 666.3 581.0 668.0"/>
<path d="M632.0 538.0C632.2 541.0 632.3 550.3 633.0 556.0C633.7 561.7 635.0 567.0 636.0 572.0C637.0 577.0 638.0 581.3 639.0 586.0C640.0 590.7 641.5 597.7 642.0 600.0"/>
<path d="M650.0 538.0C650.0 540.3 649.8 547.3 650.0 552.0C650.2 556.7 650.5 562.0 651.0 566.0C651.5 570.0 652.7 574.3 653.0 576.0"/>
<path d="M668.0 538.0 L669.0 546.0"/>
<path d="M560.0 576.0C561.0 575.0 563.7 571.3 566.0 570.0C568.3 568.7 571.3 567.3 574.0 568.0C576.7 568.7 580.0 571.0 582.0 574.0C584.0 577.0 585.2 581.7 586.0 586.0C586.8 590.3 587.7 595.0 587.0 600.0C586.3 605.0 583.8 611.0 582.0 616.0C580.2 621.0 578.0 625.3 576.0 630.0C574.0 634.7 571.5 639.0 570.0 644.0C568.5 649.0 567.5 656.0 567.0 660.0C566.5 664.0 567.0 666.7 567.0 668.0"/>
</g>
<clipPath id="ct17"><rect x="360.0" y="540.0" width="200.0" height="125.0"/></clipPath>
<g clip-path="url(#ct17)">
<path d="M396.0 617.0C396.3 614.5 399.7 612.2 402.0 611.0C404.3 609.8 407.8 609.2 410.0 610.0C412.2 610.8 414.3 613.7 415.0 616.0C415.7 618.3 415.2 622.0 414.0 624.0C412.8 626.0 410.3 627.7 408.0 628.0C405.7 628.3 402.0 627.8 400.0 626.0C398.0 624.2 395.7 619.5 396.0 617.0Z"/>
<path d="M403.0 617.0C403.5 615.8 405.8 614.7 407.0 615.0C408.2 615.3 409.8 617.7 410.0 619.0C410.2 620.3 409.0 622.5 408.0 623.0C407.0 623.5 404.8 623.0 404.0 622.0C403.2 621.0 402.5 618.2 403.0 617.0Z"/>
<path d="M408.0 643.0C408.7 641.5 411.7 639.5 414.0 639.0C416.3 638.5 419.8 639.2 422.0 640.0C424.2 640.8 426.7 642.3 427.0 644.0C427.3 645.7 425.8 648.8 424.0 650.0C422.2 651.2 418.3 651.3 416.0 651.0C413.7 650.7 411.3 649.3 410.0 648.0C408.7 646.7 407.3 644.5 408.0 643.0Z"/>
<path d="M384.0 668.0C384.2 665.7 384.0 657.2 385.0 654.0C386.0 650.8 387.8 649.7 390.0 649.0C392.2 648.3 395.7 648.7 398.0 650.0C400.3 651.3 402.7 654.0 404.0 657.0C405.3 660.0 405.7 666.2 406.0 668.0"/>
<path d="M388.0 668.0C388.2 666.2 388.2 659.3 389.0 657.0C389.8 654.7 391.3 654.2 393.0 654.0C394.7 653.8 397.5 653.7 399.0 656.0C400.5 658.3 401.5 666.0 402.0 668.0"/>
<path d="M392.0 668.0C392.2 666.5 392.3 660.7 393.0 659.0C393.7 657.3 395.0 656.5 396.0 658.0C397.0 659.5 398.5 666.3 399.0 668.0"/>
<path d="M360.0 560.0C362.0 559.3 368.0 556.2 372.0 556.0C376.0 555.8 380.3 559.3 384.0 559.0C387.7 558.7 390.3 554.2 394.0 554.0C397.7 553.8 402.0 558.3 406.0 558.0C410.0 557.7 414.0 552.3 418.0 552.0C422.0 551.7 426.0 556.3 430.0 556.0C434.0 555.7 438.0 550.3 442.0 550.0C446.0 549.7 450.3 554.7 454.0 554.0C457.7 553.3 461.0 548.5 464.0 546.0C467.0 543.5 470.7 540.2 472.0 539.0"/>
<path d="M416.0 539.0C416.7 540.5 418.0 545.5 420.0 548.0C422.0 550.5 427.0 551.7 428.0 554.0C429.0 556.3 425.3 559.7 426.0 562.0C426.7 564.3 429.0 567.3 432.0 568.0C435.0 568.7 441.0 567.7 444.0 566.0C447.0 564.3 448.0 558.7 450.0 558.0C452.0 557.3 454.3 563.0 456.0 562.0C457.7 561.0 458.0 553.0 460.0 552.0C462.0 551.0 466.0 556.7 468.0 556.0C470.0 555.3 471.3 549.3 472.0 548.0"/>
<path d="M360.0 548.0C362.7 547.7 370.7 547.0 376.0 546.0C381.3 545.0 387.3 543.2 392.0 542.0C396.7 540.8 402.0 539.5 404.0 539.0"/>
<path d="M518.0 606.0 L524.0 594.0"/>
<path d="M534.0 620.0C535.0 618.3 537.7 613.3 540.0 610.0C542.3 606.7 546.7 601.7 548.0 600.0"/>
<path d="M440.0 668.0C439.8 665.3 439.7 657.0 439.0 652.0C438.3 647.0 437.5 642.0 436.0 638.0C434.5 634.0 431.7 631.0 430.0 628.0C428.3 625.0 426.3 623.0 426.0 620.0C425.7 617.0 427.7 611.7 428.0 610.0"/>
<path d="M450.0 668.0C449.8 665.3 449.7 657.3 449.0 652.0C448.3 646.7 447.5 640.7 446.0 636.0C444.5 631.3 441.3 627.7 440.0 624.0C438.7 620.3 438.0 617.0 438.0 614.0C438.0 611.0 439.7 607.3 440.0 606.0"/>
</g>
<clipPath id="ct18"><rect x="480.0" y="367.0" width="160.0" height="113.0"/></clipPath>
<g clip-path="url(#ct18)">
<path d="M583.2 370.2C583.2 368.9 583.9 367.1 584.8 366.2C585.7 365.3 587.5 364.6 588.8 364.6C590.1 364.6 591.9 365.3 592.8 366.2C593.7 367.1 594.4 368.9 594.4 370.2C594.4 371.5 593.7 373.3 592.8 374.2C591.9 375.1 590.1 375.8 588.8 375.8C587.5 375.8 585.7 375.1 584.8 374.2C583.9 373.3 583.2 371.5 583.2 370.2Z"/>
<path d="M569.6 365.4C569.7 366.7 569.6 370.7 570.4 373.4C571.2 376.1 572.4 379.0 574.4 381.4C576.4 383.8 579.5 386.5 582.4 387.8C585.3 389.1 588.8 389.7 592.0 389.4C595.2 389.1 598.9 388.1 601.6 386.2C604.3 384.3 606.6 381.7 608.0 378.2C609.4 374.7 609.6 367.5 609.9 365.4"/>
<path d="M556.8 365.4C557.1 367.3 557.3 372.9 558.4 376.6C559.5 380.3 560.8 384.3 563.2 387.8C565.6 391.3 569.1 394.9 572.8 397.4C576.5 399.9 581.3 402.3 585.6 403.0C589.9 403.7 594.1 402.9 598.4 401.4C602.7 399.9 607.7 397.3 611.2 394.2C614.7 391.1 617.2 386.7 619.2 383.0C621.2 379.3 622.4 374.7 623.2 371.8C624.0 368.9 623.9 366.5 624.0 365.4"/>
<path d="M544.0 365.4C544.3 367.8 544.5 375.3 545.6 379.8C546.7 384.3 548.3 388.6 550.4 392.6C552.5 396.6 555.2 400.5 558.4 403.8C561.6 407.1 565.3 410.3 569.6 412.6C573.9 414.9 578.9 416.7 584.0 417.4C589.1 418.1 594.9 417.5 600.0 416.6C605.1 415.7 610.1 413.9 614.4 411.8C618.7 409.7 622.4 406.7 625.6 403.8C628.8 400.9 630.9 397.7 633.6 394.2C636.3 390.7 640.3 384.9 641.6 383.0"/>
<path d="M524.8 365.4C524.9 367.3 524.8 372.6 525.6 376.6C526.4 380.6 527.9 385.4 529.6 389.4C531.3 393.4 533.6 397.1 536.0 400.6C538.4 404.1 540.8 407.3 544.0 410.2C547.2 413.1 551.2 415.8 555.2 418.2C559.2 420.6 563.5 422.9 568.0 424.6C572.5 426.3 577.3 427.9 582.4 428.6C587.5 429.3 593.1 429.1 598.4 428.6C603.7 428.1 609.6 426.7 614.4 425.4C619.2 424.1 622.7 422.6 627.2 420.6C631.7 418.6 639.2 414.6 641.6 413.4"/>
<path d="M511.2 365.4C510.3 367.0 507.3 371.5 505.6 375.0C503.9 378.5 502.0 382.5 500.8 386.2C499.6 389.9 498.5 393.7 498.4 397.4C498.3 401.1 498.8 405.1 500.0 408.6C501.2 412.1 503.1 415.7 505.6 418.2C508.1 420.7 511.5 422.1 515.2 423.8C518.9 425.5 523.2 427.3 528.0 428.6C532.8 429.9 538.7 431.0 544.0 431.8C549.3 432.6 554.7 432.9 560.0 433.4C565.3 433.9 570.7 434.7 576.0 435.0C581.3 435.3 586.7 435.4 592.0 435.0C597.3 434.6 602.7 433.7 608.0 432.6C613.3 431.5 618.4 430.3 624.0 428.6C629.6 426.9 638.7 423.3 641.6 422.2"/>
<path d="M501.6 365.4C499.6 368.3 492.7 377.4 489.6 383.0C486.5 388.6 484.4 394.5 483.2 399.0C482.0 403.5 482.1 406.7 482.4 410.2C482.7 413.7 482.8 416.3 484.8 419.8C486.8 423.3 490.4 428.1 494.4 431.0C498.4 433.9 503.2 435.7 508.8 437.4C514.4 439.1 521.6 440.5 528.0 441.4C534.4 442.3 540.8 442.6 547.2 443.0C553.6 443.4 560.0 443.8 566.4 443.8C572.8 443.8 579.2 443.5 585.6 443.0C592.0 442.5 598.4 441.8 604.8 440.6C611.2 439.4 617.9 437.5 624.0 435.8C630.1 434.1 638.7 431.1 641.6 430.2"/>
<path d="M478.4 416.6C479.7 419.5 483.5 429.9 486.4 434.2C489.3 438.5 491.7 440.1 496.0 442.2C500.3 444.3 506.1 445.8 512.0 447.0C517.9 448.2 525.1 448.7 531.2 449.4C537.3 450.1 542.9 451.1 548.8 451.5C554.7 451.9 560.3 452.0 566.4 451.8C572.5 451.6 579.2 451.0 585.6 450.2C592.0 449.4 598.4 448.3 604.8 447.0C611.2 445.7 617.9 443.9 624.0 442.2C630.1 440.5 638.7 437.5 641.6 436.6"/>
<path d="M560.0 463.0C563.2 462.6 572.3 461.7 579.2 460.6C586.1 459.5 594.7 458.3 601.6 456.6C608.5 454.9 614.1 452.5 620.8 450.2C627.5 447.9 638.1 444.2 641.6 443.0"/>
<path d="M569.6 481.6C572.3 480.3 579.7 476.5 585.6 474.2C591.5 471.9 598.4 470.1 604.8 467.8C611.2 465.5 617.9 463.0 624.0 460.6C630.1 458.2 638.7 454.6 641.6 453.4"/>
</g>
</g>
<path d="M502.6 343.8C501.2 344.5 497.0 346.4 494.2 348.0C491.4 349.6 488.4 351.6 485.8 353.6C483.2 355.6 480.9 357.8 478.8 359.9C476.7 362.0 475.1 364.0 473.2 366.2C471.3 368.4 469.2 370.9 467.6 373.2C466.0 375.5 464.8 377.9 463.4 380.2C462.0 382.5 460.5 384.9 459.2 387.2C457.9 389.5 456.6 391.6 455.4 394.2C454.2 396.8 453.1 399.8 452.0 402.6C450.9 405.4 449.9 407.8 449.0 411.0C448.1 414.2 447.1 418.0 446.5 421.6C445.9 425.2 445.3 429.1 445.2 432.8C445.1 436.5 445.3 440.8 446.0 444.0C446.7 447.2 448.0 449.6 449.2 452.0C450.4 454.4 451.9 456.0 453.2 458.4C454.5 460.8 456.5 465.1 457.2 466.4" fill="none" stroke="#0505f0" stroke-width="6.4" stroke-linejoin="round"/>
<path d="M502.6 343.8C501.2 344.5 497.0 346.4 494.2 348.0C491.4 349.6 488.4 351.6 485.8 353.6C483.2 355.6 480.9 357.8 478.8 359.9C476.7 362.0 475.1 364.0 473.2 366.2C471.3 368.4 469.2 370.9 467.6 373.2C466.0 375.5 464.8 377.9 463.4 380.2C462.0 382.5 460.5 384.9 459.2 387.2C457.9 389.5 456.6 391.6 455.4 394.2C454.2 396.8 453.1 399.8 452.0 402.6C450.9 405.4 449.9 407.8 449.0 411.0C448.1 414.2 447.1 418.0 446.5 421.6C445.9 425.2 445.3 429.1 445.2 432.8C445.1 436.5 445.3 440.8 446.0 444.0C446.7 447.2 448.0 449.6 449.2 452.0C450.4 454.4 451.9 456.0 453.2 458.4C454.5 460.8 456.5 465.1 457.2 466.4" fill="none" stroke="#6a7cff" stroke-width="5.0" stroke-linejoin="round"/>
<path d="M502.6 343.8C501.2 344.5 497.0 346.4 494.2 348.0C491.4 349.6 488.4 351.6 485.8 353.6C483.2 355.6 480.9 357.8 478.8 359.9C476.7 362.0 475.1 364.0 473.2 366.2C471.3 368.4 469.2 370.9 467.6 373.2C466.0 375.5 464.8 377.9 463.4 380.2C462.0 382.5 460.5 384.9 459.2 387.2C457.9 389.5 456.6 391.6 455.4 394.2C454.2 396.8 453.1 399.8 452.0 402.6C450.9 405.4 449.9 407.8 449.0 411.0C448.1 414.2 447.1 418.0 446.5 421.6C445.9 425.2 445.3 429.1 445.2 432.8C445.1 436.5 445.3 440.8 446.0 444.0C446.7 447.2 448.0 449.6 449.2 452.0C450.4 454.4 451.9 456.0 453.2 458.4C454.5 460.8 456.5 465.1 457.2 466.4" fill="none" stroke="#0505f0" stroke-width="3.6" stroke-linejoin="round"/>
<path d="M502.6 343.8C501.2 344.5 497.0 346.4 494.2 348.0C491.4 349.6 488.4 351.6 485.8 353.6C483.2 355.6 480.9 357.8 478.8 359.9C476.7 362.0 475.1 364.0 473.2 366.2C471.3 368.4 469.2 370.9 467.6 373.2C466.0 375.5 464.8 377.9 463.4 380.2C462.0 382.5 460.5 384.9 459.2 387.2C457.9 389.5 456.6 391.6 455.4 394.2C454.2 396.8 453.1 399.8 452.0 402.6C450.9 405.4 449.9 407.8 449.0 411.0C448.1 414.2 447.1 418.0 446.5 421.6C445.9 425.2 445.3 429.1 445.2 432.8C445.1 436.5 445.3 440.8 446.0 444.0C446.7 447.2 448.0 449.6 449.2 452.0C450.4 454.4 451.9 456.0 453.2 458.4C454.5 460.8 456.5 465.1 457.2 466.4" fill="none" stroke="#6a7cff" stroke-width="2.2" stroke-linejoin="round"/>
<path d="M502.6 343.8C501.2 344.5 497.0 346.4 494.2 348.0C491.4 349.6 488.4 351.6 485.8 353.6C483.2 355.6 480.9 357.8 478.8 359.9C476.7 362.0 475.1 364.0 473.2 366.2C471.3 368.4 469.2 370.9 467.6 373.2C466.0 375.5 464.8 377.9 463.4 380.2C462.0 382.5 460.5 384.9 459.2 387.2C457.9 389.5 456.6 391.6 455.4 394.2C454.2 396.8 453.1 399.8 452.0 402.6C450.9 405.4 449.9 407.8 449.0 411.0C448.1 414.2 447.1 418.0 446.5 421.6C445.9 425.2 445.3 429.1 445.2 432.8C445.1 436.5 445.3 440.8 446.0 444.0C446.7 447.2 448.0 449.6 449.2 452.0C450.4 454.4 451.9 456.0 453.2 458.4C454.5 460.8 456.5 465.1 457.2 466.4" fill="none" stroke="#0505f0" stroke-width="0.9" stroke-linejoin="round"/>
<path d="M453.2 458.4C453.9 459.7 456.1 463.5 457.2 466.4C458.3 469.3 459.0 472.9 459.6 476.0C460.2 479.1 460.5 482.3 461.0 485.0C461.5 487.7 461.8 489.6 462.5 492.0C463.2 494.4 463.9 496.4 465.2 499.2C466.4 502.0 468.4 505.6 470.0 508.8C471.6 512.0 473.6 515.2 474.8 518.4C476.0 521.6 477.0 525.1 477.0 528.0C477.0 530.9 475.7 533.2 475.0 536.0C474.3 538.8 473.3 541.8 473.0 545.0C472.7 548.2 472.9 552.0 473.0 555.0C473.1 558.0 473.3 560.3 473.5 563.0C473.7 565.7 474.6 568.7 474.0 571.0C473.4 573.3 471.7 575.3 470.0 577.0C468.3 578.7 466.0 579.9 464.0 581.0C462.0 582.1 460.0 583.0 458.0 583.5C456.0 584.0 454.0 584.5 452.0 584.0C450.0 583.5 448.0 581.5 446.0 580.5C444.0 579.5 442.3 578.5 440.0 578.0C437.7 577.5 434.7 577.5 432.0 577.5C429.3 577.5 426.7 578.8 424.0 578.0C421.3 577.2 419.0 574.2 416.0 573.0C413.0 571.8 409.7 571.5 406.0 571.0C402.3 570.5 397.7 569.8 394.0 570.0C390.3 570.2 387.3 571.2 384.0 572.0C380.7 572.8 377.3 574.2 374.0 575.0C370.7 575.8 367.0 576.0 364.0 577.0C361.0 578.0 357.8 579.7 356.0 581.0C354.2 582.3 353.5 584.3 353.0 585.0" fill="none" stroke="#ffffff" stroke-width="8.0" stroke-linejoin="round"/>
<path d="M453.2 458.4C453.9 459.7 456.1 463.5 457.2 466.4C458.3 469.3 459.0 472.9 459.6 476.0C460.2 479.1 460.5 482.3 461.0 485.0C461.5 487.7 461.8 489.6 462.5 492.0C463.2 494.4 463.9 496.4 465.2 499.2C466.4 502.0 468.4 505.6 470.0 508.8C471.6 512.0 473.6 515.2 474.8 518.4C476.0 521.6 477.0 525.1 477.0 528.0C477.0 530.9 475.7 533.2 475.0 536.0C474.3 538.8 473.3 541.8 473.0 545.0C472.7 548.2 472.9 552.0 473.0 555.0C473.1 558.0 473.3 560.3 473.5 563.0C473.7 565.7 474.6 568.7 474.0 571.0C473.4 573.3 471.7 575.3 470.0 577.0C468.3 578.7 466.0 579.9 464.0 581.0C462.0 582.1 460.0 583.0 458.0 583.5C456.0 584.0 454.0 584.5 452.0 584.0C450.0 583.5 448.0 581.5 446.0 580.5C444.0 579.5 442.3 578.5 440.0 578.0C437.7 577.5 434.7 577.5 432.0 577.5C429.3 577.5 426.7 578.8 424.0 578.0C421.3 577.2 419.0 574.2 416.0 573.0C413.0 571.8 409.7 571.5 406.0 571.0C402.3 570.5 397.7 569.8 394.0 570.0C390.3 570.2 387.3 571.2 384.0 572.0C380.7 572.8 377.3 574.2 374.0 575.0C370.7 575.8 367.0 576.0 364.0 577.0C361.0 578.0 357.8 579.7 356.0 581.0C354.2 582.3 353.5 584.3 353.0 585.0" fill="none" stroke="#0505f0" stroke-width="6.9" stroke-linejoin="round"/>
<path d="M453.2 458.4C453.9 459.7 456.1 463.5 457.2 466.4C458.3 469.3 459.0 472.9 459.6 476.0C460.2 479.1 460.5 482.3 461.0 485.0C461.5 487.7 461.8 489.6 462.5 492.0C463.2 494.4 463.9 496.4 465.2 499.2C466.4 502.0 468.4 505.6 470.0 508.8C471.6 512.0 473.6 515.2 474.8 518.4C476.0 521.6 477.0 525.1 477.0 528.0C477.0 530.9 475.7 533.2 475.0 536.0C474.3 538.8 473.3 541.8 473.0 545.0C472.7 548.2 472.9 552.0 473.0 555.0C473.1 558.0 473.3 560.3 473.5 563.0C473.7 565.7 474.6 568.7 474.0 571.0C473.4 573.3 471.7 575.3 470.0 577.0C468.3 578.7 466.0 579.9 464.0 581.0C462.0 582.1 460.0 583.0 458.0 583.5C456.0 584.0 454.0 584.5 452.0 584.0C450.0 583.5 448.0 581.5 446.0 580.5C444.0 579.5 442.3 578.5 440.0 578.0C437.7 577.5 434.7 577.5 432.0 577.5C429.3 577.5 426.7 578.8 424.0 578.0C421.3 577.2 419.0 574.2 416.0 573.0C413.0 571.8 409.7 571.5 406.0 571.0C402.3 570.5 397.7 569.8 394.0 570.0C390.3 570.2 387.3 571.2 384.0 572.0C380.7 572.8 377.3 574.2 374.0 575.0C370.7 575.8 367.0 576.0 364.0 577.0C361.0 578.0 357.8 579.7 356.0 581.0C354.2 582.3 353.5 584.3 353.0 585.0" fill="none" stroke="#ffffff" stroke-width="5.3" stroke-linejoin="round"/>
<path d="M453.2 458.4C453.9 459.7 456.1 463.5 457.2 466.4C458.3 469.3 459.0 472.9 459.6 476.0C460.2 479.1 460.5 482.3 461.0 485.0C461.5 487.7 461.8 489.6 462.5 492.0C463.2 494.4 463.9 496.4 465.2 499.2C466.4 502.0 468.4 505.6 470.0 508.8C471.6 512.0 473.6 515.2 474.8 518.4C476.0 521.6 477.0 525.1 477.0 528.0C477.0 530.9 475.7 533.2 475.0 536.0C474.3 538.8 473.3 541.8 473.0 545.0C472.7 548.2 472.9 552.0 473.0 555.0C473.1 558.0 473.3 560.3 473.5 563.0C473.7 565.7 474.6 568.7 474.0 571.0C473.4 573.3 471.7 575.3 470.0 577.0C468.3 578.7 466.0 579.9 464.0 581.0C462.0 582.1 460.0 583.0 458.0 583.5C456.0 584.0 454.0 584.5 452.0 584.0C450.0 583.5 448.0 581.5 446.0 580.5C444.0 579.5 442.3 578.5 440.0 578.0C437.7 577.5 434.7 577.5 432.0 577.5C429.3 577.5 426.7 578.8 424.0 578.0C421.3 577.2 419.0 574.2 416.0 573.0C413.0 571.8 409.7 571.5 406.0 571.0C402.3 570.5 397.7 569.8 394.0 570.0C390.3 570.2 387.3 571.2 384.0 572.0C380.7 572.8 377.3 574.2 374.0 575.0C370.7 575.8 367.0 576.0 364.0 577.0C361.0 578.0 357.8 579.7 356.0 581.0C354.2 582.3 353.5 584.3 353.0 585.0" fill="none" stroke="#0505f0" stroke-width="4.2" stroke-linejoin="round"/>
<path d="M453.2 458.4C453.9 459.7 456.1 463.5 457.2 466.4C458.3 469.3 459.0 472.9 459.6 476.0C460.2 479.1 460.5 482.3 461.0 485.0C461.5 487.7 461.8 489.6 462.5 492.0C463.2 494.4 463.9 496.4 465.2 499.2C466.4 502.0 468.4 505.6 470.0 508.8C471.6 512.0 473.6 515.2 474.8 518.4C476.0 521.6 477.0 525.1 477.0 528.0C477.0 530.9 475.7 533.2 475.0 536.0C474.3 538.8 473.3 541.8 473.0 545.0C472.7 548.2 472.9 552.0 473.0 555.0C473.1 558.0 473.3 560.3 473.5 563.0C473.7 565.7 474.6 568.7 474.0 571.0C473.4 573.3 471.7 575.3 470.0 577.0C468.3 578.7 466.0 579.9 464.0 581.0C462.0 582.1 460.0 583.0 458.0 583.5C456.0 584.0 454.0 584.5 452.0 584.0C450.0 583.5 448.0 581.5 446.0 580.5C444.0 579.5 442.3 578.5 440.0 578.0C437.7 577.5 434.7 577.5 432.0 577.5C429.3 577.5 426.7 578.8 424.0 578.0C421.3 577.2 419.0 574.2 416.0 573.0C413.0 571.8 409.7 571.5 406.0 571.0C402.3 570.5 397.7 569.8 394.0 570.0C390.3 570.2 387.3 571.2 384.0 572.0C380.7 572.8 377.3 574.2 374.0 575.0C370.7 575.8 367.0 576.0 364.0 577.0C361.0 578.0 357.8 579.7 356.0 581.0C354.2 582.3 353.5 584.3 353.0 585.0" fill="none" stroke="#ffffff" stroke-width="2.6" stroke-linejoin="round"/>
<path d="M453.2 458.4C453.9 459.7 456.1 463.5 457.2 466.4C458.3 469.3 459.0 472.9 459.6 476.0C460.2 479.1 460.5 482.3 461.0 485.0C461.5 487.7 461.8 489.6 462.5 492.0C463.2 494.4 463.9 496.4 465.2 499.2C466.4 502.0 468.4 505.6 470.0 508.8C471.6 512.0 473.6 515.2 474.8 518.4C476.0 521.6 477.0 525.1 477.0 528.0C477.0 530.9 475.7 533.2 475.0 536.0C474.3 538.8 473.3 541.8 473.0 545.0C472.7 548.2 472.9 552.0 473.0 555.0C473.1 558.0 473.3 560.3 473.5 563.0C473.7 565.7 474.6 568.7 474.0 571.0C473.4 573.3 471.7 575.3 470.0 577.0C468.3 578.7 466.0 579.9 464.0 581.0C462.0 582.1 460.0 583.0 458.0 583.5C456.0 584.0 454.0 584.5 452.0 584.0C450.0 583.5 448.0 581.5 446.0 580.5C444.0 579.5 442.3 578.5 440.0 578.0C437.7 577.5 434.7 577.5 432.0 577.5C429.3 577.5 426.7 578.8 424.0 578.0C421.3 577.2 419.0 574.2 416.0 573.0C413.0 571.8 409.7 571.5 406.0 571.0C402.3 570.5 397.7 569.8 394.0 570.0C390.3 570.2 387.3 571.2 384.0 572.0C380.7 572.8 377.3 574.2 374.0 575.0C370.7 575.8 367.0 576.0 364.0 577.0C361.0 578.0 357.8 579.7 356.0 581.0C354.2 582.3 353.5 584.3 353.0 585.0" fill="none" stroke="#0505f0" stroke-width="1.4" stroke-linejoin="round"/>
<g fill="none" stroke="#6e5032" stroke-width="1.6" stroke-dasharray="1.6 4.2" stroke-linecap="butt">
<path d="M385.6 808.1C382.6 806.7 373.6 802.5 367.5 799.6C361.5 796.8 355.4 794.0 349.4 791.2C343.3 788.4 337.3 785.5 331.3 782.7C325.2 779.9 319.2 777.1 313.1 774.3C307.1 771.5 301.1 768.6 295.0 765.8C289.0 763.0 282.9 760.2 276.9 757.4C270.8 754.6 264.8 751.7 258.8 748.9C252.7 746.1 246.7 743.3 240.6 740.5C234.6 737.6 228.5 734.8 222.5 732.0C216.5 729.2 210.4 726.4 204.4 723.6C198.3 720.7 192.3 717.9 186.3 715.1C180.2 712.3 174.2 709.5 168.1 706.7C162.1 703.8 156.0 701.0 150.0 698.2C144.0 695.4 137.9 692.6 131.9 689.8C125.8 686.9 119.8 684.1 113.8 681.3C107.7 678.5 101.7 675.7 95.6 672.8C89.6 670.0 83.5 667.2 77.5 664.4C71.5 661.6 65.4 658.8 59.4 655.9C53.3 653.1 47.3 650.3 41.2 647.5C35.2 644.7 29.2 641.9 23.1 639.0C17.1 636.2 11.0 633.4 5.0 630.6C-1.0 627.8 -7.1 625.0 -13.1 622.1C-19.2 619.3 -25.2 616.5 -31.3 613.7C-37.3 610.9 -43.3 608.0 -49.4 605.2C-55.4 602.4 -61.5 599.6 -67.5 596.8C-73.6 594.0 -79.6 591.1 -85.6 588.3C-91.7 585.5 -97.7 582.7 -103.8 579.9C-109.8 577.1 -115.8 574.2 -121.9 571.4C-127.9 568.6 -134.0 565.8 -140.0 563.0C-146.1 560.1 -152.1 557.3 -158.1 554.5C-164.2 551.7 -170.2 548.9 -176.3 546.1C-182.3 543.2 -188.4 540.4 -194.4 537.6C-200.4 534.8 -206.5 532.0 -212.5 529.2C-218.6 526.3 -224.6 523.5 -230.6 520.7C-236.7 517.9 -242.7 515.1 -248.8 512.3C-254.8 509.4 -260.9 506.6 -266.9 503.8C-272.9 501.0 -279.0 498.2 -285.0 495.3C-291.1 492.5 -300.1 488.3 -303.2 486.9"/>
<path d="M390.5 798.8C387.6 797.1 378.9 792.1 373.2 788.8C367.4 785.5 361.6 782.1 355.8 778.8C350.1 775.5 344.3 772.1 338.5 768.8C332.7 765.5 327.0 762.1 321.2 758.8C315.4 755.5 309.6 752.1 303.9 748.8C298.1 745.5 292.3 742.1 286.6 738.8C280.8 735.5 275.0 732.1 269.2 728.8C263.5 725.5 257.7 722.1 251.9 718.8C246.1 715.5 240.4 712.1 234.6 708.8C228.8 705.5 223.0 702.1 217.3 698.8C211.5 695.5 205.7 692.1 200.0 688.8C194.2 685.5 188.4 682.1 182.6 678.8C176.9 675.5 171.1 672.1 165.3 668.8C159.5 665.5 153.8 662.1 148.0 658.8C142.2 655.5 136.4 652.1 130.7 648.8C124.9 645.5 119.1 642.1 113.3 638.8C107.6 635.5 101.8 632.1 96.0 628.8C90.3 625.5 84.5 622.1 78.7 618.8C72.9 615.5 67.2 612.1 61.4 608.8C55.6 605.5 49.8 602.1 44.1 598.8C38.3 595.5 32.5 592.1 26.7 588.8C21.0 585.5 15.2 582.1 9.4 578.8C3.7 575.5 -2.1 572.1 -7.9 568.8C-13.7 565.5 -19.4 562.1 -25.2 558.8C-31.0 555.5 -36.8 552.1 -42.5 548.8C-48.3 545.5 -54.1 542.1 -59.9 538.8C-65.6 535.5 -71.4 532.1 -77.2 528.8C-83.0 525.5 -88.7 522.1 -94.5 518.8C-100.3 515.5 -106.0 512.1 -111.8 508.8C-117.6 505.5 -123.4 502.1 -129.1 498.8C-134.9 495.5 -140.7 492.1 -146.5 488.8C-152.2 485.5 -158.0 482.1 -163.8 478.8C-169.6 475.5 -175.3 472.1 -181.1 468.8C-186.9 465.5 -192.6 462.1 -198.4 458.8C-204.2 455.5 -210.0 452.1 -215.7 448.8C-221.5 445.5 -227.3 442.1 -233.1 438.8C-238.8 435.5 -244.6 432.1 -250.4 428.8C-256.2 425.5 -264.8 420.5 -267.7 418.8"/>
<path d="M396.1 790.0C393.4 788.1 385.2 782.3 379.7 778.5C374.3 774.7 368.8 770.9 363.3 767.0C357.9 763.2 352.4 759.4 347.0 755.6C341.5 751.7 336.0 747.9 330.6 744.1C325.1 740.3 319.6 736.4 314.2 732.6C308.7 728.8 303.3 725.0 297.8 721.1C292.3 717.3 286.9 713.5 281.4 709.7C276.0 705.8 270.5 702.0 265.0 698.2C259.6 694.4 254.1 690.6 248.7 686.7C243.2 682.9 237.7 679.1 232.3 675.3C226.8 671.4 221.3 667.6 215.9 663.8C210.4 660.0 205.0 656.1 199.5 652.3C194.0 648.5 188.6 644.7 183.1 640.8C177.7 637.0 172.2 633.2 166.7 629.4C161.3 625.5 155.8 621.7 150.4 617.9C144.9 614.1 139.4 610.3 134.0 606.4C128.5 602.6 123.1 598.8 117.6 595.0C112.1 591.1 106.7 587.3 101.2 583.5C95.7 579.7 90.3 575.8 84.8 572.0C79.4 568.2 73.9 564.4 68.4 560.5C63.0 556.7 57.5 552.9 52.1 549.1C46.6 545.2 41.1 541.4 35.7 537.6C30.2 533.8 24.8 529.9 19.3 526.1C13.8 522.3 8.4 518.5 2.9 514.7C-2.6 510.8 -8.0 507.0 -13.5 503.2C-18.9 499.4 -24.4 495.5 -29.9 491.7C-35.3 487.9 -40.8 484.1 -46.2 480.2C-51.7 476.4 -57.2 472.6 -62.6 468.8C-68.1 464.9 -73.5 461.1 -79.0 457.3C-84.5 453.5 -89.9 449.6 -95.4 445.8C-100.9 442.0 -106.3 438.2 -111.8 434.4C-117.2 430.5 -122.7 426.7 -128.2 422.9C-133.6 419.1 -139.1 415.2 -144.5 411.4C-150.0 407.6 -155.5 403.8 -160.9 399.9C-166.4 396.1 -171.8 392.3 -177.3 388.5C-182.8 384.6 -188.2 380.8 -193.7 377.0C-199.1 373.2 -204.6 369.3 -210.1 365.5C-215.5 361.7 -223.7 356.0 -226.5 354.1"/>
<path d="M402.5 781.7C399.9 779.5 392.3 773.1 387.2 768.8C382.0 764.5 376.9 760.2 371.8 756.0C366.7 751.7 361.6 747.4 356.5 743.1C351.4 738.8 346.3 734.5 341.2 730.2C336.1 726.0 331.0 721.7 325.9 717.4C320.8 713.1 315.7 708.8 310.5 704.5C305.4 700.2 300.3 696.0 295.2 691.7C290.1 687.4 285.0 683.1 279.9 678.8C274.8 674.5 269.7 670.2 264.6 666.0C259.5 661.7 254.4 657.4 249.3 653.1C244.2 648.8 239.1 644.5 233.9 640.3C228.8 636.0 223.7 631.7 218.6 627.4C213.5 623.1 208.4 618.8 203.3 614.5C198.2 610.3 193.1 606.0 188.0 601.7C182.9 597.4 177.8 593.1 172.7 588.8C167.6 584.5 162.4 580.3 157.3 576.0C152.2 571.7 147.1 567.4 142.0 563.1C136.9 558.8 131.8 554.5 126.7 550.3C121.6 546.0 116.5 541.7 111.4 537.4C106.3 533.1 101.2 528.8 96.1 524.6C90.9 520.3 85.8 516.0 80.7 511.7C75.6 507.4 70.5 503.1 65.4 498.8C60.3 494.6 55.2 490.3 50.1 486.0C45.0 481.7 39.9 477.4 34.8 473.1C29.7 468.8 24.6 464.6 19.5 460.3C14.3 456.0 9.2 451.7 4.1 447.4C-1.0 443.1 -6.1 438.8 -11.2 434.6C-16.3 430.3 -21.4 426.0 -26.5 421.7C-31.6 417.4 -36.7 413.1 -41.8 408.8C-46.9 404.6 -52.0 400.3 -57.2 396.0C-62.3 391.7 -67.4 387.4 -72.5 383.1C-77.6 378.9 -82.7 374.6 -87.8 370.3C-92.9 366.0 -98.0 361.7 -103.1 357.4C-108.2 353.1 -113.3 348.9 -118.4 344.6C-123.5 340.3 -128.6 336.0 -133.8 331.7C-138.9 327.4 -144.0 323.1 -149.1 318.9C-154.2 314.6 -159.3 310.3 -164.4 306.0C-169.5 301.7 -177.2 295.3 -179.7 293.1"/>
<path d="M409.5 773.9C407.2 771.6 400.1 764.5 395.4 759.8C390.7 755.1 386.0 750.4 381.3 745.7C376.5 740.9 371.8 736.2 367.1 731.5C362.4 726.8 357.7 722.1 353.0 717.4C348.3 712.7 343.6 708.0 338.8 703.2C334.1 698.5 329.4 693.8 324.7 689.1C320.0 684.4 315.3 679.7 310.6 675.0C305.8 670.2 301.1 665.5 296.4 660.8C291.7 656.1 287.0 651.4 282.3 646.7C277.6 642.0 272.8 637.2 268.1 632.5C263.4 627.8 258.7 623.1 254.0 618.4C249.3 613.7 244.6 609.0 239.8 604.2C235.1 599.5 230.4 594.8 225.7 590.1C221.0 585.4 216.3 580.7 211.6 576.0C206.8 571.2 202.1 566.5 197.4 561.8C192.7 557.1 188.0 552.4 183.3 547.7C178.6 543.0 173.8 538.2 169.1 533.5C164.4 528.8 159.7 524.1 155.0 519.4C150.3 514.7 145.6 510.0 140.8 505.2C136.1 500.5 131.4 495.8 126.7 491.1C122.0 486.4 117.3 481.7 112.6 477.0C107.8 472.2 103.1 467.5 98.4 462.8C93.7 458.1 89.0 453.4 84.3 448.7C79.6 444.0 74.8 439.2 70.1 434.5C65.4 429.8 60.7 425.1 56.0 420.4C51.3 415.7 46.6 411.0 41.9 406.3C37.1 401.5 32.4 396.8 27.7 392.1C23.0 387.4 18.3 382.7 13.6 378.0C8.9 373.3 4.1 368.5 -0.6 363.8C-5.3 359.1 -10.0 354.4 -14.7 349.7C-19.4 345.0 -24.1 340.3 -28.9 335.5C-33.6 330.8 -38.3 326.1 -43.0 321.4C-47.7 316.7 -52.4 312.0 -57.1 307.3C-61.9 302.5 -66.6 297.8 -71.3 293.1C-76.0 288.4 -80.7 283.7 -85.4 279.0C-90.1 274.3 -94.9 269.5 -99.6 264.8C-104.3 260.1 -109.0 255.4 -113.7 250.7C-118.4 246.0 -125.5 238.9 -127.9 236.5"/>
<path d="M417.3 766.9C415.1 764.3 408.7 756.7 404.4 751.6C400.1 746.4 395.8 741.3 391.6 736.2C387.3 731.1 383.0 726.0 378.7 720.9C374.4 715.8 370.1 710.7 365.8 705.6C361.6 700.5 357.3 695.4 353.0 690.3C348.7 685.2 344.4 680.1 340.1 674.9C335.8 669.8 331.6 664.7 327.3 659.6C323.0 654.5 318.7 649.4 314.4 644.3C310.1 639.2 305.8 634.1 301.6 629.0C297.3 623.9 293.0 618.8 288.7 613.7C284.4 608.6 280.1 603.5 275.9 598.3C271.6 593.2 267.3 588.1 263.0 583.0C258.7 577.9 254.4 572.8 250.1 567.7C245.9 562.6 241.6 557.5 237.3 552.4C233.0 547.3 228.7 542.2 224.4 537.1C220.1 532.0 215.9 526.8 211.6 521.7C207.3 516.6 203.0 511.5 198.7 506.4C194.4 501.3 190.1 496.2 185.9 491.1C181.6 486.0 177.3 480.9 173.0 475.8C168.7 470.7 164.4 465.6 160.2 460.5C155.9 455.3 151.6 450.2 147.3 445.1C143.0 440.0 138.7 434.9 134.4 429.8C130.2 424.7 125.9 419.6 121.6 414.5C117.3 409.4 113.0 404.3 108.7 399.2C104.4 394.1 100.2 389.0 95.9 383.9C91.6 378.7 87.3 373.6 83.0 368.5C78.7 363.4 74.4 358.3 70.2 353.2C65.9 348.1 61.6 343.0 57.3 337.9C53.0 332.8 48.7 327.7 44.4 322.6C40.2 317.5 35.9 312.4 31.6 307.2C27.3 302.1 23.0 297.0 18.7 291.9C14.5 286.8 10.2 281.7 5.9 276.6C1.6 271.5 -2.7 266.4 -7.0 261.3C-11.3 256.2 -15.5 251.1 -19.8 246.0C-24.1 240.9 -28.4 235.8 -32.7 230.6C-37.0 225.5 -41.3 220.4 -45.5 215.3C-49.8 210.2 -54.1 205.1 -58.4 200.0C-62.7 194.9 -69.1 187.2 -71.3 184.7"/>
<path d="M425.6 760.5C423.7 757.8 417.9 749.6 414.1 744.1C410.3 738.7 406.5 733.2 402.6 727.7C398.8 722.3 395.0 716.8 391.2 711.4C387.3 705.9 383.5 700.4 379.7 695.0C375.9 689.5 372.0 684.0 368.2 678.6C364.4 673.1 360.6 667.7 356.7 662.2C352.9 656.7 349.1 651.3 345.3 645.8C341.4 640.4 337.6 634.9 333.8 629.4C330.0 624.0 326.2 618.5 322.3 613.1C318.5 607.6 314.7 602.1 310.9 596.7C307.0 591.2 303.2 585.7 299.4 580.3C295.6 574.8 291.7 569.4 287.9 563.9C284.1 558.4 280.3 553.0 276.4 547.5C272.6 542.1 268.8 536.6 265.0 531.1C261.1 525.7 257.3 520.2 253.5 514.8C249.7 509.3 245.9 503.8 242.0 498.4C238.2 492.9 234.4 487.5 230.6 482.0C226.7 476.5 222.9 471.1 219.1 465.6C215.3 460.1 211.4 454.7 207.6 449.2C203.8 443.8 200.0 438.3 196.1 432.8C192.3 427.4 188.5 421.9 184.7 416.5C180.8 411.0 177.0 405.5 173.2 400.1C169.4 394.6 165.5 389.2 161.7 383.7C157.9 378.2 154.1 372.8 150.3 367.3C146.4 361.8 142.6 356.4 138.8 350.9C135.0 345.5 131.1 340.0 127.3 334.5C123.5 329.1 119.7 323.6 115.8 318.2C112.0 312.7 108.2 307.2 104.4 301.8C100.5 296.3 96.7 290.9 92.9 285.4C89.1 279.9 85.2 274.5 81.4 269.0C77.6 263.5 73.8 258.1 70.0 252.6C66.1 247.2 62.3 241.7 58.5 236.2C54.7 230.8 50.8 225.3 47.0 219.9C43.2 214.4 39.4 208.9 35.5 203.5C31.7 198.0 27.9 192.6 24.1 187.1C20.2 181.6 16.4 176.2 12.6 170.7C8.8 165.3 4.9 159.8 1.1 154.3C-2.7 148.9 -8.4 140.7 -10.3 137.9"/>
<path d="M434.4 754.9C432.7 752.0 427.7 743.3 424.4 737.6C421.1 731.8 417.7 726.0 414.4 720.2C411.1 714.5 407.7 708.7 404.4 702.9C401.1 697.1 397.7 691.4 394.4 685.6C391.1 679.8 387.7 674.0 384.4 668.3C381.1 662.5 377.7 656.7 374.4 651.0C371.1 645.2 367.7 639.4 364.4 633.6C361.1 627.9 357.7 622.1 354.4 616.3C351.1 610.5 347.7 604.8 344.4 599.0C341.1 593.2 337.7 587.4 334.4 581.7C331.1 575.9 327.7 570.1 324.4 564.4C321.1 558.6 317.7 552.8 314.4 547.0C311.1 541.3 307.7 535.5 304.4 529.7C301.1 523.9 297.7 518.2 294.4 512.4C291.1 506.6 287.7 500.8 284.4 495.1C281.1 489.3 277.7 483.5 274.4 477.7C271.1 472.0 267.7 466.2 264.4 460.4C261.1 454.7 257.7 448.9 254.4 443.1C251.1 437.3 247.7 431.6 244.4 425.8C241.1 420.0 237.7 414.2 234.4 408.5C231.1 402.7 227.7 396.9 224.4 391.1C221.1 385.4 217.7 379.6 214.4 373.8C211.1 368.1 207.7 362.3 204.4 356.5C201.1 350.7 197.7 345.0 194.4 339.2C191.1 333.4 187.7 327.6 184.4 321.9C181.1 316.1 177.7 310.3 174.4 304.5C171.1 298.8 167.7 293.0 164.4 287.2C161.1 281.4 157.7 275.7 154.4 269.9C151.1 264.1 147.7 258.4 144.4 252.6C141.1 246.8 137.7 241.0 134.4 235.3C131.1 229.5 127.7 223.7 124.4 217.9C121.1 212.2 117.7 206.4 114.4 200.6C111.1 194.8 107.7 189.1 104.4 183.3C101.1 177.5 97.7 171.8 94.4 166.0C91.1 160.2 87.7 154.4 84.4 148.7C81.1 142.9 77.7 137.1 74.4 131.3C71.1 125.6 67.7 119.8 64.4 114.0C61.1 108.2 56.1 99.6 54.4 96.7"/>
<path d="M443.7 750.0C442.3 747.0 438.1 738.0 435.2 731.9C432.4 725.9 429.6 719.8 426.8 713.8C424.0 707.7 421.1 701.7 418.3 695.7C415.5 689.6 412.7 683.6 409.9 677.5C407.1 671.5 404.2 665.5 401.4 659.4C398.6 653.4 395.8 647.3 393.0 641.3C390.2 635.2 387.3 629.2 384.5 623.2C381.7 617.1 378.9 611.1 376.1 605.0C373.2 599.0 370.4 592.9 367.6 586.9C364.8 580.9 362.0 574.8 359.2 568.8C356.3 562.7 353.5 556.7 350.7 550.7C347.9 544.6 345.1 538.6 342.3 532.5C339.4 526.5 336.6 520.4 333.8 514.4C331.0 508.4 328.2 502.3 325.4 496.3C322.5 490.2 319.7 484.2 316.9 478.2C314.1 472.1 311.3 466.1 308.4 460.0C305.6 454.0 302.8 447.9 300.0 441.9C297.2 435.9 294.4 429.8 291.5 423.8C288.7 417.7 285.9 411.7 283.1 405.6C280.3 399.6 277.5 393.6 274.6 387.5C271.8 381.5 269.0 375.4 266.2 369.4C263.4 363.4 260.6 357.3 257.7 351.3C254.9 345.2 252.1 339.2 249.3 333.1C246.5 327.1 243.6 321.1 240.8 315.0C238.0 309.0 235.2 302.9 232.4 296.9C229.6 290.8 226.7 284.8 223.9 278.8C221.1 272.7 218.3 266.7 215.5 260.6C212.7 254.6 209.8 248.6 207.0 242.5C204.2 236.5 201.4 230.4 198.6 224.4C195.7 218.3 192.9 212.3 190.1 206.3C187.3 200.2 184.5 194.2 181.7 188.1C178.8 182.1 176.0 176.0 173.2 170.0C170.4 164.0 167.6 157.9 164.8 151.9C161.9 145.8 159.1 139.8 156.3 133.8C153.5 127.7 150.7 121.7 147.9 115.6C145.0 109.6 142.2 103.5 139.4 97.5C136.6 91.5 133.8 85.4 130.9 79.4C128.1 73.3 123.9 64.3 122.5 61.2"/>
<path d="M453.4 746.0C452.2 742.9 448.8 733.5 446.5 727.2C444.2 721.0 442.0 714.7 439.7 708.4C437.4 702.2 435.1 695.9 432.8 689.7C430.6 683.4 428.3 677.1 426.0 670.9C423.7 664.6 421.4 658.3 419.2 652.1C416.9 645.8 414.6 639.5 412.3 633.3C410.0 627.0 407.8 620.7 405.5 614.5C403.2 608.2 400.9 602.0 398.6 595.7C396.4 589.4 394.1 583.2 391.8 576.9C389.5 570.6 387.2 564.4 385.0 558.1C382.7 551.8 380.4 545.6 378.1 539.3C375.8 533.0 373.6 526.8 371.3 520.5C369.0 514.2 366.7 508.0 364.4 501.7C362.2 495.5 359.9 489.2 357.6 482.9C355.3 476.7 353.0 470.4 350.8 464.1C348.5 457.9 346.2 451.6 343.9 445.3C341.6 439.1 339.4 432.8 337.1 426.5C334.8 420.3 332.5 414.0 330.2 407.7C328.0 401.5 325.7 395.2 323.4 389.0C321.1 382.7 318.8 376.4 316.5 370.2C314.3 363.9 312.0 357.6 309.7 351.4C307.4 345.1 305.1 338.8 302.9 332.6C300.6 326.3 298.3 320.0 296.0 313.8C293.7 307.5 291.5 301.2 289.2 295.0C286.9 288.7 284.6 282.5 282.3 276.2C280.1 269.9 277.8 263.7 275.5 257.4C273.2 251.1 270.9 244.9 268.7 238.6C266.4 232.3 264.1 226.1 261.8 219.8C259.5 213.5 257.3 207.3 255.0 201.0C252.7 194.8 250.4 188.5 248.1 182.2C245.9 176.0 243.6 169.7 241.3 163.4C239.0 157.2 236.7 150.9 234.5 144.6C232.2 138.4 229.9 132.1 227.6 125.8C225.3 119.6 223.1 113.3 220.8 107.0C218.5 100.8 216.2 94.5 213.9 88.3C211.7 82.0 209.4 75.7 207.1 69.5C204.8 63.2 202.5 56.9 200.3 50.7C198.0 44.4 194.6 35.0 193.4 31.9"/>
<path d="M463.3 742.9C462.5 739.7 459.9 730.0 458.2 723.6C456.4 717.1 454.7 710.7 453.0 704.3C451.3 697.8 449.5 691.4 447.8 684.9C446.1 678.5 444.4 672.1 442.6 665.6C440.9 659.2 439.2 652.7 437.5 646.3C435.7 639.9 434.0 633.4 432.3 627.0C430.6 620.5 428.8 614.1 427.1 607.7C425.4 601.2 423.7 594.8 421.9 588.3C420.2 581.9 418.5 575.5 416.8 569.0C415.0 562.6 413.3 556.1 411.6 549.7C409.9 543.3 408.1 536.8 406.4 530.4C404.7 523.9 403.0 517.5 401.2 511.1C399.5 504.6 397.8 498.2 396.0 491.7C394.3 485.3 392.6 478.9 390.9 472.4C389.1 466.0 387.4 459.6 385.7 453.1C384.0 446.7 382.2 440.2 380.5 433.8C378.8 427.4 377.1 420.9 375.3 414.5C373.6 408.0 371.9 401.6 370.2 395.2C368.4 388.7 366.7 382.3 365.0 375.8C363.3 369.4 361.5 363.0 359.8 356.5C358.1 350.1 356.4 343.6 354.6 337.2C352.9 330.8 351.2 324.3 349.5 317.9C347.7 311.4 346.0 305.0 344.3 298.6C342.6 292.1 340.8 285.7 339.1 279.2C337.4 272.8 335.7 266.4 333.9 259.9C332.2 253.5 330.5 247.0 328.8 240.6C327.0 234.2 325.3 227.7 323.6 221.3C321.9 214.8 320.1 208.4 318.4 202.0C316.7 195.5 315.0 189.1 313.2 182.7C311.5 176.2 309.8 169.8 308.1 163.3C306.3 156.9 304.6 150.5 302.9 144.0C301.1 137.6 299.4 131.1 297.7 124.7C296.0 118.3 294.2 111.8 292.5 105.4C290.8 98.9 289.1 92.5 287.3 86.1C285.6 79.6 283.9 73.2 282.2 66.7C280.4 60.3 278.7 53.9 277.0 47.4C275.3 41.0 273.5 34.5 271.8 28.1C270.1 21.7 267.5 12.0 266.6 8.8"/>
<path d="M473.6 740.6C473.0 737.3 471.2 727.5 470.1 720.9C468.9 714.4 467.8 707.8 466.6 701.2C465.5 694.7 464.3 688.1 463.1 681.5C462.0 675.0 460.8 668.4 459.7 661.8C458.5 655.3 457.4 648.7 456.2 642.1C455.0 635.6 453.9 629.0 452.7 622.4C451.6 615.9 450.4 609.3 449.3 602.7C448.1 596.2 446.9 589.6 445.8 583.1C444.6 576.5 443.5 569.9 442.3 563.4C441.1 556.8 440.0 550.2 438.8 543.7C437.7 537.1 436.5 530.5 435.4 524.0C434.2 517.4 433.0 510.8 431.9 504.3C430.7 497.7 429.6 491.1 428.4 484.6C427.3 478.0 426.1 471.4 424.9 464.9C423.8 458.3 422.6 451.7 421.5 445.2C420.3 438.6 419.2 432.0 418.0 425.5C416.8 418.9 415.7 412.4 414.5 405.8C413.4 399.2 412.2 392.7 411.0 386.1C409.9 379.5 408.7 373.0 407.6 366.4C406.4 359.8 405.3 353.3 404.1 346.7C402.9 340.1 401.8 333.6 400.6 327.0C399.5 320.4 398.3 313.9 397.2 307.3C396.0 300.7 394.8 294.2 393.7 287.6C392.5 281.0 391.4 274.5 390.2 267.9C389.1 261.3 387.9 254.8 386.7 248.2C385.6 241.7 384.4 235.1 383.3 228.5C382.1 222.0 380.9 215.4 379.8 208.8C378.6 202.3 377.5 195.7 376.3 189.1C375.2 182.6 374.0 176.0 372.8 169.4C371.7 162.9 370.5 156.3 369.4 149.7C368.2 143.2 367.1 136.6 365.9 130.0C364.7 123.5 363.6 116.9 362.4 110.3C361.3 103.8 360.1 97.2 359.0 90.6C357.8 84.1 356.6 77.5 355.5 71.0C354.3 64.4 353.2 57.8 352.0 51.3C350.9 44.7 349.7 38.1 348.5 31.6C347.4 25.0 346.2 18.4 345.1 11.9C343.9 5.3 342.2 -4.5 341.6 -7.8"/>
<path d="M483.9 739.3C483.7 735.9 482.8 726.0 482.2 719.3C481.6 712.7 481.0 706.1 480.5 699.4C479.9 692.8 479.3 686.1 478.7 679.5C478.1 672.8 477.5 666.2 477.0 659.6C476.4 652.9 475.8 646.3 475.2 639.6C474.6 633.0 474.1 626.4 473.5 619.7C472.9 613.1 472.3 606.4 471.7 599.8C471.2 593.1 470.6 586.5 470.0 579.9C469.4 573.2 468.8 566.6 468.3 559.9C467.7 553.3 467.1 546.7 466.5 540.0C465.9 533.4 465.3 526.7 464.8 520.1C464.2 513.5 463.6 506.8 463.0 500.2C462.4 493.5 461.9 486.9 461.3 480.2C460.7 473.6 460.1 467.0 459.5 460.3C459.0 453.7 458.4 447.0 457.8 440.4C457.2 433.8 456.6 427.1 456.1 420.5C455.5 413.8 454.9 407.2 454.3 400.6C453.7 393.9 453.1 387.3 452.6 380.6C452.0 374.0 451.4 367.3 450.8 360.7C450.2 354.1 449.7 347.4 449.1 340.8C448.5 334.1 447.9 327.5 447.3 320.9C446.8 314.2 446.2 307.6 445.6 300.9C445.0 294.3 444.4 287.6 443.8 281.0C443.3 274.4 442.7 267.7 442.1 261.1C441.5 254.4 440.9 247.8 440.4 241.2C439.8 234.5 439.2 227.9 438.6 221.2C438.0 214.6 437.5 208.0 436.9 201.3C436.3 194.7 435.7 188.0 435.1 181.4C434.6 174.7 434.0 168.1 433.4 161.5C432.8 154.8 432.2 148.2 431.6 141.5C431.1 134.9 430.5 128.3 429.9 121.6C429.3 115.0 428.7 108.3 428.2 101.7C427.6 95.1 427.0 88.4 426.4 81.8C425.8 75.1 425.3 68.5 424.7 61.8C424.1 55.2 423.5 48.6 422.9 41.9C422.4 35.3 421.8 28.6 421.2 22.0C420.6 15.4 420.0 8.7 419.4 2.1C418.9 -4.6 418.0 -14.5 417.7 -17.9"/>
<path d="M494.4 738.8C494.4 735.5 494.4 725.5 494.4 718.8C494.4 712.1 494.4 705.5 494.4 698.8C494.4 692.1 494.4 685.5 494.4 678.8C494.4 672.1 494.4 665.5 494.4 658.8C494.4 652.1 494.4 645.5 494.4 638.8C494.4 632.1 494.4 625.5 494.4 618.8C494.4 612.1 494.4 605.5 494.4 598.8C494.4 592.1 494.4 585.5 494.4 578.8C494.4 572.1 494.4 565.5 494.4 558.8C494.4 552.1 494.4 545.5 494.4 538.8C494.4 532.1 494.4 525.5 494.4 518.8C494.4 512.1 494.4 505.5 494.4 498.8C494.4 492.1 494.4 485.5 494.4 478.8C494.4 472.1 494.4 465.5 494.4 458.8C494.4 452.1 494.4 445.5 494.4 438.8C494.4 432.1 494.4 425.5 494.4 418.8C494.4 412.1 494.4 405.5 494.4 398.8C494.4 392.1 494.4 385.5 494.4 378.8C494.4 372.1 494.4 365.5 494.4 358.8C494.4 352.1 494.4 345.5 494.4 338.8C494.4 332.1 494.4 325.5 494.4 318.8C494.4 312.1 494.4 305.5 494.4 298.8C494.4 292.1 494.4 285.5 494.4 278.8C494.4 272.1 494.4 265.5 494.4 258.8C494.4 252.1 494.4 245.5 494.4 238.8C494.4 232.1 494.4 225.5 494.4 218.8C494.4 212.1 494.4 205.5 494.4 198.8C494.4 192.1 494.4 185.5 494.4 178.8C494.4 172.1 494.4 165.5 494.4 158.8C494.4 152.1 494.4 145.5 494.4 138.8C494.4 132.1 494.4 125.5 494.4 118.8C494.4 112.1 494.4 105.5 494.4 98.8C494.4 92.1 494.4 85.5 494.4 78.8C494.4 72.1 494.4 65.5 494.4 58.8C494.4 52.1 494.4 45.5 494.4 38.8C494.4 32.1 494.4 25.5 494.4 18.8C494.4 12.1 494.4 5.5 494.4 -1.2C494.4 -7.9 494.4 -17.9 494.4 -21.2"/>
<path d="M504.9 739.3C505.1 735.9 506.0 726.0 506.6 719.3C507.2 712.7 507.8 706.1 508.3 699.4C508.9 692.8 509.5 686.1 510.1 679.5C510.7 672.8 511.3 666.2 511.8 659.6C512.4 652.9 513.0 646.3 513.6 639.6C514.2 633.0 514.7 626.4 515.3 619.7C515.9 613.1 516.5 606.4 517.1 599.8C517.6 593.1 518.2 586.5 518.8 579.9C519.4 573.2 520.0 566.6 520.5 559.9C521.1 553.3 521.7 546.7 522.3 540.0C522.9 533.4 523.5 526.7 524.0 520.1C524.6 513.5 525.2 506.8 525.8 500.2C526.4 493.5 526.9 486.9 527.5 480.2C528.1 473.6 528.7 467.0 529.3 460.3C529.8 453.7 530.4 447.0 531.0 440.4C531.6 433.8 532.2 427.1 532.7 420.5C533.3 413.8 533.9 407.2 534.5 400.6C535.1 393.9 535.7 387.3 536.2 380.6C536.8 374.0 537.4 367.3 538.0 360.7C538.6 354.1 539.1 347.4 539.7 340.8C540.3 334.1 540.9 327.5 541.5 320.9C542.0 314.2 542.6 307.6 543.2 300.9C543.8 294.3 544.4 287.6 545.0 281.0C545.5 274.4 546.1 267.7 546.7 261.1C547.3 254.4 547.9 247.8 548.4 241.2C549.0 234.5 549.6 227.9 550.2 221.2C550.8 214.6 551.3 208.0 551.9 201.3C552.5 194.7 553.1 188.0 553.7 181.4C554.2 174.7 554.8 168.1 555.4 161.5C556.0 154.8 556.6 148.2 557.2 141.5C557.7 134.9 558.3 128.3 558.9 121.6C559.5 115.0 560.1 108.3 560.6 101.7C561.2 95.1 561.8 88.4 562.4 81.8C563.0 75.1 563.5 68.5 564.1 61.8C564.7 55.2 565.3 48.6 565.9 41.9C566.4 35.3 567.0 28.6 567.6 22.0C568.2 15.4 568.8 8.7 569.4 2.1C569.9 -4.6 570.8 -14.5 571.1 -17.9"/>
<path d="M515.2 740.6C515.8 737.3 517.6 727.5 518.7 720.9C519.9 714.4 521.0 707.8 522.2 701.2C523.3 694.7 524.5 688.1 525.7 681.5C526.8 675.0 528.0 668.4 529.1 661.8C530.3 655.3 531.4 648.7 532.6 642.1C533.8 635.6 534.9 629.0 536.1 622.4C537.2 615.9 538.4 609.3 539.5 602.7C540.7 596.2 541.9 589.6 543.0 583.1C544.2 576.5 545.3 569.9 546.5 563.4C547.7 556.8 548.8 550.2 550.0 543.7C551.1 537.1 552.3 530.5 553.4 524.0C554.6 517.4 555.8 510.8 556.9 504.3C558.1 497.7 559.2 491.1 560.4 484.6C561.5 478.0 562.7 471.4 563.9 464.9C565.0 458.3 566.2 451.7 567.3 445.2C568.5 438.6 569.6 432.0 570.8 425.5C572.0 418.9 573.1 412.4 574.3 405.8C575.4 399.2 576.6 392.7 577.8 386.1C578.9 379.5 580.1 373.0 581.2 366.4C582.4 359.8 583.5 353.3 584.7 346.7C585.9 340.1 587.0 333.6 588.2 327.0C589.3 320.4 590.5 313.9 591.6 307.3C592.8 300.7 594.0 294.2 595.1 287.6C596.3 281.0 597.4 274.5 598.6 267.9C599.7 261.3 600.9 254.8 602.1 248.2C603.2 241.7 604.4 235.1 605.5 228.5C606.7 222.0 607.9 215.4 609.0 208.8C610.2 202.3 611.3 195.7 612.5 189.1C613.6 182.6 614.8 176.0 616.0 169.4C617.1 162.9 618.3 156.3 619.4 149.7C620.6 143.2 621.7 136.6 622.9 130.0C624.1 123.5 625.2 116.9 626.4 110.3C627.5 103.8 628.7 97.2 629.8 90.6C631.0 84.1 632.2 77.5 633.3 71.0C634.5 64.4 635.6 57.8 636.8 51.3C637.9 44.7 639.1 38.1 640.3 31.6C641.4 25.0 642.6 18.4 643.7 11.9C644.9 5.3 646.6 -4.5 647.2 -7.8"/>
<path d="M525.5 742.9C526.3 739.7 528.9 730.0 530.6 723.6C532.4 717.1 534.1 710.7 535.8 704.3C537.5 697.8 539.3 691.4 541.0 684.9C542.7 678.5 544.4 672.1 546.2 665.6C547.9 659.2 549.6 652.7 551.3 646.3C553.1 639.9 554.8 633.4 556.5 627.0C558.2 620.5 560.0 614.1 561.7 607.7C563.4 601.2 565.1 594.8 566.9 588.3C568.6 581.9 570.3 575.5 572.0 569.0C573.8 562.6 575.5 556.1 577.2 549.7C578.9 543.3 580.7 536.8 582.4 530.4C584.1 523.9 585.8 517.5 587.6 511.1C589.3 504.6 591.0 498.2 592.8 491.7C594.5 485.3 596.2 478.9 597.9 472.4C599.7 466.0 601.4 459.6 603.1 453.1C604.8 446.7 606.6 440.2 608.3 433.8C610.0 427.4 611.7 420.9 613.5 414.5C615.2 408.0 616.9 401.6 618.6 395.2C620.4 388.7 622.1 382.3 623.8 375.8C625.5 369.4 627.3 363.0 629.0 356.5C630.7 350.1 632.4 343.6 634.2 337.2C635.9 330.8 637.6 324.3 639.3 317.9C641.1 311.4 642.8 305.0 644.5 298.6C646.2 292.1 648.0 285.7 649.7 279.2C651.4 272.8 653.1 266.4 654.9 259.9C656.6 253.5 658.3 247.0 660.0 240.6C661.8 234.2 663.5 227.7 665.2 221.3C666.9 214.8 668.7 208.4 670.4 202.0C672.1 195.5 673.8 189.1 675.6 182.7C677.3 176.2 679.0 169.8 680.7 163.3C682.5 156.9 684.2 150.5 685.9 144.0C687.7 137.6 689.4 131.1 691.1 124.7C692.8 118.3 694.6 111.8 696.3 105.4C698.0 98.9 699.7 92.5 701.5 86.1C703.2 79.6 704.9 73.2 706.6 66.7C708.4 60.3 710.1 53.9 711.8 47.4C713.5 41.0 715.3 34.5 717.0 28.1C718.7 21.7 721.3 12.0 722.2 8.8"/>
<path d="M535.4 746.0C536.6 742.9 540.0 733.5 542.3 727.2C544.6 721.0 546.8 714.7 549.1 708.4C551.4 702.2 553.7 695.9 556.0 689.7C558.2 683.4 560.5 677.1 562.8 670.9C565.1 664.6 567.4 658.3 569.6 652.1C571.9 645.8 574.2 639.5 576.5 633.3C578.8 627.0 581.0 620.7 583.3 614.5C585.6 608.2 587.9 602.0 590.2 595.7C592.4 589.4 594.7 583.2 597.0 576.9C599.3 570.6 601.6 564.4 603.8 558.1C606.1 551.8 608.4 545.6 610.7 539.3C613.0 533.0 615.2 526.8 617.5 520.5C619.8 514.2 622.1 508.0 624.4 501.7C626.6 495.5 628.9 489.2 631.2 482.9C633.5 476.7 635.8 470.4 638.0 464.1C640.3 457.9 642.6 451.6 644.9 445.3C647.2 439.1 649.4 432.8 651.7 426.5C654.0 420.3 656.3 414.0 658.6 407.7C660.8 401.5 663.1 395.2 665.4 389.0C667.7 382.7 670.0 376.4 672.3 370.2C674.5 363.9 676.8 357.6 679.1 351.4C681.4 345.1 683.7 338.8 685.9 332.6C688.2 326.3 690.5 320.0 692.8 313.8C695.1 307.5 697.3 301.2 699.6 295.0C701.9 288.7 704.2 282.5 706.5 276.2C708.7 269.9 711.0 263.7 713.3 257.4C715.6 251.1 717.9 244.9 720.1 238.6C722.4 232.3 724.7 226.1 727.0 219.8C729.3 213.5 731.5 207.3 733.8 201.0C736.1 194.8 738.4 188.5 740.7 182.2C742.9 176.0 745.2 169.7 747.5 163.4C749.8 157.2 752.1 150.9 754.3 144.6C756.6 138.4 758.9 132.1 761.2 125.8C763.5 119.6 765.7 113.3 768.0 107.0C770.3 100.8 772.6 94.5 774.9 88.3C777.1 82.0 779.4 75.7 781.7 69.5C784.0 63.2 786.3 56.9 788.5 50.7C790.8 44.4 794.2 35.0 795.4 31.9"/>
<path d="M545.1 750.0C546.5 747.0 550.7 738.0 553.6 731.9C556.4 725.9 559.2 719.8 562.0 713.8C564.8 707.7 567.7 701.7 570.5 695.7C573.3 689.6 576.1 683.6 578.9 677.5C581.7 671.5 584.6 665.5 587.4 659.4C590.2 653.4 593.0 647.3 595.8 641.3C598.6 635.2 601.5 629.2 604.3 623.2C607.1 617.1 609.9 611.1 612.7 605.0C615.6 599.0 618.4 592.9 621.2 586.9C624.0 580.9 626.8 574.8 629.6 568.8C632.5 562.7 635.3 556.7 638.1 550.7C640.9 544.6 643.7 538.6 646.5 532.5C649.4 526.5 652.2 520.4 655.0 514.4C657.8 508.4 660.6 502.3 663.4 496.3C666.3 490.2 669.1 484.2 671.9 478.2C674.7 472.1 677.5 466.1 680.4 460.0C683.2 454.0 686.0 447.9 688.8 441.9C691.6 435.9 694.4 429.8 697.3 423.8C700.1 417.7 702.9 411.7 705.7 405.6C708.5 399.6 711.3 393.6 714.2 387.5C717.0 381.5 719.8 375.4 722.6 369.4C725.4 363.4 728.2 357.3 731.1 351.3C733.9 345.2 736.7 339.2 739.5 333.1C742.3 327.1 745.2 321.1 748.0 315.0C750.8 309.0 753.6 302.9 756.4 296.9C759.2 290.8 762.1 284.8 764.9 278.8C767.7 272.7 770.5 266.7 773.3 260.6C776.1 254.6 779.0 248.6 781.8 242.5C784.6 236.5 787.4 230.4 790.2 224.4C793.1 218.3 795.9 212.3 798.7 206.3C801.5 200.2 804.3 194.2 807.1 188.1C810.0 182.1 812.8 176.0 815.6 170.0C818.4 164.0 821.2 157.9 824.0 151.9C826.9 145.8 829.7 139.8 832.5 133.8C835.3 127.7 838.1 121.7 840.9 115.6C843.8 109.6 846.6 103.5 849.4 97.5C852.2 91.5 855.0 85.4 857.9 79.4C860.7 73.3 864.9 64.3 866.3 61.2"/>
<path d="M554.4 754.9C556.1 752.0 561.1 743.3 564.4 737.6C567.7 731.8 571.1 726.0 574.4 720.2C577.7 714.5 581.1 708.7 584.4 702.9C587.7 697.1 591.1 691.4 594.4 685.6C597.7 679.8 601.1 674.0 604.4 668.3C607.7 662.5 611.1 656.7 614.4 651.0C617.7 645.2 621.1 639.4 624.4 633.6C627.7 627.9 631.1 622.1 634.4 616.3C637.7 610.5 641.1 604.8 644.4 599.0C647.7 593.2 651.1 587.4 654.4 581.7C657.7 575.9 661.1 570.1 664.4 564.4C667.7 558.6 671.1 552.8 674.4 547.0C677.7 541.3 681.1 535.5 684.4 529.7C687.7 523.9 691.1 518.2 694.4 512.4C697.7 506.6 701.1 500.8 704.4 495.1C707.7 489.3 711.1 483.5 714.4 477.7C717.7 472.0 721.1 466.2 724.4 460.4C727.7 454.7 731.1 448.9 734.4 443.1C737.7 437.3 741.1 431.6 744.4 425.8C747.7 420.0 751.1 414.2 754.4 408.5C757.7 402.7 761.1 396.9 764.4 391.1C767.7 385.4 771.1 379.6 774.4 373.8C777.7 368.1 781.1 362.3 784.4 356.5C787.7 350.7 791.1 345.0 794.4 339.2C797.7 333.4 801.1 327.6 804.4 321.9C807.7 316.1 811.1 310.3 814.4 304.5C817.7 298.8 821.1 293.0 824.4 287.2C827.7 281.4 831.1 275.7 834.4 269.9C837.7 264.1 841.1 258.4 844.4 252.6C847.7 246.8 851.1 241.0 854.4 235.3C857.7 229.5 861.1 223.7 864.4 217.9C867.7 212.2 871.1 206.4 874.4 200.6C877.7 194.8 881.1 189.1 884.4 183.3C887.7 177.5 891.1 171.8 894.4 166.0C897.7 160.2 901.1 154.4 904.4 148.7C907.7 142.9 911.1 137.1 914.4 131.3C917.7 125.6 921.1 119.8 924.4 114.0C927.7 108.2 932.7 99.6 934.4 96.7"/>
<path d="M563.2 760.5C565.1 757.8 570.9 749.6 574.7 744.1C578.5 738.7 582.3 733.2 586.2 727.7C590.0 722.3 593.8 716.8 597.6 711.4C601.5 705.9 605.3 700.4 609.1 695.0C612.9 689.5 616.8 684.0 620.6 678.6C624.4 673.1 628.2 667.7 632.1 662.2C635.9 656.7 639.7 651.3 643.5 645.8C647.4 640.4 651.2 634.9 655.0 629.4C658.8 624.0 662.6 618.5 666.5 613.1C670.3 607.6 674.1 602.1 677.9 596.7C681.8 591.2 685.6 585.7 689.4 580.3C693.2 574.8 697.1 569.4 700.9 563.9C704.7 558.4 708.5 553.0 712.4 547.5C716.2 542.1 720.0 536.6 723.8 531.1C727.7 525.7 731.5 520.2 735.3 514.8C739.1 509.3 742.9 503.8 746.8 498.4C750.6 492.9 754.4 487.5 758.2 482.0C762.1 476.5 765.9 471.1 769.7 465.6C773.5 460.1 777.4 454.7 781.2 449.2C785.0 443.8 788.8 438.3 792.7 432.8C796.5 427.4 800.3 421.9 804.1 416.5C808.0 411.0 811.8 405.5 815.6 400.1C819.4 394.6 823.3 389.2 827.1 383.7C830.9 378.2 834.7 372.8 838.5 367.3C842.4 361.8 846.2 356.4 850.0 350.9C853.8 345.5 857.7 340.0 861.5 334.5C865.3 329.1 869.1 323.6 873.0 318.2C876.8 312.7 880.6 307.2 884.4 301.8C888.3 296.3 892.1 290.9 895.9 285.4C899.7 279.9 903.6 274.5 907.4 269.0C911.2 263.5 915.0 258.1 918.8 252.6C922.7 247.2 926.5 241.7 930.3 236.2C934.1 230.8 938.0 225.3 941.8 219.9C945.6 214.4 949.4 208.9 953.3 203.5C957.1 198.0 960.9 192.6 964.7 187.1C968.6 181.6 972.4 176.2 976.2 170.7C980.0 165.3 983.9 159.8 987.7 154.3C991.5 148.9 997.2 140.7 999.1 137.9"/>
<path d="M571.5 766.9C573.7 764.3 580.1 756.7 584.4 751.6C588.7 746.4 593.0 741.3 597.2 736.2C601.5 731.1 605.8 726.0 610.1 720.9C614.4 715.8 618.7 710.7 623.0 705.6C627.2 700.5 631.5 695.4 635.8 690.3C640.1 685.2 644.4 680.1 648.7 674.9C653.0 669.8 657.2 664.7 661.5 659.6C665.8 654.5 670.1 649.4 674.4 644.3C678.7 639.2 683.0 634.1 687.2 629.0C691.5 623.9 695.8 618.8 700.1 613.7C704.4 608.6 708.7 603.5 712.9 598.3C717.2 593.2 721.5 588.1 725.8 583.0C730.1 577.9 734.4 572.8 738.7 567.7C742.9 562.6 747.2 557.5 751.5 552.4C755.8 547.3 760.1 542.2 764.4 537.1C768.7 532.0 772.9 526.8 777.2 521.7C781.5 516.6 785.8 511.5 790.1 506.4C794.4 501.3 798.7 496.2 802.9 491.1C807.2 486.0 811.5 480.9 815.8 475.8C820.1 470.7 824.4 465.6 828.6 460.5C832.9 455.3 837.2 450.2 841.5 445.1C845.8 440.0 850.1 434.9 854.4 429.8C858.6 424.7 862.9 419.6 867.2 414.5C871.5 409.4 875.8 404.3 880.1 399.2C884.4 394.1 888.6 389.0 892.9 383.9C897.2 378.7 901.5 373.6 905.8 368.5C910.1 363.4 914.4 358.3 918.6 353.2C922.9 348.1 927.2 343.0 931.5 337.9C935.8 332.8 940.1 327.7 944.4 322.6C948.6 317.5 952.9 312.4 957.2 307.2C961.5 302.1 965.8 297.0 970.1 291.9C974.3 286.8 978.6 281.7 982.9 276.6C987.2 271.5 991.5 266.4 995.8 261.3C1000.1 256.2 1004.3 251.1 1008.6 246.0C1012.9 240.9 1017.2 235.8 1021.5 230.6C1025.8 225.5 1030.1 220.4 1034.3 215.3C1038.6 210.2 1042.9 205.1 1047.2 200.0C1051.5 194.9 1057.9 187.2 1060.1 184.7"/>
<path d="M579.3 773.9C581.6 771.6 588.7 764.5 593.4 759.8C598.1 755.1 602.8 750.4 607.5 745.7C612.3 740.9 617.0 736.2 621.7 731.5C626.4 726.8 631.1 722.1 635.8 717.4C640.5 712.7 645.2 708.0 650.0 703.2C654.7 698.5 659.4 693.8 664.1 689.1C668.8 684.4 673.5 679.7 678.2 675.0C683.0 670.2 687.7 665.5 692.4 660.8C697.1 656.1 701.8 651.4 706.5 646.7C711.2 642.0 716.0 637.2 720.7 632.5C725.4 627.8 730.1 623.1 734.8 618.4C739.5 613.7 744.2 609.0 749.0 604.2C753.7 599.5 758.4 594.8 763.1 590.1C767.8 585.4 772.5 580.7 777.2 576.0C782.0 571.2 786.7 566.5 791.4 561.8C796.1 557.1 800.8 552.4 805.5 547.7C810.2 543.0 815.0 538.2 819.7 533.5C824.4 528.8 829.1 524.1 833.8 519.4C838.5 514.7 843.2 510.0 848.0 505.2C852.7 500.5 857.4 495.8 862.1 491.1C866.8 486.4 871.5 481.7 876.2 477.0C881.0 472.2 885.7 467.5 890.4 462.8C895.1 458.1 899.8 453.4 904.5 448.7C909.2 444.0 914.0 439.2 918.7 434.5C923.4 429.8 928.1 425.1 932.8 420.4C937.5 415.7 942.2 411.0 946.9 406.3C951.7 401.5 956.4 396.8 961.1 392.1C965.8 387.4 970.5 382.7 975.2 378.0C979.9 373.3 984.7 368.5 989.4 363.8C994.1 359.1 998.8 354.4 1003.5 349.7C1008.2 345.0 1012.9 340.3 1017.7 335.5C1022.4 330.8 1027.1 326.1 1031.8 321.4C1036.5 316.7 1041.2 312.0 1045.9 307.3C1050.7 302.5 1055.4 297.8 1060.1 293.1C1064.8 288.4 1069.5 283.7 1074.2 279.0C1078.9 274.3 1083.7 269.5 1088.4 264.8C1093.1 260.1 1097.8 255.4 1102.5 250.7C1107.2 246.0 1114.3 238.9 1116.7 236.5"/>
<path d="M586.3 781.7C588.9 779.5 596.5 773.1 601.6 768.8C606.8 764.5 611.9 760.2 617.0 756.0C622.1 751.7 627.2 747.4 632.3 743.1C637.4 738.8 642.5 734.5 647.6 730.2C652.7 726.0 657.8 721.7 662.9 717.4C668.0 713.1 673.1 708.8 678.3 704.5C683.4 700.2 688.5 696.0 693.6 691.7C698.7 687.4 703.8 683.1 708.9 678.8C714.0 674.5 719.1 670.2 724.2 666.0C729.3 661.7 734.4 657.4 739.5 653.1C744.6 648.8 749.7 644.5 754.9 640.3C760.0 636.0 765.1 631.7 770.2 627.4C775.3 623.1 780.4 618.8 785.5 614.5C790.6 610.3 795.7 606.0 800.8 601.7C805.9 597.4 811.0 593.1 816.1 588.8C821.2 584.5 826.4 580.3 831.5 576.0C836.6 571.7 841.7 567.4 846.8 563.1C851.9 558.8 857.0 554.5 862.1 550.3C867.2 546.0 872.3 541.7 877.4 537.4C882.5 533.1 887.6 528.8 892.7 524.6C897.9 520.3 903.0 516.0 908.1 511.7C913.2 507.4 918.3 503.1 923.4 498.8C928.5 494.6 933.6 490.3 938.7 486.0C943.8 481.7 948.9 477.4 954.0 473.1C959.1 468.8 964.2 464.6 969.3 460.3C974.5 456.0 979.6 451.7 984.7 447.4C989.8 443.1 994.9 438.8 1000.0 434.6C1005.1 430.3 1010.2 426.0 1015.3 421.7C1020.4 417.4 1025.5 413.1 1030.6 408.8C1035.7 404.6 1040.8 400.3 1046.0 396.0C1051.1 391.7 1056.2 387.4 1061.3 383.1C1066.4 378.9 1071.5 374.6 1076.6 370.3C1081.7 366.0 1086.8 361.7 1091.9 357.4C1097.0 353.1 1102.1 348.9 1107.2 344.6C1112.3 340.3 1117.4 336.0 1122.6 331.7C1127.7 327.4 1132.8 323.1 1137.9 318.9C1143.0 314.6 1148.1 310.3 1153.2 306.0C1158.3 301.7 1166.0 295.3 1168.5 293.1"/>
<path d="M592.7 790.0C595.4 788.1 603.6 782.3 609.1 778.5C614.5 774.7 620.0 770.9 625.5 767.0C630.9 763.2 636.4 759.4 641.8 755.6C647.3 751.7 652.8 747.9 658.2 744.1C663.7 740.3 669.2 736.4 674.6 732.6C680.1 728.8 685.5 725.0 691.0 721.1C696.5 717.3 701.9 713.5 707.4 709.7C712.8 705.8 718.3 702.0 723.8 698.2C729.2 694.4 734.7 690.6 740.1 686.7C745.6 682.9 751.1 679.1 756.5 675.3C762.0 671.4 767.5 667.6 772.9 663.8C778.4 660.0 783.8 656.1 789.3 652.3C794.8 648.5 800.2 644.7 805.7 640.8C811.1 637.0 816.6 633.2 822.1 629.4C827.5 625.5 833.0 621.7 838.4 617.9C843.9 614.1 849.4 610.3 854.8 606.4C860.3 602.6 865.7 598.8 871.2 595.0C876.7 591.1 882.1 587.3 887.6 583.5C893.1 579.7 898.5 575.8 904.0 572.0C909.4 568.2 914.9 564.4 920.4 560.5C925.8 556.7 931.3 552.9 936.7 549.1C942.2 545.2 947.7 541.4 953.1 537.6C958.6 533.8 964.0 529.9 969.5 526.1C975.0 522.3 980.4 518.5 985.9 514.7C991.4 510.8 996.8 507.0 1002.3 503.2C1007.7 499.4 1013.2 495.5 1018.7 491.7C1024.1 487.9 1029.6 484.1 1035.0 480.2C1040.5 476.4 1046.0 472.6 1051.4 468.8C1056.9 464.9 1062.3 461.1 1067.8 457.3C1073.3 453.5 1078.7 449.6 1084.2 445.8C1089.7 442.0 1095.1 438.2 1100.6 434.4C1106.0 430.5 1111.5 426.7 1117.0 422.9C1122.4 419.1 1127.9 415.2 1133.3 411.4C1138.8 407.6 1144.3 403.8 1149.7 399.9C1155.2 396.1 1160.6 392.3 1166.1 388.5C1171.6 384.6 1177.0 380.8 1182.5 377.0C1187.9 373.2 1193.4 369.3 1198.9 365.5C1204.3 361.7 1212.5 356.0 1215.3 354.1"/>
<path d="M598.3 798.8C601.2 797.1 609.9 792.1 615.6 788.8C621.4 785.5 627.2 782.1 633.0 778.8C638.7 775.5 644.5 772.1 650.3 768.8C656.1 765.5 661.8 762.1 667.6 758.8C673.4 755.5 679.2 752.1 684.9 748.8C690.7 745.5 696.5 742.1 702.2 738.8C708.0 735.5 713.8 732.1 719.6 728.8C725.3 725.5 731.1 722.1 736.9 718.8C742.7 715.5 748.4 712.1 754.2 708.8C760.0 705.5 765.8 702.1 771.5 698.8C777.3 695.5 783.1 692.1 788.8 688.8C794.6 685.5 800.4 682.1 806.2 678.8C811.9 675.5 817.7 672.1 823.5 668.8C829.3 665.5 835.0 662.1 840.8 658.8C846.6 655.5 852.4 652.1 858.1 648.8C863.9 645.5 869.7 642.1 875.5 638.8C881.2 635.5 887.0 632.1 892.8 628.8C898.5 625.5 904.3 622.1 910.1 618.8C915.9 615.5 921.6 612.1 927.4 608.8C933.2 605.5 939.0 602.1 944.7 598.8C950.5 595.5 956.3 592.1 962.1 588.8C967.8 585.5 973.6 582.1 979.4 578.8C985.1 575.5 990.9 572.1 996.7 568.8C1002.5 565.5 1008.2 562.1 1014.0 558.8C1019.8 555.5 1025.6 552.1 1031.3 548.8C1037.1 545.5 1042.9 542.1 1048.7 538.8C1054.4 535.5 1060.2 532.1 1066.0 528.8C1071.8 525.5 1077.5 522.1 1083.3 518.8C1089.1 515.5 1094.8 512.1 1100.6 508.8C1106.4 505.5 1112.2 502.1 1117.9 498.8C1123.7 495.5 1129.5 492.1 1135.3 488.8C1141.0 485.5 1146.8 482.1 1152.6 478.8C1158.4 475.5 1164.1 472.1 1169.9 468.8C1175.7 465.5 1181.4 462.1 1187.2 458.8C1193.0 455.5 1198.8 452.1 1204.5 448.8C1210.3 445.5 1216.1 442.1 1221.9 438.8C1227.6 435.5 1233.4 432.1 1239.2 428.8C1245.0 425.5 1253.6 420.5 1256.5 418.8"/>
<path d="M603.2 808.1C606.2 806.7 615.2 802.5 621.3 799.6C627.3 796.8 633.4 794.0 639.4 791.2C645.5 788.4 651.5 785.5 657.5 782.7C663.6 779.9 669.6 777.1 675.7 774.3C681.7 771.5 687.7 768.6 693.8 765.8C699.8 763.0 705.9 760.2 711.9 757.4C718.0 754.6 724.0 751.7 730.0 748.9C736.1 746.1 742.1 743.3 748.2 740.5C754.2 737.6 760.3 734.8 766.3 732.0C772.3 729.2 778.4 726.4 784.4 723.6C790.5 720.7 796.5 717.9 802.5 715.1C808.6 712.3 814.6 709.5 820.7 706.7C826.7 703.8 832.8 701.0 838.8 698.2C844.8 695.4 850.9 692.6 856.9 689.8C863.0 686.9 869.0 684.1 875.0 681.3C881.1 678.5 887.1 675.7 893.2 672.8C899.2 670.0 905.3 667.2 911.3 664.4C917.3 661.6 923.4 658.8 929.4 655.9C935.5 653.1 941.5 650.3 947.6 647.5C953.6 644.7 959.6 641.9 965.7 639.0C971.7 636.2 977.8 633.4 983.8 630.6C989.8 627.8 995.9 625.0 1001.9 622.1C1008.0 619.3 1014.0 616.5 1020.1 613.7C1026.1 610.9 1032.1 608.0 1038.2 605.2C1044.2 602.4 1050.3 599.6 1056.3 596.8C1062.4 594.0 1068.4 591.1 1074.4 588.3C1080.5 585.5 1086.5 582.7 1092.6 579.9C1098.6 577.1 1104.6 574.2 1110.7 571.4C1116.7 568.6 1122.8 565.8 1128.8 563.0C1134.9 560.1 1140.9 557.3 1146.9 554.5C1153.0 551.7 1159.0 548.9 1165.1 546.1C1171.1 543.2 1177.2 540.4 1183.2 537.6C1189.2 534.8 1195.3 532.0 1201.3 529.2C1207.4 526.3 1213.4 523.5 1219.4 520.7C1225.5 517.9 1231.5 515.1 1237.6 512.3C1243.6 509.4 1249.7 506.6 1255.7 503.8C1261.7 501.0 1267.8 498.2 1273.8 495.3C1279.9 492.5 1288.9 488.3 1292.0 486.9"/>
<path d="M-154.0 619.0C-152.6 615.2 -148.4 604.0 -145.4 596.5C-142.4 589.1 -139.2 581.7 -136.0 574.3C-132.7 567.0 -129.3 559.7 -125.8 552.5C-122.3 545.3 -118.6 538.1 -114.9 531.0C-111.1 524.0 -107.2 516.9 -103.2 510.0C-99.2 503.0 -95.0 496.1 -90.8 489.3C-86.5 482.5 -82.2 475.8 -77.7 469.1C-73.2 462.5 -68.6 455.9 -63.8 449.4C-59.1 442.9 -54.3 436.5 -49.4 430.2C-44.4 423.8 -39.4 417.6 -34.2 411.5C-29.0 405.3 -23.8 399.2 -18.4 393.3C-13.0 387.3 -7.5 381.4 -2.0 375.7C3.6 369.9 9.3 364.2 15.1 358.6C20.8 353.1 26.7 347.6 32.7 342.2C38.6 336.8 44.7 331.6 50.9 326.4C57.0 321.2 63.2 316.2 69.6 311.2C75.9 306.3 82.3 301.5 88.8 296.8C95.3 292.0 101.9 287.4 108.5 282.9C115.2 278.4 121.9 274.1 128.7 269.8C135.5 265.6 142.4 261.4 149.4 257.4C156.3 253.4 163.4 249.5 170.4 245.7C177.5 242.0 184.7 238.3 191.9 234.8C199.1 231.3 206.4 227.9 213.7 224.6C221.1 221.4 228.5 218.2 235.9 215.2C243.4 212.2 250.9 209.3 258.4 206.6C265.9 203.8 273.5 201.2 281.2 198.7C288.8 196.3 296.5 193.9 304.2 191.7C311.9 189.5 319.7 187.4 327.5 185.5C335.3 183.5 343.1 181.7 350.9 180.0C358.8 178.4 366.7 176.8 374.6 175.5C382.5 174.1 390.4 172.8 398.4 171.7C406.3 170.6 414.3 169.6 422.3 168.7C430.3 167.9 438.3 167.2 446.3 166.6C454.3 166.1 462.3 165.7 470.3 165.4C478.3 165.1 486.4 165.0 494.4 165.0C502.4 165.0 510.5 165.1 518.5 165.4C526.5 165.7 534.5 166.1 542.5 166.6C550.5 167.2 558.5 167.9 566.5 168.7C574.5 169.6 582.5 170.6 590.4 171.7C598.4 172.8 606.3 174.1 614.2 175.5C622.1 176.8 630.0 178.4 637.9 180.0C645.7 181.7 653.5 183.5 661.3 185.5C669.1 187.4 676.9 189.5 684.6 191.7C692.3 193.9 700.0 196.3 707.6 198.7C715.3 201.2 722.9 203.8 730.4 206.6C737.9 209.3 745.4 212.2 752.9 215.2C760.3 218.2 767.7 221.4 775.1 224.6C782.4 227.9 789.7 231.3 796.9 234.8C804.1 238.3 811.3 242.0 818.4 245.7C825.4 249.5 832.5 253.4 839.4 257.4C846.4 261.4 853.3 265.6 860.1 269.8C866.9 274.1 873.6 278.4 880.3 282.9C886.9 287.4 893.5 292.0 900.0 296.8C906.5 301.5 912.9 306.3 919.2 311.2C925.6 316.2 931.8 321.2 937.9 326.4C944.1 331.6 950.2 336.8 956.1 342.2C962.1 347.6 968.0 353.1 973.7 358.6C979.5 364.2 985.2 369.9 990.8 375.7C996.3 381.4 1001.8 387.3 1007.2 393.3C1012.6 399.2 1017.8 405.3 1023.0 411.5C1028.2 417.6 1033.2 423.8 1038.2 430.2C1043.1 436.5 1047.9 442.9 1052.6 449.4C1057.4 455.9 1062.0 462.5 1066.5 469.1C1071.0 475.8 1075.3 482.5 1079.6 489.3C1083.8 496.1 1088.0 503.0 1092.0 510.0C1096.0 516.9 1099.9 524.0 1103.7 531.0C1107.4 538.1 1111.1 545.3 1114.6 552.5C1118.1 559.7 1121.5 567.0 1124.8 574.3C1128.0 581.7 1131.2 589.1 1134.2 596.5C1137.2 604.0 1141.4 615.2 1142.8 619.0"/>
<path d="M-56.6 654.4C-55.4 651.3 -51.9 641.7 -49.3 635.3C-46.8 629.0 -44.1 622.7 -41.3 616.5C-38.5 610.3 -35.6 604.1 -32.7 597.9C-29.7 591.8 -26.6 585.7 -23.4 579.7C-20.2 573.7 -16.9 567.7 -13.4 561.8C-10.0 555.9 -6.5 550.0 -2.9 544.3C0.7 538.5 4.4 532.7 8.2 527.1C12.1 521.4 16.0 515.8 20.0 510.3C24.0 504.8 28.1 499.3 32.3 494.0C36.5 488.6 40.8 483.3 45.2 478.1C49.6 472.8 54.1 467.7 58.6 462.6C63.2 457.5 67.8 452.6 72.6 447.6C77.3 442.7 82.1 437.9 87.0 433.2C92.0 428.4 96.9 423.8 102.0 419.2C107.1 414.7 112.2 410.2 117.5 405.8C122.7 401.4 128.0 397.1 133.4 392.9C138.7 388.7 144.2 384.6 149.7 380.6C155.2 376.6 160.8 372.7 166.5 368.8C172.1 365.0 177.9 361.3 183.7 357.7C189.4 354.1 195.3 350.6 201.2 347.2C207.1 343.7 213.1 340.4 219.1 337.2C225.1 334.0 231.2 330.9 237.3 327.9C243.5 325.0 249.7 322.1 255.9 319.3C262.1 316.5 268.4 313.8 274.7 311.3C281.1 308.7 287.4 306.3 293.8 304.0C300.2 301.6 306.7 299.4 313.2 297.3C319.7 295.2 326.2 293.2 332.8 291.3C339.3 289.4 345.9 287.7 352.5 286.0C359.2 284.4 365.8 282.8 372.5 281.4C379.2 280.0 385.9 278.7 392.6 277.5C399.3 276.3 406.0 275.2 412.8 274.3C419.5 273.4 426.3 272.5 433.1 271.8C439.9 271.1 446.7 270.5 453.5 270.0C460.3 269.5 467.1 269.2 473.9 269.0C480.8 268.7 487.6 268.6 494.4 268.6C501.2 268.6 508.0 268.7 514.9 269.0C521.7 269.2 528.5 269.5 535.3 270.0C542.1 270.5 548.9 271.1 555.7 271.8C562.5 272.5 569.3 273.4 576.0 274.3C582.8 275.2 589.5 276.3 596.2 277.5C602.9 278.7 609.6 280.0 616.3 281.4C623.0 282.8 629.6 284.4 636.3 286.0C642.9 287.7 649.5 289.4 656.0 291.3C662.6 293.2 669.1 295.2 675.6 297.3C682.1 299.4 688.6 301.6 695.0 304.0C701.4 306.3 707.7 308.7 714.1 311.3C720.4 313.8 726.7 316.5 732.9 319.3C739.1 322.1 745.3 325.0 751.5 327.9C757.6 330.9 763.7 334.0 769.7 337.2C775.7 340.4 781.7 343.7 787.6 347.2C793.5 350.6 799.4 354.1 805.1 357.7C810.9 361.3 816.7 365.0 822.3 368.8C828.0 372.7 833.6 376.6 839.1 380.6C844.6 384.6 850.1 388.7 855.4 392.9C860.8 397.1 866.1 401.4 871.3 405.8C876.6 410.2 881.7 414.7 886.8 419.2C891.9 423.8 896.8 428.4 901.8 433.2C906.7 437.9 911.5 442.7 916.2 447.6C921.0 452.6 925.6 457.5 930.2 462.6C934.7 467.7 939.2 472.8 943.6 478.1C948.0 483.3 952.3 488.6 956.5 494.0C960.7 499.3 964.8 504.8 968.8 510.3C972.8 515.8 976.7 521.4 980.6 527.1C984.4 532.7 988.1 538.5 991.7 544.3C995.3 550.0 998.8 555.9 1002.2 561.8C1005.7 567.7 1009.0 573.7 1012.2 579.7C1015.4 585.7 1018.5 591.8 1021.5 597.9C1024.4 604.1 1027.3 610.3 1030.1 616.5C1032.9 622.7 1035.6 629.0 1038.1 635.3C1040.7 641.7 1044.2 651.3 1045.4 654.4"/>
<path d="M38.5 689.1C39.5 686.4 42.4 678.5 44.6 673.2C46.7 668.0 48.9 662.8 51.2 657.7C53.5 652.5 55.8 647.4 58.3 642.3C60.8 637.2 63.4 632.2 66.0 627.2C68.7 622.2 71.4 617.3 74.2 612.4C77.0 607.5 80.0 602.7 82.9 597.9C85.9 593.1 89.0 588.4 92.2 583.7C95.3 579.0 98.6 574.4 101.9 569.8C105.2 565.3 108.6 560.7 112.1 556.3C115.5 551.8 119.1 547.5 122.7 543.1C126.4 538.8 130.1 534.5 133.8 530.4C137.6 526.2 141.5 522.0 145.4 518.0C149.3 513.9 153.3 509.9 157.4 506.0C161.4 502.1 165.6 498.2 169.8 494.4C173.9 490.7 178.2 487.0 182.5 483.3C186.9 479.7 191.2 476.1 195.7 472.7C200.1 469.2 204.7 465.8 209.2 462.5C213.8 459.2 218.4 455.9 223.1 452.8C227.8 449.6 232.5 446.5 237.3 443.5C242.1 440.6 246.9 437.6 251.8 434.8C256.7 432.0 261.6 429.3 266.6 426.6C271.6 424.0 276.6 421.4 281.7 418.9C286.8 416.4 291.9 414.1 297.1 411.8C302.2 409.5 307.4 407.3 312.6 405.2C317.9 403.0 323.2 401.0 328.5 399.1C333.8 397.2 339.1 395.3 344.5 393.6C349.8 391.8 355.2 390.2 360.7 388.6C366.1 387.1 371.5 385.6 377.0 384.2C382.5 382.9 388.0 381.6 393.5 380.4C399.0 379.3 404.6 378.2 410.1 377.2C415.7 376.2 421.3 375.3 426.9 374.5C432.5 373.8 438.1 373.1 443.7 372.5C449.3 371.9 454.9 371.4 460.6 371.0C466.2 370.6 471.8 370.3 477.5 370.1C483.1 369.9 488.8 369.8 494.4 369.8C500.0 369.8 505.7 369.9 511.3 370.1C517.0 370.3 522.6 370.6 528.2 371.0C533.9 371.4 539.5 371.9 545.1 372.5C550.7 373.1 556.3 373.8 561.9 374.5C567.5 375.3 573.1 376.2 578.7 377.2C584.2 378.2 589.8 379.3 595.3 380.4C600.8 381.6 606.3 382.9 611.8 384.2C617.3 385.6 622.7 387.1 628.1 388.6C633.6 390.2 639.0 391.8 644.3 393.6C649.7 395.3 655.0 397.2 660.3 399.1C665.6 401.0 670.9 403.0 676.2 405.2C681.4 407.3 686.6 409.5 691.7 411.8C696.9 414.1 702.0 416.4 707.1 418.9C712.2 421.4 717.2 424.0 722.2 426.6C727.2 429.3 732.1 432.0 737.0 434.8C741.9 437.6 746.7 440.6 751.5 443.5C756.3 446.5 761.0 449.6 765.7 452.8C770.4 455.9 775.0 459.2 779.6 462.5C784.1 465.8 788.7 469.2 793.1 472.7C797.6 476.1 801.9 479.7 806.3 483.3C810.6 487.0 814.9 490.7 819.0 494.4C823.2 498.2 827.4 502.1 831.4 506.0C835.5 509.9 839.5 513.9 843.4 518.0C847.3 522.0 851.2 526.2 855.0 530.4C858.7 534.5 862.4 538.8 866.1 543.1C869.7 547.5 873.3 551.8 876.7 556.3C880.2 560.7 883.6 565.3 886.9 569.8C890.2 574.4 893.5 579.0 896.6 583.7C899.8 588.4 902.9 593.1 905.9 597.9C908.8 602.7 911.8 607.5 914.6 612.4C917.4 617.3 920.1 622.2 922.8 627.2C925.4 632.2 928.0 637.2 930.5 642.3C933.0 647.4 935.3 652.5 937.6 657.7C939.9 662.8 942.1 668.0 944.2 673.2C946.4 678.5 949.3 686.4 950.3 689.1"/>
<path d="M131.8 723.0C132.6 720.9 134.9 714.6 136.6 710.4C138.3 706.3 140.0 702.1 141.9 698.0C143.7 693.9 145.6 689.9 147.6 685.8C149.5 681.8 151.6 677.8 153.7 673.8C155.8 669.9 158.0 665.9 160.2 662.1C162.5 658.2 164.8 654.3 167.1 650.5C169.5 646.7 172.0 642.9 174.5 639.2C177.0 635.5 179.6 631.8 182.2 628.2C184.8 624.5 187.5 621.0 190.3 617.4C193.1 613.9 195.9 610.4 198.8 607.0C201.7 603.5 204.6 600.1 207.6 596.8C210.6 593.5 213.7 590.2 216.8 586.9C219.9 583.7 223.1 580.5 226.3 577.4C229.6 574.3 232.9 571.2 236.2 568.2C239.5 565.2 242.9 562.3 246.4 559.4C249.8 556.5 253.3 553.7 256.8 550.9C260.4 548.1 263.9 545.4 267.6 542.8C271.2 540.2 274.9 537.6 278.6 535.1C282.3 532.6 286.1 530.1 289.9 527.7C293.7 525.4 297.6 523.1 301.5 520.8C305.3 518.6 309.3 516.4 313.2 514.3C317.2 512.2 321.2 510.1 325.2 508.2C329.3 506.2 333.3 504.3 337.4 502.5C341.5 500.6 345.7 498.9 349.8 497.2C354.0 495.5 358.2 493.9 362.4 492.4C366.6 490.8 370.9 489.4 375.2 488.0C379.4 486.6 383.7 485.3 388.0 484.1C392.3 482.8 396.7 481.7 401.0 480.6C405.4 479.5 409.8 478.5 414.2 477.5C418.6 476.6 423.0 475.8 427.4 475.0C431.8 474.2 436.2 473.5 440.7 472.9C445.1 472.2 449.6 471.7 454.1 471.2C458.5 470.8 463.0 470.4 467.5 470.0C472.0 469.7 476.4 469.5 480.9 469.3C485.4 469.2 489.9 469.1 494.4 469.1C498.9 469.1 503.4 469.2 507.9 469.3C512.4 469.5 516.8 469.7 521.3 470.0C525.8 470.4 530.3 470.8 534.7 471.2C539.2 471.7 543.7 472.2 548.1 472.9C552.6 473.5 557.0 474.2 561.4 475.0C565.8 475.8 570.2 476.6 574.6 477.5C579.0 478.5 583.4 479.5 587.8 480.6C592.1 481.7 596.5 482.8 600.8 484.1C605.1 485.3 609.4 486.6 613.6 488.0C617.9 489.4 622.2 490.8 626.4 492.4C630.6 493.9 634.8 495.5 639.0 497.2C643.1 498.9 647.3 500.6 651.4 502.5C655.5 504.3 659.5 506.2 663.6 508.2C667.6 510.1 671.6 512.2 675.6 514.3C679.5 516.4 683.5 518.6 687.3 520.8C691.2 523.1 695.1 525.4 698.9 527.7C702.7 530.1 706.5 532.6 710.2 535.1C713.9 537.6 717.6 540.2 721.2 542.8C724.9 545.4 728.4 548.1 732.0 550.9C735.5 553.7 739.0 556.5 742.4 559.4C745.9 562.3 749.3 565.2 752.6 568.2C755.9 571.2 759.2 574.3 762.5 577.4C765.7 580.5 768.9 583.7 772.0 586.9C775.1 590.2 778.2 593.5 781.2 596.8C784.2 600.1 787.1 603.5 790.0 607.0C792.9 610.4 795.7 613.9 798.5 617.4C801.3 621.0 804.0 624.5 806.6 628.2C809.2 631.8 811.8 635.5 814.3 639.2C816.8 642.9 819.3 646.7 821.7 650.5C824.0 654.3 826.3 658.2 828.6 662.1C830.8 665.9 833.0 669.9 835.1 673.8C837.2 677.8 839.3 681.8 841.2 685.8C843.2 689.9 845.1 693.9 846.9 698.0C848.8 702.1 850.5 706.3 852.2 710.4C853.9 714.6 856.2 720.9 857.0 723.0"/>
<path d="M223.7 756.5C224.3 754.9 226.0 750.2 227.3 747.1C228.5 744.0 229.8 740.9 231.2 737.8C232.6 734.7 234.0 731.7 235.4 728.7C236.9 725.7 238.4 722.7 240.0 719.7C241.6 716.8 243.2 713.8 244.9 710.9C246.6 708.0 248.3 705.2 250.1 702.3C251.8 699.5 253.7 696.7 255.5 693.9C257.4 691.1 259.3 688.4 261.3 685.6C263.3 682.9 265.3 680.3 267.4 677.6C269.4 675.0 271.5 672.4 273.7 669.8C275.8 667.2 278.0 664.7 280.3 662.2C282.5 659.7 284.8 657.3 287.1 654.9C289.5 652.4 291.8 650.1 294.3 647.7C296.7 645.4 299.1 643.1 301.6 640.9C304.1 638.6 306.6 636.4 309.2 634.3C311.8 632.1 314.4 630.0 317.0 628.0C319.7 625.9 322.3 623.9 325.0 621.9C327.8 619.9 330.5 618.0 333.3 616.1C336.1 614.3 338.9 612.4 341.7 610.7C344.6 608.9 347.4 607.2 350.3 605.5C353.2 603.8 356.2 602.2 359.1 600.6C362.1 599.0 365.1 597.5 368.1 596.0C371.1 594.6 374.1 593.2 377.2 591.8C380.3 590.4 383.4 589.1 386.5 587.9C389.6 586.6 392.7 585.4 395.9 584.3C399.0 583.1 402.2 582.0 405.4 581.0C408.6 579.9 411.8 579.0 415.0 578.0C418.2 577.1 421.4 576.2 424.7 575.4C427.9 574.6 431.2 573.9 434.5 573.2C437.8 572.5 441.1 571.8 444.4 571.3C447.7 570.7 451.0 570.1 454.3 569.7C457.6 569.2 460.9 568.8 464.3 568.5C467.6 568.1 471.0 567.8 474.3 567.6C477.6 567.3 481.0 567.2 484.3 567.1C487.7 566.9 491.0 566.9 494.4 566.9C497.8 566.9 501.1 566.9 504.5 567.1C507.8 567.2 511.2 567.3 514.5 567.6C517.8 567.8 521.2 568.1 524.5 568.5C527.9 568.8 531.2 569.2 534.5 569.7C537.8 570.1 541.1 570.7 544.4 571.3C547.7 571.8 551.0 572.5 554.3 573.2C557.6 573.9 560.9 574.6 564.1 575.4C567.4 576.2 570.6 577.1 573.8 578.0C577.0 579.0 580.2 579.9 583.4 581.0C586.6 582.0 589.8 583.1 592.9 584.3C596.1 585.4 599.2 586.6 602.3 587.9C605.4 589.1 608.5 590.4 611.6 591.8C614.7 593.2 617.7 594.6 620.7 596.0C623.7 597.5 626.7 599.0 629.7 600.6C632.6 602.2 635.6 603.8 638.5 605.5C641.4 607.2 644.2 608.9 647.1 610.7C649.9 612.4 652.7 614.3 655.5 616.1C658.3 618.0 661.0 619.9 663.8 621.9C666.5 623.9 669.1 625.9 671.8 628.0C674.4 630.0 677.0 632.1 679.6 634.3C682.2 636.4 684.7 638.6 687.2 640.9C689.7 643.1 692.1 645.4 694.5 647.7C697.0 650.1 699.3 652.4 701.7 654.9C704.0 657.3 706.3 659.7 708.5 662.2C710.8 664.7 713.0 667.2 715.1 669.8C717.3 672.4 719.4 675.0 721.4 677.6C723.5 680.3 725.5 682.9 727.5 685.6C729.5 688.4 731.4 691.1 733.3 693.9C735.1 696.7 737.0 699.5 738.7 702.3C740.5 705.2 742.2 708.0 743.9 710.9C745.6 713.8 747.2 716.8 748.8 719.7C750.4 722.7 751.9 725.7 753.4 728.7C754.8 731.7 756.2 734.7 757.6 737.8C759.0 740.9 760.3 744.0 761.5 747.1C762.8 750.2 764.5 754.9 765.1 756.5"/>
<path d="M314.5 789.5C314.9 788.5 316.0 785.3 316.9 783.3C317.7 781.2 318.6 779.2 319.5 777.1C320.4 775.1 321.3 773.1 322.3 771.1C323.3 769.1 324.3 767.1 325.3 765.1C326.4 763.1 327.5 761.2 328.6 759.3C329.7 757.3 330.8 755.4 332.0 753.5C333.2 751.6 334.4 749.8 335.7 747.9C336.9 746.1 338.2 744.3 339.5 742.5C340.8 740.7 342.1 738.9 343.5 737.1C344.9 735.4 346.3 733.6 347.7 731.9C349.2 730.2 350.6 728.5 352.1 726.9C353.6 725.2 355.1 723.6 356.7 722.0C358.2 720.4 359.8 718.8 361.4 717.3C363.0 715.7 364.6 714.2 366.3 712.7C367.9 711.2 369.6 709.8 371.3 708.3C373.0 706.9 374.8 705.5 376.5 704.1C378.3 702.7 380.1 701.4 381.9 700.1C383.7 698.8 385.5 697.5 387.3 696.3C389.2 695.0 391.0 693.8 392.9 692.6C394.8 691.4 396.7 690.3 398.7 689.2C400.6 688.1 402.5 687.0 404.5 685.9C406.5 684.9 408.5 683.9 410.5 682.9C412.5 681.9 414.5 681.0 416.5 680.1C418.6 679.2 420.6 678.3 422.7 677.5C424.7 676.6 426.8 675.8 428.9 675.1C431.0 674.3 433.1 673.6 435.2 672.9C437.4 672.2 439.5 671.6 441.6 670.9C443.8 670.3 445.9 669.8 448.1 669.2C450.2 668.7 452.4 668.2 454.6 667.7C456.8 667.3 459.0 666.8 461.2 666.4C463.3 666.1 465.5 665.7 467.8 665.4C470.0 665.1 472.2 664.8 474.4 664.6C476.6 664.3 478.8 664.2 481.0 664.0C483.3 663.8 485.5 663.7 487.7 663.6C489.9 663.6 492.2 663.5 494.4 663.5C496.6 663.5 498.9 663.6 501.1 663.6C503.3 663.7 505.5 663.8 507.8 664.0C510.0 664.2 512.2 664.3 514.4 664.6C516.6 664.8 518.8 665.1 521.0 665.4C523.3 665.7 525.5 666.1 527.6 666.4C529.8 666.8 532.0 667.3 534.2 667.7C536.4 668.2 538.6 668.7 540.7 669.2C542.9 669.8 545.0 670.3 547.2 670.9C549.3 671.6 551.4 672.2 553.6 672.9C555.7 673.6 557.8 674.3 559.9 675.1C562.0 675.8 564.1 676.6 566.1 677.5C568.2 678.3 570.2 679.2 572.3 680.1C574.3 681.0 576.3 681.9 578.3 682.9C580.3 683.9 582.3 684.9 584.3 685.9C586.3 687.0 588.2 688.1 590.1 689.2C592.1 690.3 594.0 691.4 595.9 692.6C597.8 693.8 599.6 695.0 601.5 696.3C603.3 697.5 605.1 698.8 606.9 700.1C608.7 701.4 610.5 702.7 612.3 704.1C614.0 705.5 615.8 706.9 617.5 708.3C619.2 709.8 620.9 711.2 622.5 712.7C624.2 714.2 625.8 715.7 627.4 717.3C629.0 718.8 630.6 720.4 632.1 722.0C633.7 723.6 635.2 725.2 636.7 726.9C638.2 728.5 639.6 730.2 641.1 731.9C642.5 733.6 643.9 735.4 645.3 737.1C646.7 738.9 648.0 740.7 649.3 742.5C650.6 744.3 651.9 746.1 653.1 747.9C654.4 749.8 655.6 751.6 656.8 753.5C658.0 755.4 659.1 757.3 660.2 759.3C661.3 761.2 662.4 763.1 663.5 765.1C664.5 767.1 665.5 769.1 666.5 771.1C667.5 773.1 668.4 775.1 669.3 777.1C670.2 779.2 671.1 781.2 671.9 783.3C672.8 785.3 673.9 788.5 674.3 789.5"/>
<path d="M404.6 822.3C404.8 821.8 405.4 820.2 405.8 819.2C406.2 818.2 406.7 817.2 407.1 816.1C407.6 815.1 408.0 814.1 408.5 813.1C409.0 812.1 409.5 811.1 410.0 810.1C410.6 809.2 411.1 808.2 411.6 807.2C412.2 806.3 412.8 805.3 413.4 804.4C414.0 803.4 414.6 802.5 415.2 801.6C415.8 800.6 416.4 799.7 417.1 798.8C417.8 797.9 418.4 797.0 419.1 796.2C419.8 795.3 420.5 794.4 421.2 793.6C421.9 792.7 422.6 791.9 423.4 791.1C424.1 790.2 424.9 789.4 425.7 788.6C426.4 787.8 427.2 787.0 428.0 786.3C428.8 785.5 429.6 784.7 430.5 784.0C431.3 783.2 432.1 782.5 433.0 781.8C433.8 781.1 434.7 780.4 435.6 779.7C436.4 779.0 437.3 778.4 438.2 777.7C439.1 777.0 440.0 776.4 441.0 775.8C441.9 775.2 442.8 774.6 443.8 774.0C444.7 773.4 445.7 772.8 446.6 772.2C447.6 771.7 448.6 771.2 449.5 770.6C450.5 770.1 451.5 769.6 452.5 769.1C453.5 768.6 454.5 768.2 455.5 767.7C456.6 767.3 457.6 766.8 458.6 766.4C459.6 766.0 460.7 765.6 461.7 765.2C462.8 764.8 463.8 764.5 464.9 764.1C465.9 763.8 467.0 763.5 468.1 763.1C469.1 762.8 470.2 762.6 471.3 762.3C472.4 762.0 473.4 761.8 474.5 761.5C475.6 761.3 476.7 761.1 477.8 760.9C478.9 760.7 480.0 760.5 481.1 760.4C482.2 760.2 483.3 760.1 484.4 760.0C485.5 759.9 486.6 759.8 487.7 759.7C488.8 759.6 490.0 759.5 491.1 759.5C492.2 759.5 493.3 759.4 494.4 759.4C495.5 759.4 496.6 759.5 497.7 759.5C498.8 759.5 500.0 759.6 501.1 759.7C502.2 759.8 503.3 759.9 504.4 760.0C505.5 760.1 506.6 760.2 507.7 760.4C508.8 760.5 509.9 760.7 511.0 760.9C512.1 761.1 513.2 761.3 514.3 761.5C515.4 761.8 516.4 762.0 517.5 762.3C518.6 762.6 519.7 762.8 520.7 763.1C521.8 763.5 522.9 763.8 523.9 764.1C525.0 764.5 526.0 764.8 527.1 765.2C528.1 765.6 529.2 766.0 530.2 766.4C531.2 766.8 532.2 767.3 533.3 767.7C534.3 768.2 535.3 768.6 536.3 769.1C537.3 769.6 538.3 770.1 539.3 770.6C540.2 771.2 541.2 771.7 542.2 772.2C543.1 772.8 544.1 773.4 545.0 774.0C546.0 774.6 546.9 775.2 547.8 775.8C548.8 776.4 549.7 777.0 550.6 777.7C551.5 778.4 552.4 779.0 553.2 779.7C554.1 780.4 555.0 781.1 555.8 781.8C556.7 782.5 557.5 783.2 558.3 784.0C559.2 784.7 560.0 785.5 560.8 786.3C561.6 787.0 562.4 787.8 563.1 788.6C563.9 789.4 564.7 790.2 565.4 791.1C566.2 791.9 566.9 792.7 567.6 793.6C568.3 794.4 569.0 795.3 569.7 796.2C570.4 797.0 571.0 797.9 571.7 798.8C572.4 799.7 573.0 800.6 573.6 801.6C574.2 802.5 574.8 803.4 575.4 804.4C576.0 805.3 576.6 806.3 577.2 807.2C577.7 808.2 578.2 809.2 578.8 810.1C579.3 811.1 579.8 812.1 580.3 813.1C580.8 814.1 581.2 815.1 581.7 816.1C582.1 817.2 582.6 818.2 583.0 819.2C583.4 820.2 584.0 821.8 584.2 822.3"/>
</g>
<g fill="none" stroke="#000" stroke-width="1.1" stroke-linejoin="round">
<path d="M318.0 146.2C318.7 146.5 320.6 147.9 321.9 148.2C323.2 148.4 324.7 147.0 325.8 147.5C326.9 148.0 327.3 150.5 328.4 151.4C329.5 152.3 331.2 152.1 332.3 152.7C333.4 153.4 334.7 154.2 334.9 155.3C335.1 156.4 334.4 158.3 333.6 159.2C332.8 160.1 330.8 159.9 330.4 160.5C329.9 161.2 330.2 162.6 331.0 163.1C331.8 163.6 334.1 163.2 334.9 163.8C335.7 164.3 334.9 166.0 335.6 166.4C336.2 166.7 337.7 166.5 338.8 165.7C339.9 164.9 341.6 163.1 342.1 161.8C342.5 160.5 342.2 158.8 341.4 157.9C340.6 157.0 338.4 157.4 337.5 156.6C336.6 155.8 335.8 154.4 336.2 153.4C336.6 152.3 338.8 150.9 340.1 150.1C341.4 149.3 343.0 149.7 344.0 148.8C345.0 147.9 346.0 146.1 346.0 144.9C346.0 143.7 344.3 142.2 344.0 141.7"/>
<path d="M322.6 154.7C322.9 153.9 324.8 153.7 325.8 154.0C326.8 154.3 327.3 156.1 328.4 156.6C329.5 157.1 331.4 156.6 332.3 157.3C333.2 157.9 333.9 159.7 333.6 160.5C333.3 161.3 331.4 161.9 330.4 161.8C329.3 161.7 328.2 160.4 327.1 159.9C326.0 159.3 324.6 159.4 323.9 158.6C323.1 157.7 322.2 155.4 322.6 154.7Z"/>
<path d="M344.7 161.8C345.3 160.9 347.6 159.4 349.2 159.2C350.8 159.0 353.1 159.6 354.4 160.5C355.7 161.4 357.2 163.3 357.0 164.4C356.8 165.5 354.5 166.7 353.1 167.0C351.7 167.3 349.9 166.8 348.6 166.4C347.3 165.9 346.0 165.2 345.3 164.4C344.7 163.6 344.0 162.7 344.7 161.8Z"/>
<path d="M355.7 143.6C355.9 144.5 356.7 147.1 357.0 148.8C357.3 150.5 357.2 152.5 357.7 154.0C358.1 155.5 358.9 158.1 359.6 157.9C360.4 157.7 361.5 153.1 362.2 152.7C363.0 152.3 364.1 154.0 364.2 155.3C364.3 156.6 362.5 159.2 362.9 160.5C363.2 161.8 365.0 162.2 366.1 163.1C367.2 164.0 369.0 164.8 369.4 165.7C369.7 166.6 369.0 168.0 368.1 168.3C367.1 168.6 364.9 168.1 363.5 167.7C362.1 167.2 360.7 165.6 359.6 165.7C358.5 165.8 358.1 167.5 357.0 168.3C355.9 169.1 354.3 169.6 353.1 170.3C351.9 170.9 350.1 171.6 349.9 172.2C349.6 172.9 350.6 173.9 351.8 174.2C353.0 174.4 355.3 173.5 357.0 173.5C358.7 173.5 360.5 174.2 362.2 174.2C363.9 174.2 365.7 173.5 367.4 173.5C369.1 173.5 371.1 174.3 372.6 174.2C374.1 174.1 375.7 173.6 376.5 172.9C377.4 172.1 377.7 170.7 377.8 169.6C377.9 168.5 376.7 167.3 377.2 166.4C377.6 165.4 379.4 164.3 380.4 163.8C381.4 163.2 382.8 162.7 383.0 163.1C383.2 163.5 382.4 165.7 381.7 166.4C381.1 167.0 379.6 166.9 379.1 167.0"/>
<path d="M362.2 142.3C362.9 143.0 365.1 144.7 366.1 146.2C367.1 147.7 367.5 149.5 368.1 151.4C368.6 153.4 368.6 156.4 369.4 157.9C370.1 159.4 371.4 159.7 372.6 160.5C373.8 161.3 375.2 162.0 376.5 162.5C377.8 162.9 379.8 163.0 380.4 163.1"/>
<path d="M346.0 144.9C346.2 145.8 347.2 149.0 347.3 150.1C347.3 151.2 346.5 151.2 346.3 151.4"/>
<path d="M386.3 142.3 L389.5 171.6"/>
<path d="M394.1 144.3C394.8 145.0 397.0 147.3 398.6 148.8C400.2 150.3 402.1 152.1 403.8 153.4C405.6 154.7 407.3 155.5 409.0 156.6C410.8 157.7 412.3 159.0 414.2 159.9C416.2 160.7 418.6 161.4 420.7 161.8C422.9 162.2 425.5 162.1 427.2 162.5C429.0 162.8 430.6 163.0 431.1 163.8C431.7 164.5 431.1 166.1 430.5 167.0C429.8 167.9 428.6 168.3 427.2 169.0C425.8 169.6 423.8 170.3 422.0 170.9C420.3 171.6 418.6 172.6 416.8 172.9C415.1 173.1 413.4 172.4 411.6 172.2C409.9 172.0 408.2 171.7 406.4 171.6C404.7 171.5 403.0 171.6 401.2 171.6C399.5 171.5 397.8 171.1 396.0 171.2C394.3 171.3 392.6 171.9 390.8 172.2C389.1 172.6 387.4 172.9 385.6 173.2C383.9 173.6 381.9 174.2 380.4 174.2C378.9 174.1 377.2 173.1 376.5 172.9"/>
<path d="M390.8 171.7C392.1 171.5 396.0 170.6 398.6 170.4C401.2 170.2 403.8 170.4 406.4 170.6C409.0 170.9 412.9 171.7 414.2 171.9"/>
<path d="M357.0 178.7C357.0 178.1 359.6 177.4 360.9 177.4C362.2 177.4 363.5 178.6 364.8 178.7C366.1 178.8 367.6 177.8 368.7 178.1C369.8 178.3 371.3 179.5 371.3 180.0C371.3 180.6 369.8 181.2 368.7 181.3C367.6 181.4 366.1 180.7 364.8 180.7C363.5 180.7 362.2 181.6 360.9 181.3C359.6 181.0 357.0 179.4 357.0 178.7Z"/>
<path d="M375.2 176.1C375.7 175.3 377.8 175.1 379.1 175.1C380.4 175.1 381.7 176.2 383.0 176.1C384.3 176.1 385.6 174.9 386.9 174.8C388.2 174.7 389.7 174.9 390.8 175.5C391.9 176.0 392.6 177.1 393.4 178.1C394.3 179.0 395.2 180.2 396.0 181.3C396.9 182.4 398.0 183.6 398.6 184.6C399.3 185.5 400.1 186.8 399.9 187.2C399.7 187.5 398.2 187.1 397.3 186.5C396.5 186.0 395.6 184.8 394.7 183.9C393.9 183.0 393.0 181.5 392.1 181.3C391.3 181.1 390.4 182.8 389.5 182.6C388.7 182.4 387.8 180.2 386.9 180.0C386.1 179.8 385.2 180.6 384.3 181.3C383.5 182.1 382.6 184.3 381.7 184.6C380.9 184.8 380.0 183.4 379.1 182.6C378.3 181.9 377.2 181.1 376.5 180.0C375.9 178.9 374.8 176.9 375.2 176.1Z"/>
<path d="M396.0 173.5C396.7 172.8 399.5 172.9 401.2 172.9C403.0 172.9 405.0 173.1 406.4 173.5C407.8 173.9 409.2 174.7 409.7 175.5C410.1 176.2 409.8 177.5 409.0 178.1C408.3 178.6 406.2 178.8 405.1 178.7C404.0 178.6 403.4 177.3 402.5 177.4C401.7 177.5 400.8 179.4 399.9 179.4C399.1 179.4 398.0 178.4 397.3 177.4C396.7 176.4 395.4 174.3 396.0 173.5Z"/>
<path d="M414.9 175.5C415.1 175.0 416.4 174.6 416.8 174.8C417.3 175.0 417.7 176.3 417.5 176.8C417.3 177.2 416.0 177.6 415.5 177.4C415.1 177.2 414.7 175.9 414.9 175.5Z"/>
<path d="M437.6 165.1C438.3 164.6 441.1 163.8 442.8 163.4C444.6 162.9 447.2 162.3 448.0 162.5C448.9 162.6 448.9 163.9 448.0 164.4C447.2 164.9 444.4 165.4 442.8 165.7C441.3 166.0 439.8 166.5 438.9 166.4C438.1 166.2 437.0 165.6 437.6 165.1Z"/>
<path d="M405.8 188.5C406.2 187.9 407.3 185.2 407.7 185.2C408.2 185.2 408.8 187.9 408.4 188.5C408.0 189.0 405.8 188.6 405.4 188.6C405.0 188.6 405.4 189.0 405.8 188.5Z"/>
<path d="M760.8 197.8C761.1 197.5 762.8 197.6 764.0 198.3C765.2 198.9 766.7 200.7 768.0 201.8C769.3 202.9 770.8 203.7 772.0 205.0C773.2 206.3 774.5 208.3 775.2 209.8C775.9 211.3 775.5 212.6 776.0 213.8C776.5 215.0 777.3 215.8 777.9 217.0C778.5 218.2 779.4 219.9 779.5 221.0C779.7 222.1 779.5 223.3 778.9 223.9C778.3 224.5 776.8 224.9 776.0 224.5C775.2 224.2 774.5 222.9 774.1 221.8C773.7 220.7 774.0 219.1 773.6 217.8C773.2 216.5 772.1 215.3 771.5 213.8C770.9 212.3 770.6 210.3 769.9 209.0C769.2 207.7 768.1 206.9 767.2 205.8C766.3 204.7 765.6 203.5 764.8 202.6C764.0 201.7 763.1 201.0 762.4 200.2C761.7 199.4 760.5 198.1 760.8 197.8Z"/>
<path d="M768.0 202.6C768.6 203.4 770.6 205.7 771.5 207.4C772.5 209.1 773.0 211.0 773.6 213.0C774.2 215.0 774.7 217.7 775.2 219.4C775.7 221.1 776.1 222.7 776.3 223.4"/>
<path d="M539.2 294.8C539.9 294.3 542.8 293.7 544.0 294.0C545.2 294.3 546.5 295.7 546.4 296.4C546.3 297.1 544.3 297.9 543.2 298.0C542.1 298.1 540.7 297.7 540.0 297.2C539.3 296.7 538.5 295.3 539.2 294.8Z"/>
<path d="M551.0 298.0C551.1 297.3 552.8 296.5 553.0 297.0C553.2 297.5 552.8 300.8 552.5 301.0C552.2 301.2 550.9 298.7 551.0 298.0Z"/>
<path d="M633.6 299.6C634.1 299.2 636.5 298.5 637.6 298.8C638.7 299.1 640.0 300.5 640.0 301.2C640.0 301.9 638.5 302.8 637.6 302.8C636.7 302.8 635.1 301.7 634.4 301.2C633.7 300.7 633.1 300.0 633.6 299.6Z"/>
<path d="M504.8 312.2C505.6 311.5 508.0 310.8 509.6 310.4C511.2 310.0 513.2 309.6 514.4 309.8C515.6 310.0 517.0 311.0 516.8 311.6C516.6 312.2 514.4 313.0 513.2 313.4C512.0 313.8 510.6 313.6 509.6 314.0C508.6 314.4 508.0 315.7 507.2 315.8C506.4 315.9 505.2 315.2 504.8 314.6C504.4 314.0 504.0 312.9 504.8 312.2Z"/>
<path d="M502.4 317.0C502.6 316.6 503.8 316.0 504.2 316.2C504.6 316.3 505.0 317.5 504.8 317.9C504.6 318.3 503.4 318.7 503.0 318.6C502.6 318.4 502.2 317.4 502.4 317.0Z"/>
<path d="M498.2 318.8C498.4 318.5 499.4 318.1 499.7 318.2C500.0 318.4 500.2 319.4 500.0 319.8C499.8 320.1 498.9 320.4 498.6 320.3C498.3 320.1 498.0 319.2 498.2 318.8Z"/>
<path d="M483.8 323.0C484.4 322.4 486.3 321.2 487.4 321.2C488.5 321.2 489.4 322.8 490.4 323.0C491.4 323.3 492.6 322.5 493.4 322.7C494.2 322.9 495.3 323.7 495.2 324.2C495.1 324.8 493.8 325.9 492.8 326.0C491.8 326.1 490.3 324.9 489.2 324.8C488.1 324.8 487.1 325.8 486.2 325.8C485.3 325.8 484.2 325.3 483.8 324.8C483.4 324.4 483.2 323.6 483.8 323.0Z"/>
<path d="M487.4 330.2C487.7 329.8 488.9 329.4 489.2 329.6C489.6 329.9 489.7 331.3 489.5 331.8C489.2 332.2 488.1 332.5 487.8 332.3C487.4 332.0 487.2 330.7 487.4 330.2Z"/>
<path d="M470.0 331.4C470.3 330.8 471.9 329.6 472.4 329.6C472.9 329.6 473.3 330.8 473.0 331.4C472.8 332.1 471.5 333.5 471.0 333.5C470.5 333.5 469.8 332.1 470.0 331.4Z"/>
<path d="M539.6 294.8C540.3 294.4 543.3 294.4 544.4 294.6C545.5 294.8 546.4 295.5 546.2 296.0C546.0 296.5 544.2 297.3 543.2 297.4C542.2 297.6 540.8 297.4 540.2 297.0C539.6 296.5 538.9 295.2 539.6 294.8Z"/>
<path d="M551.0 297.8C551.1 297.3 552.6 296.8 552.8 297.2C553.0 297.6 552.5 300.1 552.2 300.2C551.9 300.3 550.9 298.3 551.0 297.8Z"/>
<path d="M443.8 418.9C444.0 417.8 444.7 414.2 445.2 412.4C445.7 410.7 446.0 409.6 446.6 408.2C447.2 406.8 448.0 405.7 448.7 404.0C449.4 402.4 450.1 400.1 450.8 398.4C451.5 396.8 452.1 395.4 452.9 394.2C453.7 393.1 454.9 392.6 455.7 391.4C456.5 390.3 457.0 388.6 457.8 387.2C458.6 385.8 459.9 384.4 460.6 383.0C461.3 381.6 461.3 380.2 462.0 378.8C462.7 377.4 463.8 375.4 464.8 374.6C465.9 373.8 467.2 374.5 468.3 373.9C469.5 373.3 470.5 372.2 471.8 371.1C473.1 370.1 474.6 368.8 476.0 367.6C477.4 366.5 479.1 365.3 480.2 364.1C481.4 363.0 482.1 361.9 483.0 360.6C484.0 359.3 484.7 357.7 485.8 356.4C487.0 355.1 488.6 354.0 490.0 352.9C491.4 351.9 492.8 350.9 494.2 350.1C495.6 349.3 497.0 348.8 498.4 348.0C499.8 347.2 501.2 346.1 502.6 345.2C504.0 344.3 505.2 343.3 506.8 342.4C508.5 341.5 510.6 340.4 512.4 339.6C514.3 338.8 516.4 338.0 518.0 337.5C519.7 337.0 521.3 336.2 522.2 336.8C523.2 337.4 523.5 339.6 523.6 341.0C523.8 342.4 523.5 344.6 522.9 345.2C522.4 345.8 521.2 344.7 520.1 344.5C519.1 344.3 517.9 343.6 516.6 343.8C515.4 344.0 513.6 345.0 512.4 345.9C511.3 346.8 510.5 348.1 509.6 349.4C508.8 350.7 508.5 352.3 507.5 353.6C506.6 354.9 505.3 356.2 504.0 357.1C502.7 358.0 501.1 358.4 499.8 359.2C498.5 360.0 497.5 360.8 496.3 362.0C495.2 363.2 494.1 365.1 492.8 366.2C491.5 367.4 490.0 368.2 488.6 369.0C487.2 369.8 485.7 370.3 484.4 371.1C483.1 371.9 482.0 372.9 480.9 373.9C479.9 375.0 478.9 376.1 478.1 377.4C477.3 378.7 476.4 380.0 476.0 381.6C475.7 383.3 475.6 385.6 476.0 387.2C476.5 388.9 477.9 390.0 478.8 391.4C479.8 392.8 480.7 394.7 481.6 395.6C482.6 396.6 483.5 397.3 484.4 397.0C485.4 396.8 486.4 395.3 487.2 394.2C488.0 393.2 489.3 391.7 489.3 390.7C489.3 389.8 487.6 389.0 487.2 388.6"/>
<path d="M508.2 352.2C508.5 350.8 509.9 350.1 511.0 349.4C512.2 348.7 514.1 347.9 515.2 348.0C516.4 348.1 517.8 349.2 518.0 350.1C518.3 351.0 516.4 352.6 516.6 353.6C516.9 354.7 518.7 355.2 519.4 356.4C520.1 357.6 521.1 359.4 520.8 360.6C520.6 361.8 519.0 363.3 518.0 363.4C517.1 363.5 516.2 361.9 515.2 361.3C514.3 360.7 513.4 360.5 512.4 359.9C511.5 359.3 510.3 359.1 509.6 357.8C508.9 356.5 508.0 353.6 508.2 352.2Z"/>
<path d="M525.7 333.3C526.2 332.8 527.8 332.4 528.5 332.6C529.2 332.8 529.1 334.2 529.9 334.7C530.8 335.2 532.2 334.9 533.4 335.4C534.7 335.9 536.7 336.8 537.6 337.5C538.6 338.2 539.5 339.0 539.0 339.6C538.6 340.2 536.0 341.0 534.8 341.0C533.7 341.0 532.9 339.4 532.0 339.6C531.2 339.8 530.8 342.2 529.9 342.4C529.1 342.6 527.5 341.8 527.1 341.0C526.8 340.2 528.1 338.4 527.8 337.5C527.6 336.6 526.1 336.1 525.7 335.4C525.4 334.7 525.3 333.8 525.7 333.3Z"/>
<path d="M458.5 367.6C458.7 366.2 460.3 363.5 461.3 362.0C462.4 360.5 463.9 358.7 464.8 358.5C465.8 358.3 466.8 359.6 466.9 360.6C467.0 361.7 465.3 363.9 465.5 364.8C465.8 365.8 468.2 365.4 468.3 366.2C468.4 367.0 467.3 369.4 466.2 369.7C465.2 370.1 463.1 368.2 462.0 368.3C461.0 368.4 460.5 370.5 459.9 370.4C459.3 370.3 458.3 369.0 458.5 367.6Z"/>
<path d="M471.8 353.6C472.3 352.8 473.3 352.4 473.9 352.9C474.5 353.4 475.4 355.4 475.3 356.4C475.2 357.5 473.9 359.0 473.2 359.2C472.5 359.4 471.4 358.7 471.1 357.8C470.9 356.9 471.4 354.4 471.8 353.6Z"/>
<path d="M443.8 388.6C444.0 387.5 445.2 385.4 445.9 385.1C446.6 384.9 447.8 386.2 448.0 387.2C448.2 388.3 447.9 390.6 447.3 391.4C446.7 392.2 445.1 392.6 444.5 392.1C443.9 391.7 443.6 389.8 443.8 388.6Z"/>
<path d="M487.2 345.9C487.6 345.2 488.7 344.7 488.9 345.2C489.1 345.7 489.0 348.0 488.6 348.7C488.3 349.4 487.2 349.9 486.9 349.4C486.7 348.9 486.9 346.6 487.2 345.9Z"/>
<path d="M446.4 407.2C445.9 408.5 444.0 412.8 443.2 415.2C442.4 417.6 441.5 419.5 441.6 421.6C441.7 423.7 443.9 425.6 444.0 428.0C444.1 430.4 442.5 433.3 442.4 436.0C442.3 438.7 442.7 441.6 443.2 444.0C443.7 446.4 445.6 448.5 445.6 450.4C445.6 452.3 444.0 453.6 443.2 455.2C442.4 456.8 441.2 459.2 440.8 460.0"/>
<path d="M425.6 426.4C425.5 424.4 426.4 420.8 427.2 418.4C428.0 416.0 429.2 413.5 430.4 412.0C431.6 410.5 433.3 409.3 434.4 409.6C435.5 409.9 436.7 411.9 436.8 413.6C436.9 415.3 435.1 418.1 435.2 420.0C435.3 421.9 437.5 423.2 437.6 424.8C437.7 426.4 436.9 428.5 436.0 429.6C435.1 430.7 433.3 431.1 432.0 431.2C430.7 431.3 429.1 431.2 428.0 430.4C426.9 429.6 425.7 428.4 425.6 426.4Z"/>
<path d="M444.8 389.6C445.0 388.5 446.7 385.7 447.2 385.6C447.7 385.5 448.2 387.7 448.0 388.8C447.8 389.9 446.6 391.9 446.1 392.0C445.5 392.1 444.6 390.7 444.8 389.6Z"/>
<path d="M439.2 397.6C439.5 396.8 440.9 395.6 441.3 396.0C441.6 396.4 441.6 399.2 441.3 400.0C441.0 400.8 439.9 401.2 439.5 400.8C439.2 400.4 438.9 398.4 439.2 397.6Z"/>
<path d="M464.0 397.6C464.5 398.1 465.9 400.5 467.2 400.8C468.5 401.1 470.8 398.7 472.0 399.2C473.2 399.7 474.3 402.7 474.4 404.0C474.5 405.3 473.1 406.7 472.8 407.2"/>
<path d="M454.4 409.6C454.1 410.3 452.7 411.9 452.8 413.6C452.9 415.3 455.1 417.6 455.2 420.0C455.3 422.4 453.3 425.6 453.6 428.0C453.9 430.4 456.5 432.5 456.8 434.4C457.1 436.3 455.1 437.6 455.2 439.2C455.3 440.8 456.5 442.8 457.6 444.0C458.7 445.2 460.1 446.5 461.6 446.4C463.1 446.3 464.9 444.1 466.4 443.2C467.9 442.3 469.3 441.1 470.4 440.8C471.5 440.5 473.1 440.8 472.8 441.6C472.5 442.4 469.2 443.9 468.8 445.6C468.4 447.3 469.3 450.4 470.4 452.0C471.5 453.6 473.9 453.9 475.2 455.2C476.5 456.5 477.5 458.4 478.4 460.0C479.3 461.6 480.8 463.2 480.8 464.8C480.8 466.4 478.3 468.0 478.4 469.6C478.5 471.2 481.3 472.8 481.6 474.4C481.9 476.0 479.7 477.6 480.0 479.2C480.3 480.8 482.3 482.1 483.2 484.0C484.1 485.9 484.9 488.9 485.6 490.4C486.3 491.9 486.9 492.5 487.2 493.0"/>
<path d="M412.0 458.0C413.5 456.5 417.7 453.8 420.0 454.0C422.3 454.2 424.3 456.5 426.0 459.0C427.7 461.5 428.3 465.7 430.0 469.0C431.7 472.3 434.3 475.3 436.0 479.0C437.7 482.7 438.7 487.0 440.0 491.0C441.3 495.0 443.0 499.0 444.0 503.0C445.0 507.0 446.3 511.3 446.0 515.0C445.7 518.7 444.0 522.5 442.0 525.0C440.0 527.5 437.0 529.0 434.0 530.0C431.0 531.0 426.7 531.5 424.0 531.0C421.3 530.5 418.7 528.3 418.0 527.0C417.3 525.7 418.3 523.5 420.0 523.0C421.7 522.5 425.5 524.5 428.0 524.0C430.5 523.5 433.3 522.2 435.0 520.0C436.7 517.8 437.8 514.5 438.0 511.0C438.2 507.5 437.0 503.0 436.0 499.0C435.0 495.0 433.3 490.7 432.0 487.0C430.7 483.3 429.7 480.0 428.0 477.0C426.3 474.0 424.0 471.0 422.0 469.0C420.0 467.0 417.8 466.0 416.0 465.0C414.2 464.0 411.7 464.2 411.0 463.0C410.3 461.8 410.5 459.5 412.0 458.0Z"/>
<path d="M418.0 459.0C419.0 459.3 422.2 459.3 424.0 461.0C425.8 462.7 427.2 466.0 429.0 469.0C430.8 472.0 433.2 475.7 435.0 479.0C436.8 482.3 438.2 485.3 440.0 489.0C441.8 492.7 444.2 496.7 446.0 501.0C447.8 505.3 449.8 510.7 451.0 515.0C452.2 519.3 453.2 523.0 453.0 527.0C452.8 531.0 451.5 535.7 450.0 539.0C448.5 542.3 446.3 545.0 444.0 547.0C441.7 549.0 438.7 550.2 436.0 551.0C433.3 551.8 429.3 551.8 428.0 552.0"/>
<path d="M390.0 505.0C390.5 503.8 394.3 502.7 396.0 501.0C397.7 499.3 398.5 496.2 400.0 495.0C401.5 493.8 403.8 493.7 405.0 494.0C406.2 494.3 407.5 495.8 407.0 497.0C406.5 498.2 403.3 499.5 402.0 501.0C400.7 502.5 400.5 504.8 399.0 506.0C397.5 507.2 394.5 508.2 393.0 508.0C391.5 507.8 389.5 506.2 390.0 505.0Z"/>
<path d="M389.0 484.0C389.6 482.7 391.7 480.5 393.0 480.0C394.3 479.5 396.3 480.0 397.0 481.0C397.7 482.0 397.7 484.7 397.0 486.0C396.3 487.3 394.2 488.7 393.0 489.0C391.8 489.3 390.3 488.8 389.6 488.0C388.9 487.2 388.4 485.3 389.0 484.0Z"/>
<path d="M406.0 471.0C406.5 470.1 408.8 468.8 410.0 469.0C411.2 469.2 412.8 471.0 413.0 472.0C413.2 473.0 412.0 474.6 411.0 475.0C410.0 475.4 407.8 475.3 407.0 474.6C406.2 473.9 405.5 471.9 406.0 471.0Z"/>
<path d="M401.0 513.0C401.5 511.2 404.5 509.2 406.0 509.0C407.5 508.8 408.7 512.3 410.0 512.0C411.3 511.7 412.7 507.2 414.0 507.0C415.3 506.8 416.7 511.2 418.0 511.0C419.3 510.8 420.7 506.0 422.0 506.0C423.3 506.0 424.7 509.5 426.0 511.0C427.3 512.5 430.0 513.5 430.0 515.0C430.0 516.5 427.7 519.3 426.0 520.0C424.3 520.7 421.5 518.3 420.0 519.0C418.5 519.7 418.3 523.8 417.0 524.0C415.7 524.2 413.5 520.0 412.0 520.0C410.5 520.0 409.5 524.0 408.0 524.0C406.5 524.0 404.2 521.8 403.0 520.0C401.8 518.2 400.5 514.8 401.0 513.0Z"/>
<path d="M405.0 541.0C405.3 539.0 407.8 538.7 409.0 539.0C410.2 539.3 411.7 541.3 412.0 543.0C412.3 544.7 411.8 547.7 411.0 549.0C410.2 550.3 408.0 552.3 407.0 551.0C406.0 549.7 404.7 543.0 405.0 541.0Z"/>
<path d="M480.0 480.0C480.5 480.8 481.9 483.5 483.2 484.8C484.5 486.1 487.5 486.4 488.0 488.0C488.5 489.6 487.2 492.5 486.4 494.4C485.6 496.3 483.2 497.6 483.2 499.2C483.2 500.8 485.3 502.7 486.4 504.0C487.5 505.3 489.3 505.9 489.6 507.2C489.9 508.5 488.5 510.1 488.0 512.0C487.5 513.9 486.1 516.3 486.4 518.4C486.7 520.5 488.5 523.2 489.6 524.8C490.7 526.4 492.5 526.4 492.8 528.0C493.1 529.6 492.0 533.1 491.2 534.4C490.4 535.7 489.1 536.0 488.0 536.0C486.9 536.0 485.1 533.6 484.8 534.4C484.5 535.2 485.6 539.2 486.4 540.8C487.2 542.4 489.3 542.4 489.6 544.0C489.9 545.6 488.8 548.8 488.0 550.4C487.2 552.0 484.8 552.5 484.8 553.6C484.8 554.7 487.7 555.5 488.0 556.8C488.3 558.1 487.5 560.3 486.4 561.6C485.3 562.9 482.9 563.5 481.6 564.8C480.3 566.1 479.3 568.0 478.4 569.6C477.5 571.2 476.0 573.3 476.0 574.4C476.0 575.5 479.1 574.9 478.4 576.0C477.7 577.1 474.4 579.2 472.0 580.8C469.6 582.4 466.7 584.0 464.0 585.6C461.3 587.2 458.4 589.2 456.0 590.4C453.6 591.6 450.7 592.5 449.6 593.0"/>
<path d="M480.0 572.8C478.9 573.9 476.3 576.5 473.6 579.2C470.9 581.9 466.9 585.9 464.0 588.8C461.1 591.7 458.4 594.4 456.0 596.8C453.6 599.2 451.2 601.6 449.6 603.2C448.0 604.8 448.3 605.6 446.4 606.4C444.5 607.2 441.1 607.6 438.4 608.0C435.7 608.4 433.1 608.4 430.4 608.8C427.7 609.2 424.3 609.7 422.4 610.4C420.5 611.1 419.2 611.6 419.2 612.8C419.2 614.0 420.8 616.0 422.4 617.6C424.0 619.2 426.7 621.2 428.8 622.4C430.9 623.6 433.1 624.3 435.2 624.8C437.3 625.3 440.7 624.7 441.6 625.6C442.5 626.5 441.6 628.8 440.8 630.4C440.0 632.0 437.7 633.9 436.8 635.2C435.9 636.5 436.5 638.1 435.2 638.4C433.9 638.7 430.9 637.3 428.8 636.8C426.7 636.3 424.8 635.3 422.4 635.2C420.0 635.1 416.5 635.5 414.4 636.0C412.3 636.5 409.9 637.5 409.6 638.4C409.3 639.3 411.2 641.3 412.8 641.6C414.4 641.9 417.1 640.0 419.2 640.0C421.3 640.0 424.0 640.5 425.6 641.6C427.2 642.7 428.5 644.5 428.8 646.4C429.1 648.3 428.3 651.2 427.2 652.8C426.1 654.4 424.3 655.6 422.4 656.0C420.5 656.4 418.1 655.7 416.0 655.2C413.9 654.7 411.5 653.7 409.6 652.8C407.7 651.9 406.1 650.5 404.8 649.6C403.5 648.7 401.6 646.4 401.6 647.2C401.6 648.0 403.2 652.4 404.8 654.4C406.4 656.4 408.8 657.9 411.2 659.2C413.6 660.5 416.3 662.0 419.2 662.4C422.1 662.8 426.1 661.6 428.8 661.6C431.5 661.6 433.9 661.7 435.2 662.4C436.5 663.1 436.5 665.1 436.8 665.6"/>
<path d="M452.8 656.0C452.9 654.1 453.3 651.7 454.4 649.6C455.5 647.5 457.6 645.1 459.2 643.2C460.8 641.3 462.7 639.7 464.0 638.4C465.3 637.1 466.9 634.7 467.2 635.2C467.5 635.7 466.4 639.2 465.6 641.6C464.8 644.0 463.5 646.9 462.4 649.6C461.3 652.3 460.3 655.5 459.2 657.6C458.1 659.7 456.9 661.9 456.0 662.4C455.1 662.9 454.1 661.9 453.6 660.8C453.1 659.7 452.7 657.9 452.8 656.0Z"/>
<path d="M464.8 656.0C465.1 654.7 466.3 653.1 467.2 652.8C468.1 652.5 469.6 653.3 470.4 654.4C471.2 655.5 470.9 657.9 472.0 659.2C473.1 660.5 476.5 661.6 476.8 662.4C477.1 663.2 474.9 664.0 473.6 664.0C472.3 664.0 470.1 662.9 468.8 662.4C467.5 661.9 466.3 661.9 465.6 660.8C464.9 659.7 464.5 657.3 464.8 656.0Z"/>
<path d="M360.0 569.6C358.9 570.1 355.5 572.8 353.6 572.8C351.7 572.8 350.4 569.9 348.8 569.6C347.2 569.3 345.6 571.7 344.0 571.2C342.4 570.7 340.8 567.3 339.2 566.4C337.6 565.5 335.7 565.1 334.4 565.6C333.1 566.1 331.5 567.9 331.2 569.6C330.9 571.3 333.3 574.1 332.8 576.0C332.3 577.9 329.3 580.8 328.0 580.8C326.7 580.8 325.6 577.6 324.8 576.0C324.0 574.4 324.0 572.3 323.2 571.2C322.4 570.1 320.8 569.3 320.0 569.6C319.2 569.9 318.1 571.2 318.4 572.8C318.7 574.4 320.5 577.3 321.6 579.2C322.7 581.1 325.3 582.4 324.8 584.0C324.3 585.6 320.5 587.5 318.4 588.8C316.3 590.1 314.1 590.7 312.0 592.0C309.9 593.3 307.7 595.5 305.6 596.8C303.5 598.1 301.3 599.3 299.2 600.0C297.1 600.7 294.7 600.0 292.8 600.8C290.9 601.6 289.6 603.6 288.0 604.8C286.4 606.0 284.8 606.9 283.2 608.0C281.6 609.1 280.3 610.3 278.4 611.2C276.5 612.1 273.6 612.8 272.0 613.6C270.4 614.4 269.1 615.1 268.8 616.0C268.5 616.9 269.3 618.4 270.4 619.2C271.5 620.0 273.6 620.9 275.2 620.8C276.8 620.7 278.4 619.5 280.0 618.4C281.6 617.3 283.2 615.5 284.8 614.4C286.4 613.3 288.0 612.3 289.6 612.0C291.2 611.7 293.9 611.9 294.4 612.8C294.9 613.7 293.9 616.3 292.8 617.6C291.7 618.9 289.6 619.7 288.0 620.8C286.4 621.9 284.3 622.9 283.2 624.0C282.1 625.1 281.1 626.3 281.6 627.2C282.1 628.1 284.5 629.3 286.4 629.6C288.3 629.9 290.9 628.4 292.8 628.8C294.7 629.2 296.0 631.6 297.6 632.0C299.2 632.4 301.1 630.7 302.4 631.2C303.7 631.7 304.0 634.7 305.6 635.2C307.2 635.7 310.1 634.1 312.0 634.4C313.9 634.7 316.3 635.6 316.8 636.8C317.3 638.0 316.3 640.3 315.2 641.6C314.1 642.9 312.0 643.9 310.4 644.8C308.8 645.7 307.2 646.9 305.6 647.2C304.0 647.5 302.4 646.0 300.8 646.4C299.2 646.8 297.3 648.3 296.0 649.6C294.7 650.9 293.6 652.5 292.8 654.4C292.0 656.3 291.7 658.9 291.2 660.8C290.7 662.7 289.9 664.8 289.6 665.6"/>
<path d="M261.6 601.6C261.3 600.9 262.5 599.2 264.0 597.6C265.5 596.0 268.5 594.0 270.4 592.0C272.3 590.0 273.6 587.2 275.2 585.6C276.8 584.0 278.9 582.4 280.0 582.4C281.1 582.4 280.8 585.9 281.6 585.6C282.4 585.3 283.7 582.4 284.8 580.8C285.9 579.2 286.7 576.5 288.0 576.0C289.3 575.5 291.5 576.5 292.8 577.6C294.1 578.7 295.7 580.9 296.0 582.4C296.3 583.9 295.2 586.1 294.4 586.4C293.6 586.7 292.0 583.6 291.2 584.0C290.4 584.4 290.7 587.5 289.6 588.8C288.5 590.1 286.4 591.1 284.8 592.0C283.2 592.9 281.6 593.7 280.0 594.4C278.4 595.1 276.8 595.3 275.2 596.0C273.6 596.7 272.0 597.5 270.4 598.4C268.8 599.3 267.1 601.1 265.6 601.6C264.1 602.1 261.9 602.3 261.6 601.6Z"/>
<path d="M262.4 625.6C262.8 625.1 264.7 624.5 265.6 624.8C266.5 625.1 268.0 626.5 268.0 627.2C268.0 627.9 266.4 628.7 265.6 628.8C264.8 628.9 263.7 628.5 263.2 628.0C262.7 627.5 262.0 626.1 262.4 625.6Z"/>
<path d="M300.8 580.8C301.2 580.1 303.6 579.5 304.0 580.0C304.4 580.5 303.6 583.3 303.2 584.0C302.8 584.7 302.0 584.5 301.6 584.0C301.2 583.5 300.4 581.5 300.8 580.8Z"/>
<path d="M320.0 569.6C320.8 570.1 323.2 572.5 324.8 572.8C326.4 573.1 327.7 572.0 329.6 571.2C331.5 570.4 334.4 568.8 336.0 568.0C337.6 567.2 337.9 565.9 339.2 566.4C340.5 566.9 341.9 570.7 344.0 571.2C346.1 571.7 349.6 570.4 352.0 569.6C354.4 568.8 356.3 566.4 358.4 566.4C360.5 566.4 362.7 568.9 364.8 569.6C366.9 570.3 369.1 570.7 371.2 570.4C373.3 570.1 376.1 569.2 377.6 568.0C379.1 566.8 379.7 564.5 380.0 563.2C380.3 561.9 379.3 560.5 379.2 560.0"/>
<path d="M374.0 560.0C375.0 559.2 378.7 556.5 380.0 555.0C381.3 553.5 380.7 551.3 382.0 551.0C383.3 550.7 386.0 552.3 388.0 553.0C390.0 553.7 392.0 555.0 394.0 555.0C396.0 555.0 398.0 553.7 400.0 553.0C402.0 552.3 404.0 551.0 406.0 551.0C408.0 551.0 410.0 553.3 412.0 553.0C414.0 552.7 416.0 550.3 418.0 549.0C420.0 547.7 422.0 546.3 424.0 545.0C426.0 543.7 427.3 542.3 430.0 541.0C432.7 539.7 437.0 538.3 440.0 537.0C443.0 535.7 446.0 534.7 448.0 533.0C450.0 531.3 451.0 528.7 452.0 527.0C453.0 525.3 453.7 523.7 454.0 523.0"/>
<path d="M408.0 541.0C408.7 540.2 410.3 538.5 411.0 539.0C411.7 539.5 412.3 542.7 412.0 544.0C411.7 545.3 409.8 547.0 409.0 547.0C408.2 547.0 407.2 545.0 407.0 544.0C406.8 543.0 407.3 541.8 408.0 541.0Z"/>
<path d="M415.0 542.0C415.4 541.3 417.5 540.5 418.0 541.0C418.5 541.5 418.4 544.3 418.0 545.0C417.6 545.7 416.1 545.9 415.6 545.4C415.1 544.9 414.6 542.7 415.0 542.0Z"/>
<path d="M418.0 527.0C418.7 526.0 422.0 524.3 424.0 524.0C426.0 523.7 428.7 524.7 430.0 525.0C431.3 525.3 432.3 525.3 432.0 526.0C431.7 526.7 430.0 528.3 428.0 529.0C426.0 529.7 421.7 530.3 420.0 530.0C418.3 529.7 417.3 528.0 418.0 527.0Z"/>
<path d="M581.0 666.0C581.2 664.0 580.5 657.3 582.0 654.0C583.5 650.7 587.0 648.3 590.0 646.0C593.0 643.7 596.3 641.7 600.0 640.0C603.7 638.3 607.3 637.2 612.0 636.0C616.7 634.8 622.7 633.3 628.0 633.0C633.3 632.7 639.3 633.5 644.0 634.0C648.7 634.5 652.3 634.7 656.0 636.0C659.7 637.3 663.0 640.7 666.0 642.0C669.0 643.3 671.7 643.0 674.0 644.0C676.3 645.0 678.3 648.3 680.0 648.0C681.7 647.7 682.0 643.5 684.0 642.0C686.0 640.5 689.3 640.0 692.0 639.0C694.7 638.0 698.0 635.5 700.0 636.0C702.0 636.5 702.7 640.8 704.0 642.0C705.3 643.2 706.3 643.5 708.0 643.0C709.7 642.5 713.7 640.5 714.0 639.0C714.3 637.5 710.3 635.8 710.0 634.0C709.7 632.2 710.3 629.5 712.0 628.0C713.7 626.5 717.3 625.0 720.0 625.0C722.7 625.0 725.7 627.8 728.0 628.0C730.3 628.2 732.0 625.7 734.0 626.0C736.0 626.3 737.7 628.8 740.0 630.0C742.3 631.2 745.7 633.0 748.0 633.0C750.3 633.0 752.0 630.8 754.0 630.0C756.0 629.2 759.0 628.3 760.0 628.0"/>
<path d="M760.0 619.5C759.6 619.1 757.5 617.8 757.5 617.0C757.5 616.2 759.0 615.0 760.0 615.0C761.0 615.0 762.9 615.6 763.8 617.0C764.6 618.4 764.0 622.0 765.0 623.2C766.0 624.5 768.8 623.7 770.0 624.5C771.2 625.3 772.5 626.8 772.5 628.2C772.5 629.7 770.0 631.6 770.0 633.2C770.0 634.9 770.8 637.6 772.5 638.2C774.2 638.9 777.9 637.8 780.0 637.0C782.1 636.2 782.9 633.5 785.0 633.2C787.1 633.0 790.8 634.5 792.5 635.8C794.2 637.0 795.4 639.3 795.0 640.8C794.6 642.2 791.5 643.5 790.0 644.5C788.5 645.5 785.8 645.5 786.2 647.0C786.7 648.5 791.0 651.2 792.5 653.2C794.0 655.3 794.0 657.6 795.0 659.5C796.0 661.4 798.1 663.7 798.8 664.5"/>
<path d="M796.2 634.5C796.5 633.9 798.2 632.9 798.8 633.2C799.3 633.6 799.8 635.9 799.5 636.5C799.2 637.1 797.5 637.3 797.0 637.0C796.5 636.7 796.0 635.1 796.2 634.5Z"/>
<path d="M797.5 659.5C797.9 658.5 800.0 655.8 801.2 654.5C802.5 653.2 804.0 651.6 805.0 652.0C806.0 652.4 807.7 655.5 807.5 657.0C807.3 658.5 805.2 660.1 803.8 660.8C802.3 661.4 799.8 661.0 798.8 660.8C797.7 660.5 797.1 660.5 797.5 659.5Z"/>
<path d="M808.8 649.5C809.2 648.7 811.7 648.6 812.5 649.0C813.3 649.4 814.2 651.2 813.8 652.0C813.3 652.8 810.8 654.4 810.0 654.0C809.2 653.6 808.3 650.3 808.8 649.5Z"/>
<path d="M683.0 617.0C683.7 615.8 686.2 616.7 688.0 616.0C689.8 615.3 693.3 612.8 694.0 613.0C694.7 613.2 693.0 615.5 692.0 617.0C691.0 618.5 689.2 620.3 688.0 622.0C686.8 623.7 685.7 626.8 685.0 627.0C684.3 627.2 684.3 624.7 684.0 623.0C683.7 621.3 682.3 618.2 683.0 617.0Z"/>
<path d="M725.0 613.0C725.4 612.7 726.8 613.3 727.0 614.0C727.2 614.7 726.4 616.7 726.0 617.0C725.6 617.3 724.6 616.7 724.4 616.0C724.2 615.3 724.6 613.3 725.0 613.0Z"/>
<path d="M746.0 622.0C746.2 621.3 747.5 620.7 748.0 621.0C748.5 621.3 749.2 623.3 749.0 624.0C748.8 624.7 747.5 625.3 747.0 625.0C746.5 624.7 745.8 622.7 746.0 622.0Z"/>
<path d="M527.2 662.4C527.5 660.5 528.0 654.9 528.8 651.2C529.6 647.5 530.5 643.1 532.0 640.0C533.5 636.9 535.6 634.5 537.6 632.8C539.6 631.1 541.9 629.9 544.0 629.6C546.1 629.3 548.5 630.0 550.4 631.2C552.3 632.4 554.1 634.8 555.2 636.8C556.3 638.8 556.8 641.3 556.8 643.2C556.8 645.1 556.0 646.9 555.2 648.0C554.4 649.1 552.3 648.3 552.0 649.6C551.7 650.9 553.2 653.6 553.6 656.0C554.0 658.4 554.3 662.7 554.4 664.0"/>
<path d="M534.4 656.0C534.1 654.8 535.3 652.5 536.0 652.0C536.7 651.5 537.7 651.9 538.4 652.8C539.1 653.7 540.1 656.5 540.0 657.6C539.9 658.7 538.5 659.5 537.6 659.2C536.7 658.9 534.7 657.2 534.4 656.0Z"/>
<path d="M548.8 635.2C549.2 634.8 551.1 635.7 552.0 636.8C552.9 637.9 554.4 640.5 554.4 641.6C554.4 642.7 552.8 643.6 552.0 643.2C551.2 642.8 550.1 640.5 549.6 639.2C549.1 637.9 548.4 635.6 548.8 635.2Z"/>
<path d="M836.0 341.0C836.2 340.5 838.2 340.5 838.4 341.0C838.6 341.5 837.8 344.0 837.4 344.0C837.0 344.0 835.8 341.5 836.0 341.0Z"/>
</g>
<g transform="translate(261.5 144.5) rotate(-15.0)"><rect x="-9.6" y="-4.2" width="19.2" height="8.4" fill="#fff"/><text class="lb" x="0" y="2.7">1016</text></g>
<g transform="translate(304.5 162.5) rotate(-12.0)"><rect x="-9.6" y="-4.2" width="19.2" height="8.4" fill="#fff"/><text class="lb" x="0" y="2.7">1012</text></g>
<g transform="translate(419.5 146.0) rotate(-20.0)"><rect x="-9.6" y="-4.2" width="19.2" height="8.4" fill="#fff"/><text class="lb" x="0" y="2.7">1008</text></g>
<g transform="translate(214.0 225.5) rotate(-20.0)"><rect x="-9.6" y="-4.2" width="19.2" height="8.4" fill="#fff"/><text class="lb" x="0" y="2.7">1004</text></g>
<g transform="translate(207.0 251.5) rotate(-15.0)"><rect x="-9.6" y="-4.2" width="19.2" height="8.4" fill="#fff"/><text class="lb" x="0" y="2.7">1000</text></g>
<g transform="translate(519.0 171.0) rotate(8.0)"><rect x="-9.6" y="-4.2" width="19.2" height="8.4" fill="#fff"/><text class="lb" x="0" y="2.7">1004</text></g>
<g transform="translate(508.0 197.0) rotate(5.0)"><rect x="-9.6" y="-4.2" width="19.2" height="8.4" fill="#fff"/><text class="lb" x="0" y="2.7">1000</text></g>
<g transform="translate(486.5 217.5) rotate(3.0)"><rect x="-7.4" y="-4.2" width="14.9" height="8.4" fill="#fff"/><text class="lb" x="0" y="2.7">996</text></g>
<g transform="translate(445.0 234.5) rotate(-3.0)"><rect x="-7.4" y="-4.2" width="14.9" height="8.4" fill="#fff"/><text class="lb" x="0" y="2.7">992</text></g>
<g transform="translate(407.5 260.0) rotate(-8.0)"><rect x="-7.4" y="-4.2" width="14.9" height="8.4" fill="#fff"/><text class="lb" x="0" y="2.7">988</text></g>
<g transform="translate(805.0 146.5) rotate(-5.0)"><rect x="-9.6" y="-4.2" width="19.2" height="8.4" fill="#fff"/><text class="lb" x="0" y="2.7">1008</text></g>
<g transform="translate(823.5 187.0) rotate(8.0)"><rect x="-9.6" y="-4.2" width="19.2" height="8.4" fill="#fff"/><text class="lb" x="0" y="2.7">1004</text></g>
<g transform="translate(823.0 221.0) rotate(20.0)"><rect x="-9.6" y="-4.2" width="19.2" height="8.4" fill="#fff"/><text class="lb" x="0" y="2.7">1000</text></g>
<g transform="translate(793.0 243.5) rotate(28.0)"><rect x="-7.4" y="-4.2" width="14.9" height="8.4" fill="#fff"/><text class="lb" x="0" y="2.7">996</text></g>
<g transform="translate(799.0 276.0) rotate(8.0)"><rect x="-7.4" y="-4.2" width="14.9" height="8.4" fill="#fff"/><text class="lb" x="0" y="2.7">992</text></g>
<g transform="translate(757.0 301.5) rotate(3.0)"><rect x="-7.4" y="-4.2" width="14.9" height="8.4" fill="#fff"/><text class="lb" x="0" y="2.7">988</text></g>
<g transform="translate(651.0 339.0) rotate(55.0)"><rect x="-7.4" y="-4.2" width="14.9" height="8.4" fill="#fff"/><text class="lb" x="0" y="2.7">988</text></g>
<g transform="translate(192.0 328.0) rotate(-30.0)"><rect x="-7.4" y="-4.2" width="14.9" height="8.4" fill="#fff"/><text class="lb" x="0" y="2.7">984</text></g>
<g transform="translate(214.0 354.0) rotate(0.0)"><rect x="-7.4" y="-4.2" width="14.9" height="8.4" fill="#fff"/><text class="lb" x="0" y="2.7">976</text></g>
<g transform="translate(568.0 370.0) rotate(-80.0)"><rect x="-7.4" y="-4.2" width="14.9" height="8.4" fill="#fff"/><text class="lb" x="0" y="2.7">976</text></g>
<g transform="translate(526.5 424.5) rotate(15.0)"><rect x="-7.4" y="-4.2" width="14.9" height="8.4" fill="#fff"/><text class="lb" x="0" y="2.7">984</text></g>
<g transform="translate(537.0 491.5) rotate(-20.0)"><rect x="-7.4" y="-4.2" width="14.9" height="8.4" fill="#fff"/><text class="lb" x="0" y="2.7">992</text></g>
<g transform="translate(400.0 442.5) rotate(-90.0)"><rect x="-7.4" y="-4.2" width="14.9" height="8.4" fill="#fff"/><text class="lb" x="0" y="2.7">990</text></g>
<g transform="translate(450.0 537.0) rotate(-75.0)"><rect x="-7.4" y="-4.2" width="14.9" height="8.4" fill="#fff"/><text class="lb" x="0" y="2.7">984</text></g>
<g transform="translate(508.5 630.5) rotate(80.0)"><rect x="-7.4" y="-4.2" width="14.9" height="8.4" fill="#fff"/><text class="lb" x="0" y="2.7">996</text></g>
<rect x="487.0" y="161.4" width="15" height="7.4" fill="#fff"/><text class="ax" x="487.5" y="167.6">55°S</text>
<rect x="487.0" y="264.8" width="15" height="7.4" fill="#fff"/><text class="ax" x="487.5" y="271.0">60°S</text>
<rect x="487.0" y="366.6" width="15" height="7.4" fill="#fff"/><text class="ax" x="487.5" y="372.8">65°S</text>
<rect x="487.0" y="465.8" width="15" height="7.4" fill="#fff"/><text class="ax" x="487.5" y="472.0">70°S</text>
<rect x="487.0" y="562.8" width="15" height="7.4" fill="#fff"/><text class="ax" x="487.5" y="569.0">75°S</text>
</g>
<rect x="160.5" y="141.5" width="683.0" height="523.0" fill="none" stroke="#444" stroke-width="1.1"/>
<text class="ax" x="159.9" y="137.5" text-anchor="middle">85°W</text>
<text class="ax" x="233.3" y="137.5" text-anchor="middle">80°W</text>
<text class="ax" x="302.2" y="137.5" text-anchor="middle">75°W</text>
<text class="ax" x="367.9" y="137.5" text-anchor="middle">70°W</text>
<text class="ax" x="431.6" y="137.5" text-anchor="middle">65°W</text>
<text class="ax" x="494.4" y="137.5" text-anchor="middle">60°W</text>
<text class="ax" x="557.2" y="137.5" text-anchor="middle">55°W</text>
<text class="ax" x="620.9" y="137.5" text-anchor="middle">50°W</text>
<text class="ax" x="686.6" y="137.5" text-anchor="middle">45°W</text>
<text class="ax" x="755.5" y="137.5" text-anchor="middle">40°W</text>
<text class="ax" x="828.9" y="137.5" text-anchor="middle">35°W</text>
<text class="ax" x="157.0" y="281.8" text-anchor="end">90°W</text>
<text class="ax" x="157.0" y="383.2" text-anchor="end">95°W</text>
<text class="ax" x="157.0" y="462.2" text-anchor="end">100°W</text>
<text class="ax" x="157.0" y="526.2" text-anchor="end">105°W</text>
<text class="ax" x="157.0" y="579.9" text-anchor="end">110°W</text>
<text class="ax" x="157.0" y="626.3" text-anchor="end">115°W</text>
<text class="ax" x="157.0" y="667.3" text-anchor="end">120°W</text>
<text class="ax" x="848.0" y="254.7" text-anchor="start">30°W</text>
<text class="ax" x="848.0" y="360.8" text-anchor="start">25°W</text>
<text class="ax" x="848.0" y="443.4" text-anchor="start">20°W</text>
<text class="ax" x="848.0" y="510.3" text-anchor="start">15°W</text>
<text class="ax" x="848.0" y="566.5" text-anchor="start">10°W</text>
<text class="ax" x="848.0" y="615.0" text-anchor="start">5°W</text>
<text class="ax" x="848.0" y="657.8" text-anchor="start">0°E</text>
<text class="ax" x="156.9" y="672.3" text-anchor="middle">120°W</text>
<text class="ax" x="215.9" y="672.3" text-anchor="middle">115°W</text>
<text class="ax" x="261.8" y="672.3" text-anchor="middle">110°W</text>
<text class="ax" x="299.1" y="672.3" text-anchor="middle">105°W</text>
<text class="ax" x="330.4" y="672.3" text-anchor="middle">100°W</text>
<text class="ax" x="357.3" y="672.3" text-anchor="middle">95°W</text>
<text class="ax" x="381.2" y="672.3" text-anchor="middle">90°W</text>
<text class="ax" x="402.8" y="672.3" text-anchor="middle">85°W</text>
<text class="ax" x="422.7" y="672.3" text-anchor="middle">80°W</text>
<text class="ax" x="441.3" y="672.3" text-anchor="middle">75°W</text>
<text class="ax" x="459.1" y="672.3" text-anchor="middle">70°W</text>
<text class="ax" x="476.4" y="672.3" text-anchor="middle">65°W</text>
<text class="ax" x="493.4" y="672.3" text-anchor="middle">60°W</text>
<text class="ax" x="510.4" y="672.3" text-anchor="middle">55°W</text>
<text class="ax" x="527.7" y="672.3" text-anchor="middle">50°W</text>
<text class="ax" x="545.5" y="672.3" text-anchor="middle">45°W</text>
<text class="ax" x="564.1" y="672.3" text-anchor="middle">40°W</text>
<text class="ax" x="584.0" y="672.3" text-anchor="middle">35°W</text>
<text class="ax" x="605.6" y="672.3" text-anchor="middle">30°W</text>
<text class="ax" x="629.5" y="672.3" text-anchor="middle">25°W</text>
<text class="ax" x="656.4" y="672.3" text-anchor="middle">20°W</text>
<text class="ax" x="687.7" y="672.3" text-anchor="middle">15°W</text>
<text class="ax" x="725.0" y="672.3" text-anchor="middle">10°W</text>
<text class="ax" x="770.9" y="672.3" text-anchor="middle">5°W</text>
<text class="ax" x="829.9" y="672.3" text-anchor="middle">0°W</text>
<text class="ax" x="821.5" y="664.2" text-anchor="start">70°S</text>
<text class="ax" x="153.5" y="664.0" text-anchor="start">70°S</text>
<text class="t1" x="486.5" y="57.2" text-anchor="middle" textLength="629" lengthAdjust="spacingAndGlyphs">HRES-IFS: 07-04-2026 12Z Previsto para el Mie 08 a las 04Z</text>
<text class="t2" x="486.5" y="107.3" text-anchor="middle" textLength="533" lengthAdjust="spacingAndGlyphs">T 850 hPa (C) / Presion media al nivel del mar (hPa)</text>
<text class="t3" x="520.5" y="132.2" text-anchor="middle" textLength="398" lengthAdjust="spacingAndGlyphs">Presion al nivel del mar (lineas azules 1 en 1 hPa)</text>
<rect x="60.00" y="684.2" width="25.71" height="17.8" fill="#7d14af" stroke="#333" stroke-width="0.7"/>
<rect x="85.71" y="684.2" width="25.71" height="17.8" fill="#9b1ec3" stroke="#333" stroke-width="0.7"/>
<rect x="111.43" y="684.2" width="25.71" height="17.8" fill="#c232dc" stroke="#333" stroke-width="0.7"/>
<rect x="137.14" y="684.2" width="25.71" height="17.8" fill="#cc5ac8" stroke="#333" stroke-width="0.7"/>
<rect x="162.86" y="684.2" width="25.71" height="17.8" fill="#cc87b9" stroke="#333" stroke-width="0.7"/>
<rect x="188.57" y="684.2" width="25.71" height="17.8" fill="#d7a0c8" stroke="#333" stroke-width="0.7"/>
<rect x="214.29" y="684.2" width="25.71" height="17.8" fill="#e1b4d2" stroke="#333" stroke-width="0.7"/>
<rect x="240.00" y="684.2" width="25.71" height="17.8" fill="#e6d7e1" stroke="#333" stroke-width="0.7"/>
<rect x="265.71" y="684.2" width="25.71" height="17.8" fill="#f0ebf0" stroke="#333" stroke-width="0.7"/>
<rect x="291.43" y="684.2" width="25.71" height="17.8" fill="#0000ff" stroke="#333" stroke-width="0.7"/>
<rect x="317.14" y="684.2" width="25.71" height="17.8" fill="#4646e6" stroke="#333" stroke-width="0.7"/>
<rect x="342.86" y="684.2" width="25.71" height="17.8" fill="#5064ff" stroke="#333" stroke-width="0.7"/>
<rect x="368.57" y="684.2" width="25.71" height="17.8" fill="#4682ff" stroke="#333" stroke-width="0.7"/>
<rect x="394.29" y="684.2" width="25.71" height="17.8" fill="#55a5fa" stroke="#333" stroke-width="0.7"/>
<rect x="420.00" y="684.2" width="25.71" height="17.8" fill="#55c8ff" stroke="#333" stroke-width="0.7"/>
<rect x="445.71" y="684.2" width="25.71" height="17.8" fill="#aadcff" stroke="#333" stroke-width="0.7"/>
<rect x="471.43" y="684.2" width="25.71" height="17.8" fill="#ffffff" stroke="#333" stroke-width="0.7"/>
<rect x="497.14" y="684.2" width="25.71" height="17.8" fill="#8cf0c8" stroke="#333" stroke-width="0.7"/>
<rect x="522.86" y="684.2" width="25.71" height="17.8" fill="#1ecdc8" stroke="#333" stroke-width="0.7"/>
<rect x="548.57" y="684.2" width="25.71" height="17.8" fill="#1eb4a0" stroke="#333" stroke-width="0.7"/>
<rect x="574.29" y="684.2" width="25.71" height="17.8" fill="#82f57d" stroke="#333" stroke-width="0.7"/>
<rect x="600.00" y="684.2" width="25.71" height="17.8" fill="#00ff00" stroke="#333" stroke-width="0.7"/>
<rect x="625.71" y="684.2" width="25.71" height="17.8" fill="#007d00" stroke="#333" stroke-width="0.7"/>
<rect x="651.43" y="684.2" width="25.71" height="17.8" fill="#ffffa0" stroke="#333" stroke-width="0.7"/>
<rect x="677.14" y="684.2" width="25.71" height="17.8" fill="#ffff00" stroke="#333" stroke-width="0.7"/>
<rect x="702.86" y="684.2" width="25.71" height="17.8" fill="#ff7d00" stroke="#333" stroke-width="0.7"/>
<rect x="728.57" y="684.2" width="25.71" height="17.8" fill="#f5a0d2" stroke="#333" stroke-width="0.7"/>
<rect x="754.29" y="684.2" width="25.71" height="17.8" fill="#fccd9b" stroke="#333" stroke-width="0.7"/>
<rect x="780.00" y="684.2" width="25.71" height="17.8" fill="#af5514" stroke="#333" stroke-width="0.7"/>
<rect x="805.71" y="684.2" width="25.71" height="17.8" fill="#ff0000" stroke="#333" stroke-width="0.7"/>
<rect x="831.43" y="684.2" width="25.71" height="17.8" fill="#ff00ff" stroke="#333" stroke-width="0.7"/>
<rect x="857.14" y="684.2" width="25.71" height="17.8" fill="#aa14af" stroke="#333" stroke-width="0.7"/>
<rect x="882.86" y="684.2" width="25.71" height="17.8" fill="#f091d2" stroke="#333" stroke-width="0.7"/>
<rect x="908.57" y="684.2" width="25.71" height="17.8" fill="#913264" stroke="#333" stroke-width="0.7"/>
<rect x="934.29" y="684.2" width="25.71" height="17.8" fill="#000000" stroke="#333" stroke-width="0.7"/>
<rect x="735.5" y="693.8" width="0.9" height="0.9" fill="#e8d060"/>
<rect x="738.5" y="694.6" width="0.9" height="0.9" fill="#e8d060"/>
<rect x="744.3" y="686.7" width="0.9" height="0.9" fill="#e8d060"/>
<rect x="730.4" y="698.1" width="0.9" height="0.9" fill="#e8d060"/>
<rect x="736.0" y="689.2" width="0.9" height="0.9" fill="#e8d060"/>
<rect x="752.7" y="692.7" width="0.9" height="0.9" fill="#e8d060"/>
<rect x="749.1" y="692.8" width="0.9" height="0.9" fill="#e8d060"/>
<rect x="744.6" y="687.9" width="0.9" height="0.9" fill="#e8d060"/>
<rect x="744.5" y="698.5" width="0.9" height="0.9" fill="#e8d060"/>
<rect x="742.0" y="696.7" width="0.9" height="0.9" fill="#e8d060"/>
<rect x="745.3" y="686.6" width="0.9" height="0.9" fill="#e8d060"/>
<rect x="747.3" y="694.4" width="0.9" height="0.9" fill="#e8d060"/>
<rect x="736.9" y="686.2" width="0.9" height="0.9" fill="#e8d060"/>
<rect x="749.7" y="692.7" width="0.9" height="0.9" fill="#e8d060"/>
<rect x="746.4" y="698.7" width="0.9" height="0.9" fill="#e8d060"/>
<rect x="746.3" y="699.3" width="0.9" height="0.9" fill="#e8d060"/>
<rect x="739.0" y="697.6" width="0.9" height="0.9" fill="#e8d060"/>
<rect x="740.2" y="699.5" width="0.9" height="0.9" fill="#e8d060"/>
<rect x="750.0" y="687.1" width="0.9" height="0.9" fill="#e8d060"/>
<rect x="733.2" y="688.9" width="0.9" height="0.9" fill="#e8d060"/>
<rect x="752.0" y="692.2" width="0.9" height="0.9" fill="#e8d060"/>
<rect x="744.3" y="690.2" width="0.9" height="0.9" fill="#e8d060"/>
<rect x="741.6" y="691.4" width="0.9" height="0.9" fill="#e8d060"/>
<rect x="738.0" y="694.4" width="0.9" height="0.9" fill="#e8d060"/>
<rect x="743.3" y="699.1" width="0.9" height="0.9" fill="#e8d060"/>
<rect x="745.6" y="699.4" width="0.9" height="0.9" fill="#e8d060"/>
<rect x="801.0" y="700.4" width="0.9" height="0.9" fill="#d02818"/>
<rect x="796.7" y="688.1" width="0.9" height="0.9" fill="#d02818"/>
<rect x="801.0" y="700.0" width="0.9" height="0.9" fill="#d02818"/>
<rect x="802.0" y="694.1" width="0.9" height="0.9" fill="#d02818"/>
<rect x="797.7" y="688.8" width="0.9" height="0.9" fill="#d02818"/>
<rect x="800.4" y="694.2" width="0.9" height="0.9" fill="#d02818"/>
<rect x="788.0" y="686.6" width="0.9" height="0.9" fill="#d02818"/>
<rect x="800.9" y="700.3" width="0.9" height="0.9" fill="#d02818"/>
<rect x="783.5" y="697.5" width="0.9" height="0.9" fill="#d02818"/>
<rect x="790.8" y="687.9" width="0.9" height="0.9" fill="#d02818"/>
<rect x="788.2" y="697.1" width="0.9" height="0.9" fill="#d02818"/>
<rect x="801.3" y="686.4" width="0.9" height="0.9" fill="#d02818"/>
<rect x="795.5" y="686.4" width="0.9" height="0.9" fill="#d02818"/>
<rect x="797.8" y="690.6" width="0.9" height="0.9" fill="#d02818"/>
<rect x="801.5" y="700.2" width="0.9" height="0.9" fill="#d02818"/>
<rect x="793.0" y="700.5" width="0.9" height="0.9" fill="#d02818"/>
<rect x="788.5" y="686.8" width="0.9" height="0.9" fill="#d02818"/>
<rect x="795.1" y="686.2" width="0.9" height="0.9" fill="#d02818"/>
<rect x="786.0" y="691.7" width="0.9" height="0.9" fill="#d02818"/>
<rect x="795.4" y="688.0" width="0.9" height="0.9" fill="#d02818"/>
<rect x="782.5" y="698.5" width="0.9" height="0.9" fill="#d02818"/>
<rect x="788.6" y="699.9" width="0.9" height="0.9" fill="#d02818"/>
<rect x="801.9" y="691.3" width="0.9" height="0.9" fill="#d02818"/>
<rect x="792.0" y="693.4" width="0.9" height="0.9" fill="#d02818"/>
<rect x="796.1" y="694.5" width="0.9" height="0.9" fill="#d02818"/>
<rect x="794.2" y="694.9" width="0.9" height="0.9" fill="#d02818"/>
<rect x="905.7" y="693.2" width="0.9" height="0.9" fill="#a050c0"/>
<rect x="894.2" y="696.4" width="0.9" height="0.9" fill="#a050c0"/>
<rect x="889.8" y="690.2" width="0.9" height="0.9" fill="#a050c0"/>
<rect x="906.6" y="693.4" width="0.9" height="0.9" fill="#a050c0"/>
<rect x="896.8" y="685.9" width="0.9" height="0.9" fill="#a050c0"/>
<rect x="893.8" y="694.3" width="0.9" height="0.9" fill="#a050c0"/>
<rect x="884.8" y="694.8" width="0.9" height="0.9" fill="#a050c0"/>
<rect x="898.7" y="686.6" width="0.9" height="0.9" fill="#a050c0"/>
<rect x="898.6" y="692.6" width="0.9" height="0.9" fill="#a050c0"/>
<rect x="899.8" y="690.9" width="0.9" height="0.9" fill="#a050c0"/>
<rect x="900.4" y="696.6" width="0.9" height="0.9" fill="#a050c0"/>
<rect x="884.9" y="686.6" width="0.9" height="0.9" fill="#a050c0"/>
<rect x="899.7" y="700.0" width="0.9" height="0.9" fill="#a050c0"/>
<rect x="890.1" y="692.5" width="0.9" height="0.9" fill="#a050c0"/>
<rect x="897.8" y="690.4" width="0.9" height="0.9" fill="#a050c0"/>
<rect x="892.6" y="690.3" width="0.9" height="0.9" fill="#a050c0"/>
<rect x="892.7" y="694.5" width="0.9" height="0.9" fill="#a050c0"/>
<rect x="891.2" y="691.3" width="0.9" height="0.9" fill="#a050c0"/>
<rect x="901.9" y="686.1" width="0.9" height="0.9" fill="#a050c0"/>
<rect x="897.3" y="696.6" width="0.9" height="0.9" fill="#a050c0"/>
<rect x="891.4" y="689.0" width="0.9" height="0.9" fill="#a050c0"/>
<rect x="902.6" y="689.2" width="0.9" height="0.9" fill="#a050c0"/>
<rect x="888.6" y="692.1" width="0.9" height="0.9" fill="#a050c0"/>
<rect x="900.2" y="687.2" width="0.9" height="0.9" fill="#a050c0"/>
<rect x="891.7" y="690.6" width="0.9" height="0.9" fill="#a050c0"/>
<rect x="903.3" y="692.2" width="0.9" height="0.9" fill="#a050c0"/>
<rect x="492.4" y="688.2" width="0.9" height="0.9" fill="#d8d8d8"/>
<rect x="480.6" y="695.3" width="0.9" height="0.9" fill="#d8d8d8"/>
<rect x="493.0" y="692.4" width="0.9" height="0.9" fill="#d8d8d8"/>
<rect x="478.0" y="687.5" width="0.9" height="0.9" fill="#d8d8d8"/>
<rect x="485.0" y="688.5" width="0.9" height="0.9" fill="#d8d8d8"/>
<rect x="491.3" y="698.1" width="0.9" height="0.9" fill="#d8d8d8"/>
<rect x="477.1" y="689.8" width="0.9" height="0.9" fill="#d8d8d8"/>
<rect x="491.3" y="695.2" width="0.9" height="0.9" fill="#d8d8d8"/>
<rect x="60.0" y="684.2" width="900.0" height="17.8" fill="none" stroke="#222" stroke-width="1.3"/>
<text class="cl" x="85.71" y="676.9" textLength="15.6" lengthAdjust="spacingAndGlyphs">-30</text>
<text class="cl" x="111.43" y="676.9" textLength="15.6" lengthAdjust="spacingAndGlyphs">-28</text>
<text class="cl" x="137.14" y="676.9" textLength="15.6" lengthAdjust="spacingAndGlyphs">-26</text>
<text class="cl" x="162.86" y="676.9" textLength="15.6" lengthAdjust="spacingAndGlyphs">-24</text>
<text class="cl" x="188.57" y="676.9" textLength="15.6" lengthAdjust="spacingAndGlyphs">-22</text>
<text class="cl" x="214.29" y="676.9" textLength="15.6" lengthAdjust="spacingAndGlyphs">-20</text>
<text class="cl" x="240.00" y="676.9" textLength="15.6" lengthAdjust="spacingAndGlyphs">-18</text>
<text class="cl" x="265.71" y="676.9" textLength="15.6" lengthAdjust="spacingAndGlyphs">-16</text>
<text class="cl" x="291.43" y="676.9" textLength="15.6" lengthAdjust="spacingAndGlyphs">-14</text>
<text class="cl" x="317.14" y="676.9" textLength="15.6" lengthAdjust="spacingAndGlyphs">-12</text>
<text class="cl" x="342.86" y="676.9" textLength="15.6" lengthAdjust="spacingAndGlyphs">-10</text>
<text class="cl" x="368.57" y="676.9" textLength="9.6" lengthAdjust="spacingAndGlyphs">-8</text>
<text class="cl" x="394.29" y="676.9" textLength="9.6" lengthAdjust="spacingAndGlyphs">-6</text>
<text class="cl" x="420.00" y="676.9" textLength="9.6" lengthAdjust="spacingAndGlyphs">-4</text>
<text class="cl" x="445.71" y="676.9" textLength="9.6" lengthAdjust="spacingAndGlyphs">-2</text>
<text class="cl" x="471.43" y="676.9" textLength="6.0" lengthAdjust="spacingAndGlyphs">0</text>
<text class="cl" x="497.14" y="676.9" textLength="6.0" lengthAdjust="spacingAndGlyphs">2</text>
<text class="cl" x="522.86" y="676.9" textLength="6.0" lengthAdjust="spacingAndGlyphs">4</text>
<text class="cl" x="548.57" y="676.9" textLength="6.0" lengthAdjust="spacingAndGlyphs">6</text>
<text class="cl" x="574.29" y="676.9" textLength="6.0" lengthAdjust="spacingAndGlyphs">8</text>
<text class="cl" x="600.00" y="676.9" textLength="12.0" lengthAdjust="spacingAndGlyphs">10</text>
<text class="cl" x="625.71" y="676.9" textLength="12.0" lengthAdjust="spacingAndGlyphs">12</text>
<text class="cl" x="651.43" y="676.9" textLength="12.0" lengthAdjust="spacingAndGlyphs">14</text>
<text class="cl" x="677.14" y="676.9" textLength="12.0" lengthAdjust="spacingAndGlyphs">16</text>
<text class="cl" x="702.86" y="676.9" textLength="12.0" lengthAdjust="spacingAndGlyphs">18</text>
<text class="cl" x="728.57" y="676.9" textLength="12.0" lengthAdjust="spacingAndGlyphs">20</text>
<text class="cl" x="754.29" y="676.9" textLength="12.0" lengthAdjust="spacingAndGlyphs">22</text>
<text class="cl" x="780.00" y="676.9" textLength="12.0" lengthAdjust="spacingAndGlyphs">24</text>
<text class="cl" x="805.71" y="676.9" textLength="12.0" lengthAdjust="spacingAndGlyphs">26</text>
<text class="cl" x="831.43" y="676.9" textLength="12.0" lengthAdjust="spacingAndGlyphs">28</text>
<text class="cl" x="857.14" y="676.9" textLength="12.0" lengthAdjust="spacingAndGlyphs">30</text>
<text class="cl" x="882.86" y="676.9" textLength="12.0" lengthAdjust="spacingAndGlyphs">32</text>
<text class="cl" x="908.57" y="676.9" textLength="12.0" lengthAdjust="spacingAndGlyphs">34</text>
<text class="cl" x="934.29" y="676.9" textLength="12.0" lengthAdjust="spacingAndGlyphs">36</text>
<text class="cl" x="960.00" y="676.9" textLength="12.0" lengthAdjust="spacingAndGlyphs">70</text>
</svg></body></html>
